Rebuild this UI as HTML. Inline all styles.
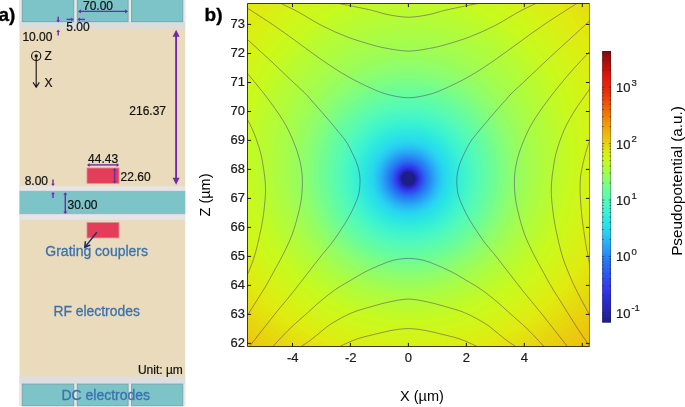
<!DOCTYPE html>
<html><head><meta charset="utf-8"><title>figure</title>
<style>html,body{margin:0;padding:0;background:#fff;}body{width:685px;height:407px;overflow:hidden;font-family:"Liberation Sans", sans-serif;}svg{display:block;will-change:transform;opacity:0.999;}</style></head>
<body>
<svg width="685" height="407" viewBox="0 0 685 407">
<rect width="685" height="407" fill="#fff"/>
<rect x="19.5" y="0" width="165.7" height="405.8" fill="#e9dbbb"/>
<rect x="19.5" y="0.0" width="165.7" height="28.8" fill="#dcdcdc"/>
<rect x="19.5" y="186.1" width="165.7" height="33.7" fill="#e5e5e8"/>
<rect x="19.5" y="376.7" width="165.7" height="29.1" fill="#dedee0"/>
<rect x="19.5" y="0" width="165.7" height="21.8" fill="#ebe8e8"/>
<rect x="19.5" y="384" width="165.7" height="21.8" fill="#ebe8e8"/>
<rect x="19.5" y="191.4" width="165.7" height="22.2" fill="#7dc4c9"/>
<path d="M19.5 191.3H185.2M19.5 213.7H185.2" stroke="#9a9a96" stroke-width="0.8" stroke-opacity="0.7"/>
<rect x="22.2" y="-2" width="51.6" height="23.7" fill="#7dc4c9" stroke="#6fa3a8" stroke-width="0.9"/>
<rect x="22.2" y="384.1" width="51.6" height="21.7" fill="#7dc4c9" stroke="#6fa3a8" stroke-width="0.9"/>
<rect x="77.2" y="-2" width="50.9" height="23.7" fill="#7dc4c9" stroke="#6fa3a8" stroke-width="0.9"/>
<rect x="77.2" y="384.1" width="50.9" height="21.7" fill="#7dc4c9" stroke="#6fa3a8" stroke-width="0.9"/>
<rect x="131.6" y="-2" width="51.2" height="23.7" fill="#7dc4c9" stroke="#6fa3a8" stroke-width="0.9"/>
<rect x="131.6" y="384.1" width="51.2" height="21.7" fill="#7dc4c9" stroke="#6fa3a8" stroke-width="0.9"/>
<rect x="87" y="168.0" width="32" height="15.3" fill="#e43d5a" stroke="#d98a98" stroke-width="0.8"/>
<rect x="87" y="222.6" width="32" height="15.3" fill="#e43d5a" stroke="#d98a98" stroke-width="0.8"/>
<path d="M176.1 35V180" stroke="#6f2aa8" stroke-width="1.9"/><path d="M176.1 29.8l-3.5 7h7zM176.1 184.8l-3.5 -7h7z" fill="#6f2aa8"/>
<path d="M79.5 11.4H126.5" stroke="#6f2aa8" stroke-width="1.4"/><path d="M128.0 11.4l-2.9 -2.2v4.4z" fill="#6f2aa8"/><path d="M78.0 11.4l2.9 -2.2v4.4z" fill="#6f2aa8"/>
<path d="M66.6 19.4H72.3" stroke="#6f2aa8" stroke-width="1.4"/><path d="M73.8 19.4l-2.5 -1.9v3.8z" fill="#6f2aa8"/>
<path d="M79.5 19.4H85" stroke="#6f2aa8" stroke-width="1.4"/><path d="M77.3 19.4l2.6 -1.9v3.8z" fill="#6f2aa8"/>
<path d="M58.2 16.7V20.9" stroke="#6f2aa8" stroke-width="1.4"/><path d="M58.2 22.4l-1.8 -2.3h3.6z" fill="#6f2aa8"/>
<path d="M58.2 31.1V35.6" stroke="#6f2aa8" stroke-width="1.4"/><path d="M58.2 29.6l-1.8 2.3h3.6z" fill="#6f2aa8"/>
<path d="M53.0 179.5V184.5" stroke="#6f2aa8" stroke-width="1.4"/><path d="M53.0 186.0l-1.8 -2.3h3.6z" fill="#6f2aa8"/>
<path d="M53.0 193.5V198.0" stroke="#6f2aa8" stroke-width="1.4"/><path d="M53.0 192.0l-1.8 2.3h3.6z" fill="#6f2aa8"/>
<path d="M65.3 193.7V212.5" stroke="#6f2aa8" stroke-width="1.4"/><path d="M65.3 192.2l-2.0 2.6h4.0z" fill="#6f2aa8"/><path d="M65.3 214.0l-2.0 -2.6h4.0z" fill="#6f2aa8"/>
<path d="M88.5 164.9H117.7" stroke="#6f2aa8" stroke-width="1.4"/><path d="M119.2 164.9l-2.6 -2.0v4.0z" fill="#6f2aa8"/><path d="M87.0 164.9l2.6 -2.0v4.0z" fill="#6f2aa8"/>
<path d="M114.6 169.5V182.1" stroke="#6f2aa8" stroke-width="1.4"/><path d="M114.6 168.0l-2.0 2.6h4.0z" fill="#6f2aa8"/><path d="M114.6 183.6l-2.0 -2.6h4.0z" fill="#6f2aa8"/>
<circle cx="36.2" cy="55.9" r="4.6" fill="none" stroke="#111" stroke-width="1.1"/><circle cx="36.2" cy="55.9" r="1.6" fill="#111"/>
<path d="M36.2 56V87M33.1 82.4L36.2 87.3L39.3 82.4" fill="none" stroke="#111" stroke-width="1.1"/>
<path d="M96.8 232.4L84.9 247.1M85.4 241.2L84.8 247.3L90.3 245" fill="none" stroke="#1f2a63" stroke-width="1.5"/>
<g font-family='"Liberation Sans", sans-serif' font-size="12" fill="#111" stroke="#111" stroke-width="0.2">
<text x="83.0" y="9.6">70.00</text>
<text x="66.3" y="31.2">5.00</text>
<text x="22.4" y="40.5">10.00</text>
<text x="129.3" y="115.1">216.37</text>
<text x="88.1" y="163.0">44.43</text>
<text x="120.6" y="181.1">22.60</text>
<text x="24.7" y="184.5">8.00</text>
<text x="67.5" y="209.1">30.00</text>
<text x="44.6" y="59.8">Z</text>
<text x="44.6" y="86.6">X</text>
<text x="137.9" y="374.3">Unit: µm</text>
</g>
<g font-family='"Liberation Sans", sans-serif' font-size="14" fill="#3a72ae" stroke="#3a72ae" stroke-width="0.3">
<text x="45.3" y="256.4">Grating couplers</text>
<text x="53.4" y="316.2" font-size="13.9">RF electrodes</text>
<text x="61.4" y="399.7">DC electrodes</text>
</g>
<text x="-1.6" y="20.7" font-family='"Liberation Sans", sans-serif' font-size="19" font-weight="bold" fill="#000" stroke="#000" stroke-width="0.35">a)</text>
<clipPath id="pc"><rect x="247.5" y="3.5" width="342.0" height="343.0"/></clipPath>
<g clip-path="url(#pc)">
<rect x="246.5" y="2.5" width="344.0" height="345.0" fill="#f08005"/>
<polygon points="851.2,178.8 861.5,139.2 869.1,97.6 873.8,54.1 875.2,8.9 873.1,-37.9 867.1,-86.0 857.0,-135.3 842.3,-185.3 822.8,-235.6 798.0,-285.6 767.8,-334.4 731.7,-381.3 689.9,-424.8 642.3,-463.8 589.3,-496.5 531.9,-521.4 471.0,-537.0 408.4,-542.3 345.8,-537.0 284.9,-521.4 227.5,-496.5 174.5,-463.8 126.9,-424.8 85.1,-381.3 49.0,-334.4 18.8,-285.6 -6.0,-235.6 -25.5,-185.3 -40.2,-135.3 -50.3,-86.0 -56.3,-37.9 -58.4,8.9 -57.0,54.1 -52.3,97.6 -44.7,139.2 -34.4,178.8 -21.7,216.4 -6.6,252.0 10.4,285.4 29.4,316.8 50.0,345.9 72.1,373.0 95.6,397.8 120.3,420.5 146.2,441.0 173.0,459.4 200.6,475.6 229.0,489.6 257.9,501.5 287.4,511.2 317.3,518.7 347.5,524.1 377.9,527.3 408.4,528.4 438.9,527.3 469.3,524.1 499.5,518.7 529.4,511.2 558.9,501.5 587.8,489.6 616.2,475.6 643.8,459.4 670.6,441.0 696.5,420.5 721.2,397.8 744.7,373.0 766.8,345.9 787.4,316.8 806.4,285.4 823.4,252.0 838.5,216.4" fill="#f08005"/>
<polygon points="839.7,178.8 849.4,140.2 856.4,99.8 860.6,57.6 861.5,13.9 859.0,-31.3 852.7,-77.7 842.3,-125.0 827.5,-172.9 808.0,-220.8 783.5,-268.2 753.7,-314.3 718.5,-358.3 677.8,-398.9 631.8,-435.0 580.9,-465.1 526.0,-487.9 468.0,-502.1 408.4,-506.9 348.8,-502.1 290.8,-487.9 235.9,-465.1 185.0,-435.0 139.0,-398.9 98.3,-358.3 63.1,-314.3 33.3,-268.2 8.8,-220.8 -10.7,-172.9 -25.5,-125.0 -35.9,-77.7 -42.2,-31.3 -44.7,13.9 -43.8,57.6 -39.6,99.8 -32.6,140.2 -22.9,178.8 -10.7,215.5 3.7,250.2 20.1,282.8 38.4,313.5 58.4,342.0 79.9,368.5 102.7,392.8 126.8,415.1 152.0,435.2 178.1,453.2 205.1,469.1 232.8,482.9 261.2,494.5 290.0,504.1 319.3,511.5 348.8,516.8 378.6,519.9 408.4,521.0 438.2,519.9 468.0,516.8 497.5,511.5 526.8,504.1 555.6,494.5 584.0,482.9 611.7,469.1 638.7,453.2 664.8,435.2 690.0,415.1 714.1,392.8 736.9,368.5 758.4,342.0 778.4,313.5 796.7,282.8 813.1,250.2 827.5,215.5" fill="#f08405"/>
<polygon points="828.5,178.8 837.6,141.2 844.1,102.0 847.8,61.1 848.3,18.7 845.4,-25.0 838.7,-69.7 828.2,-115.1 813.3,-161.0 793.9,-206.7 769.7,-251.7 740.4,-295.4 706.0,-336.7 666.5,-374.8 622.1,-408.3 573.2,-436.2 520.5,-457.2 465.2,-470.2 408.4,-474.7 351.6,-470.2 296.3,-457.2 243.6,-436.2 194.7,-408.3 150.3,-374.8 110.8,-336.7 76.4,-295.4 47.1,-251.7 22.9,-206.7 3.5,-161.0 -11.4,-115.1 -21.9,-69.7 -28.6,-25.0 -31.5,18.7 -31.0,61.1 -27.3,102.0 -20.8,141.2 -11.7,178.8 -0.1,214.5 13.7,248.4 29.6,280.3 47.2,310.3 66.6,338.2 87.5,364.1 109.7,388.0 133.1,409.8 157.7,429.5 183.2,447.2 209.6,462.8 236.6,476.3 264.3,487.7 292.5,497.1 321.2,504.4 350.1,509.6 379.2,512.7 408.4,513.7 437.6,512.7 466.7,509.6 495.6,504.4 524.3,497.1 552.5,487.7 580.2,476.3 607.2,462.8 633.6,447.2 659.1,429.5 683.7,409.8 707.1,388.0 729.3,364.1 750.2,338.2 769.6,310.3 787.2,280.3 803.1,248.4 816.9,214.5" fill="#f08805"/>
<polygon points="817.5,178.8 826.2,142.2 832.2,104.1 835.4,64.4 835.5,23.4 832.2,-18.8 825.4,-61.9 814.6,-105.6 799.7,-149.6 780.5,-193.3 756.6,-236.1 727.9,-277.5 694.3,-316.5 656.0,-352.2 613.1,-383.5 566.0,-409.5 515.6,-428.9 462.6,-441.0 408.4,-445.0 354.2,-441.0 301.2,-428.9 250.8,-409.5 203.7,-383.5 160.8,-352.2 122.5,-316.5 88.9,-277.5 60.2,-236.1 36.3,-193.3 17.1,-149.6 2.2,-105.6 -8.6,-61.9 -15.4,-18.8 -18.7,23.4 -18.6,64.4 -15.4,104.1 -9.4,142.2 -0.7,178.8 10.3,213.6 23.5,246.7 38.8,277.8 55.9,307.1 74.6,334.4 94.9,359.8 116.5,383.2 139.4,404.6 163.3,423.9 188.2,441.3 213.9,456.6 240.4,469.8 267.5,481.1 295.0,490.3 323.0,497.4 351.3,502.5 379.8,505.6 408.4,506.6 437.0,505.6 465.5,502.5 493.8,497.4 521.8,490.3 549.3,481.1 576.4,469.8 602.9,456.6 628.6,441.3 653.5,423.9 677.4,404.6 700.3,383.2 721.9,359.8 742.2,334.4 760.9,307.1 778.0,277.8 793.3,246.7 806.5,213.6" fill="#f08d05"/>
<polygon points="806.9,178.8 815.0,143.2 820.6,106.1 823.4,67.6 823.1,27.9 819.5,-12.9 812.5,-54.5 801.6,-96.5 786.8,-138.7 767.7,-180.5 744.1,-221.3 716.0,-260.5 683.3,-297.4 646.1,-331.0 604.7,-360.4 559.4,-384.6 510.9,-402.7 460.3,-413.9 408.4,-417.7 356.5,-413.9 305.9,-402.7 257.4,-384.6 212.1,-360.4 170.7,-331.0 133.5,-297.4 100.8,-260.5 72.7,-221.3 49.1,-180.5 30.0,-138.7 15.2,-96.5 4.3,-54.5 -2.7,-12.9 -6.3,27.9 -6.6,67.6 -3.8,106.1 1.8,143.2 9.9,178.8 20.4,212.7 33.1,245.0 47.8,275.4 64.3,304.0 82.5,330.8 102.2,355.6 123.2,378.5 145.4,399.4 168.8,418.4 193.1,435.4 218.2,450.4 244.0,463.5 270.5,474.5 297.5,483.5 324.9,490.6 352.5,495.6 380.4,498.6 408.4,499.6 436.4,498.6 464.3,495.6 491.9,490.6 519.3,483.5 546.3,474.5 572.8,463.5 598.6,450.4 623.7,435.4 648.0,418.4 671.4,399.4 693.6,378.5 714.6,355.6 734.3,330.8 752.5,304.0 769.0,275.4 783.7,245.0 796.4,212.7" fill="#f09105"/>
<polygon points="796.5,178.8 804.2,144.2 809.3,108.1 811.7,70.7 811.1,32.2 807.3,-7.2 800.1,-47.3 789.1,-87.8 774.3,-128.2 755.4,-168.2 732.3,-207.2 704.8,-244.5 672.9,-279.4 636.8,-311.1 596.8,-338.7 553.1,-361.4 506.6,-378.3 458.1,-388.7 408.4,-392.2 358.7,-388.7 310.2,-378.3 263.7,-361.4 220.0,-338.7 180.0,-311.1 143.9,-279.4 112.0,-244.5 84.5,-207.2 61.4,-168.2 42.5,-128.2 27.7,-87.8 16.7,-47.3 9.5,-7.2 5.7,32.2 5.1,70.7 7.5,108.1 12.6,144.2 20.3,178.8 30.3,211.9 42.5,243.3 56.7,273.1 72.6,301.0 90.2,327.2 109.3,351.5 129.8,373.9 151.4,394.4 174.2,413.0 197.9,429.7 222.4,444.5 247.6,457.2 273.5,468.1 299.9,476.9 326.7,483.8 353.7,488.8 381.0,491.7 408.4,492.7 435.8,491.7 463.1,488.8 490.1,483.8 516.9,476.9 543.3,468.1 569.2,457.2 594.4,444.5 618.9,429.7 642.6,413.0 665.4,394.4 687.0,373.9 707.5,351.5 726.6,327.2 744.2,301.0 760.1,273.1 774.3,243.3 786.5,211.9" fill="#f09506"/>
<polygon points="786.4,178.8 793.7,145.1 798.4,110.0 800.4,73.8 799.5,36.4 795.5,-1.7 788.1,-40.4 777.1,-79.4 762.4,-118.2 743.7,-156.5 721.0,-193.7 694.1,-229.2 663.1,-262.4 628.1,-292.3 589.4,-318.4 547.3,-339.7 502.6,-355.5 456.0,-365.2 408.4,-368.5 360.8,-365.2 314.2,-355.5 269.5,-339.7 227.4,-318.4 188.7,-292.3 153.7,-262.4 122.7,-229.2 95.8,-193.7 73.1,-156.5 54.4,-118.2 39.7,-79.4 28.7,-40.4 21.3,-1.7 17.3,36.4 16.4,73.8 18.4,110.0 23.1,145.1 30.4,178.8 39.9,211.0 51.6,241.7 65.3,270.7 80.7,298.1 97.8,323.7 116.3,347.4 136.2,369.4 157.3,389.5 179.4,407.8 202.6,424.1 226.5,438.6 251.2,451.1 276.5,461.7 302.3,470.4 328.4,477.2 354.9,482.1 381.6,485.0 408.4,485.9 435.2,485.0 461.9,482.1 488.4,477.2 514.5,470.4 540.3,461.7 565.6,451.1 590.3,438.6 614.2,424.1 637.4,407.8 659.5,389.5 680.6,369.4 700.5,347.4 719.0,323.7 736.1,298.1 751.5,270.7 765.2,241.7 776.9,211.0" fill="#f09806"/>
<polygon points="776.6,178.8 783.4,146.0 787.8,111.9 789.5,76.7 788.3,40.5 784.0,3.6 776.5,-33.7 765.6,-71.3 751.0,-108.6 732.5,-145.3 710.2,-180.9 684.0,-214.7 653.8,-246.2 619.8,-274.6 582.4,-299.2 541.8,-319.2 498.8,-334.1 454.1,-343.3 408.4,-346.3 362.7,-343.3 318.0,-334.1 275.0,-319.2 234.4,-299.2 197.0,-274.6 163.0,-246.2 132.8,-214.7 106.6,-180.9 84.3,-145.3 65.8,-108.6 51.2,-71.3 40.3,-33.7 32.8,3.6 28.5,40.5 27.3,76.7 29.0,111.9 33.4,146.0 40.2,178.8 49.3,210.2 60.5,240.1 73.7,268.5 88.6,295.2 105.1,320.2 123.1,343.5 142.5,365.0 163.0,384.7 184.6,402.6 207.2,418.6 230.5,432.8 254.6,445.1 279.4,455.5 304.6,464.1 330.2,470.7 356.1,475.5 382.2,478.3 408.4,479.3 434.6,478.3 460.7,475.5 486.6,470.7 512.2,464.1 537.4,455.5 562.2,445.1 586.3,432.8 609.6,418.6 632.2,402.6 653.8,384.7 674.3,365.0 693.7,343.5 711.7,320.2 728.2,295.2 743.1,268.5 756.3,240.1 767.5,210.2" fill="#ef9c07"/>
<polygon points="767.0,178.8 773.4,146.9 777.4,113.7 778.8,79.5 777.4,44.5 773.0,8.8 765.4,-27.3 754.4,-63.5 740.0,-99.4 721.8,-134.6 700.0,-168.7 674.3,-200.9 644.9,-230.9 612.0,-257.8 575.8,-281.1 536.7,-300.0 495.3,-314.0 452.3,-322.6 408.4,-325.5 364.5,-322.6 321.5,-314.0 280.1,-300.0 241.0,-281.1 204.8,-257.8 171.9,-230.9 142.5,-200.9 116.8,-168.7 95.0,-134.6 76.8,-99.4 62.4,-63.5 51.4,-27.3 43.8,8.8 39.4,44.5 38.0,79.5 39.4,113.7 43.4,146.9 49.8,178.8 58.5,209.4 69.2,238.6 81.9,266.3 96.3,292.4 112.4,316.8 129.8,339.6 148.6,360.7 168.6,380.0 189.7,397.5 211.7,413.2 234.5,427.1 258.1,439.2 282.2,449.4 306.8,457.8 331.9,464.4 357.2,469.0 382.8,471.8 408.4,472.8 434.0,471.8 459.6,469.0 484.9,464.4 510.0,457.8 534.6,449.4 558.7,439.2 582.3,427.1 605.1,413.2 627.1,397.5 648.2,380.0 668.2,360.7 687.0,339.6 704.4,316.8 720.5,292.4 734.9,266.3 747.6,238.6 758.3,209.4" fill="#efa007"/>
<polygon points="757.7,178.8 763.7,147.7 767.4,115.5 768.5,82.3 766.9,48.3 762.3,13.8 754.7,-21.1 743.7,-56.0 729.4,-90.6 711.6,-124.4 690.1,-156.9 665.1,-187.8 636.5,-216.3 604.6,-241.9 569.6,-264.0 531.8,-281.9 492.0,-295.1 450.6,-303.2 408.4,-305.9 366.2,-303.2 324.8,-295.1 285.0,-281.9 247.2,-264.0 212.2,-241.9 180.3,-216.3 151.7,-187.8 126.7,-156.9 105.2,-124.4 87.4,-90.6 73.1,-56.0 62.1,-21.1 54.5,13.8 49.9,48.3 48.3,82.3 49.4,115.5 53.1,147.7 59.1,178.8 67.4,208.6 77.7,237.1 90.0,264.1 103.9,289.6 119.4,313.6 136.4,335.8 154.7,356.5 174.1,375.4 194.7,392.5 216.1,407.9 238.4,421.6 261.4,433.4 285.0,443.5 309.1,451.7 333.6,458.1 358.3,462.7 383.3,465.4 408.4,466.3 433.5,465.4 458.5,462.7 483.2,458.1 507.7,451.7 531.8,443.5 555.4,433.4 578.4,421.6 600.7,407.9 622.1,392.5 642.7,375.4 662.1,356.5 680.4,335.8 697.4,313.6 712.9,289.6 726.8,264.1 739.1,237.1 749.4,208.6" fill="#efa408"/>
<polygon points="748.6,178.8 754.3,148.5 757.7,117.2 758.5,85.0 756.7,52.0 752.0,18.6 744.3,-15.1 733.4,-48.8 719.3,-82.0 701.7,-114.5 680.7,-145.7 656.3,-175.2 628.5,-202.4 597.5,-226.8 563.6,-247.7 527.2,-264.7 488.8,-277.2 449.0,-284.9 408.4,-287.5 367.8,-284.9 328.0,-277.2 289.6,-264.7 253.2,-247.7 219.3,-226.8 188.3,-202.4 160.5,-175.2 136.1,-145.7 115.1,-114.5 97.5,-82.0 83.4,-48.8 72.5,-15.1 64.8,18.6 60.1,52.0 58.3,85.0 59.1,117.2 62.5,148.5 68.2,178.8 76.1,207.9 86.0,235.6 97.8,262.0 111.3,286.9 126.3,310.3 142.8,332.1 160.6,352.3 179.5,370.8 199.5,387.7 220.5,402.8 242.2,416.1 264.7,427.8 287.7,437.6 311.3,445.7 335.2,452.0 359.4,456.5 383.9,459.2 408.4,460.1 432.9,459.2 457.4,456.5 481.6,452.0 505.5,445.7 529.1,437.6 552.1,427.8 574.6,416.1 596.3,402.8 617.3,387.7 637.3,370.8 656.2,352.3 674.0,332.1 690.5,310.3 705.5,286.9 719.0,262.0 730.8,235.6 740.7,207.9" fill="#efa709"/>
<polygon points="739.7,178.8 745.1,149.3 748.2,118.9 748.8,87.6 746.8,55.6 742.0,23.2 734.3,-9.3 723.5,-41.8 709.5,-73.8 692.3,-105.1 671.7,-135.0 647.9,-163.2 620.9,-189.2 590.8,-212.4 558.0,-232.3 522.9,-248.4 485.8,-260.3 447.5,-267.6 408.4,-270.0 369.3,-267.6 331.0,-260.3 293.9,-248.4 258.8,-232.3 226.0,-212.4 195.9,-189.2 168.9,-163.2 145.1,-135.0 124.5,-105.1 107.3,-73.8 93.3,-41.8 82.5,-9.3 74.8,23.2 70.0,55.6 68.0,87.6 68.6,118.9 71.7,149.3 77.1,178.8 84.6,207.1 94.1,234.2 105.5,260.0 118.5,284.3 133.1,307.2 149.1,328.5 166.4,348.3 184.8,366.4 204.3,382.9 224.7,397.7 246.0,410.8 267.9,422.2 290.4,431.9 313.4,439.8 336.8,445.9 360.5,450.4 384.4,453.0 408.4,453.9 432.4,453.0 456.3,450.4 480.0,445.9 503.4,439.8 526.4,431.9 548.9,422.2 570.8,410.8 592.1,397.7 612.5,382.9 632.0,366.4 650.4,348.3 667.7,328.5 683.7,307.2 698.3,284.3 711.3,260.0 722.7,234.2 732.2,207.1" fill="#eeab09"/>
<polygon points="731.1,178.8 736.2,150.1 739.0,120.5 739.4,90.1 737.2,59.1 732.3,27.8 724.6,-3.7 713.9,-35.1 700.1,-66.0 683.2,-96.0 663.1,-124.7 639.9,-151.7 613.6,-176.6 584.4,-198.7 552.7,-217.7 518.7,-233.0 483.0,-244.2 446.0,-251.1 408.4,-253.5 370.8,-251.1 333.8,-244.2 298.1,-233.0 264.1,-217.7 232.4,-198.7 203.2,-176.6 176.9,-151.7 153.7,-124.7 133.6,-96.0 116.7,-66.0 102.9,-35.1 92.2,-3.7 84.5,27.8 79.6,59.1 77.4,90.1 77.8,120.5 80.6,150.1 85.7,178.8 92.9,206.4 102.0,232.8 112.9,258.0 125.6,281.7 139.7,304.1 155.2,325.0 172.0,344.3 190.0,362.1 209.0,378.2 228.9,392.7 249.6,405.6 271.0,416.7 293.0,426.2 315.5,434.0 338.4,440.0 361.6,444.4 384.9,447.0 408.4,447.8 431.9,447.0 455.2,444.4 478.4,440.0 501.3,434.0 523.8,426.2 545.8,416.7 567.2,405.6 587.9,392.7 607.8,378.2 626.8,362.1 644.8,344.3 661.6,325.0 677.1,304.1 691.2,281.7 703.9,258.0 714.8,232.8 723.9,206.4" fill="#eeaf0a"/>
<polygon points="722.7,178.8 727.5,150.9 730.0,122.1 730.2,92.6 727.9,62.5 723.0,32.1 715.2,1.7 704.6,-28.6 691.1,-58.4 674.4,-87.2 654.8,-114.9 632.2,-140.8 606.6,-164.5 578.4,-185.7 547.6,-203.7 514.8,-218.3 480.3,-229.0 444.7,-235.6 408.4,-237.8 372.1,-235.6 336.5,-229.0 302.0,-218.3 269.2,-203.7 238.4,-185.7 210.2,-164.5 184.6,-140.8 162.0,-114.9 142.4,-87.2 125.7,-58.4 112.2,-28.6 101.6,1.7 93.8,32.1 88.9,62.5 86.6,92.6 86.8,122.1 89.3,150.9 94.1,178.8 100.9,205.7 109.7,231.5 120.3,256.0 132.4,279.2 146.2,301.1 161.2,321.5 177.6,340.4 195.1,357.8 213.6,373.6 233.0,387.8 253.2,400.4 274.1,411.4 295.6,420.7 317.6,428.3 340.0,434.2 362.6,438.5 385.5,441.0 408.4,441.9 431.3,441.0 454.2,438.5 476.8,434.2 499.2,428.3 521.2,420.7 542.7,411.4 563.6,400.4 583.8,387.8 603.2,373.6 621.7,357.8 639.2,340.4 655.6,321.5 670.6,301.1 684.4,279.2 696.5,256.0 707.1,231.5 715.9,205.7" fill="#eeb20b"/>
<polygon points="714.5,178.8 719.0,151.6 721.3,123.6 721.3,94.9 718.9,65.8 713.9,36.3 706.2,6.9 695.7,-22.4 682.3,-51.1 666.1,-78.9 646.9,-105.4 624.8,-130.2 600.0,-153.0 572.5,-173.2 542.8,-190.4 511.1,-204.3 477.8,-214.5 443.4,-220.8 408.4,-222.8 373.4,-220.8 339.0,-214.5 305.7,-204.3 274.0,-190.4 244.3,-173.2 216.8,-153.0 192.0,-130.2 169.9,-105.4 150.7,-78.9 134.5,-51.1 121.1,-22.4 110.6,6.9 102.9,36.3 97.9,65.8 95.5,94.9 95.5,123.6 97.8,151.6 102.3,178.8 108.8,205.0 117.2,230.1 127.4,254.1 139.2,276.8 152.5,298.1 167.1,318.1 183.0,336.6 200.0,353.6 218.1,369.1 237.0,383.1 256.7,395.4 277.1,406.1 298.1,415.2 319.6,422.7 341.5,428.5 363.6,432.7 386.0,435.2 408.4,436.0 430.8,435.2 453.2,432.7 475.3,428.5 497.2,422.7 518.7,415.2 539.7,406.1 560.1,395.4 579.8,383.1 598.7,369.1 616.8,353.6 633.8,336.6 649.7,318.1 664.3,298.1 677.6,276.8 689.4,254.1 699.6,230.1 708.0,205.0" fill="#edb50b"/>
<polygon points="706.6,178.8 710.8,152.3 712.9,125.1 712.7,97.3 710.2,69.0 705.1,40.4 697.5,11.9 687.1,-16.3 673.9,-44.0 658.0,-70.8 639.2,-96.3 617.7,-120.2 593.6,-142.0 567.0,-161.3 538.2,-177.8 507.5,-191.0 475.3,-200.7 442.1,-206.7 408.4,-208.7 374.7,-206.7 341.5,-200.7 309.3,-191.0 278.6,-177.8 249.8,-161.3 223.2,-142.0 199.1,-120.2 177.6,-96.3 158.8,-70.8 142.9,-44.0 129.7,-16.3 119.3,11.9 111.7,40.4 106.6,69.0 104.1,97.3 103.9,125.1 106.0,152.3 110.2,178.8 116.5,204.3 124.5,228.9 134.4,252.2 145.8,274.4 158.6,295.3 172.9,314.8 188.3,332.9 204.9,349.6 222.5,364.7 240.9,378.4 260.2,390.5 280.1,401.0 300.6,409.9 321.6,417.3 343.0,423.0 364.6,427.0 386.5,429.5 408.4,430.3 430.3,429.5 452.2,427.0 473.8,423.0 495.2,417.3 516.2,409.9 536.7,401.0 556.6,390.5 575.9,378.4 594.3,364.7 611.9,349.6 628.5,332.9 643.9,314.8 658.2,295.3 671.0,274.4 682.4,252.2 692.3,228.9 700.3,204.3" fill="#edb80c"/>
<polygon points="698.8,178.8 702.8,153.0 704.7,126.6 704.4,99.5 701.7,72.0 696.6,44.4 689.0,16.8 678.8,-10.5 665.8,-37.2 650.2,-63.0 631.9,-87.6 610.9,-110.5 587.5,-131.4 561.7,-149.9 533.8,-165.7 504.1,-178.3 473.0,-187.6 440.9,-193.2 408.4,-195.1 375.9,-193.2 343.8,-187.6 312.7,-178.3 283.0,-165.7 255.1,-149.9 229.3,-131.4 205.9,-110.5 184.9,-87.6 166.6,-63.0 151.0,-37.2 138.0,-10.5 127.8,16.8 120.2,44.4 115.1,72.0 112.4,99.5 112.1,126.6 114.0,153.0 118.0,178.8 123.9,203.7 131.7,227.6 141.2,250.4 152.2,272.1 164.7,292.4 178.5,311.5 193.5,329.3 209.7,345.6 226.8,360.4 244.8,373.8 263.6,385.6 283.0,395.9 303.1,404.7 323.6,411.9 344.4,417.5 365.6,421.5 387.0,423.9 408.4,424.7 429.8,423.9 451.2,421.5 472.4,417.5 493.2,411.9 513.7,404.7 533.8,395.9 553.2,385.6 572.0,373.8 590.0,360.4 607.1,345.6 623.3,329.3 638.3,311.5 652.1,292.4 664.6,272.1 675.6,250.4 685.1,227.6 692.9,203.7" fill="#edbb0c"/>
<polygon points="691.2,178.8 695.0,153.7 696.7,128.0 696.2,101.7 693.5,75.0 688.4,48.2 680.8,21.5 670.7,-4.9 658.0,-30.7 642.7,-55.5 624.9,-79.2 604.4,-101.2 581.6,-121.2 556.6,-139.0 529.6,-154.1 500.8,-166.2 470.8,-175.0 439.8,-180.4 408.4,-182.2 377.0,-180.4 346.0,-175.0 316.0,-166.2 287.2,-154.1 260.2,-139.0 235.2,-121.2 212.4,-101.2 191.9,-79.2 174.1,-55.5 158.8,-30.7 146.1,-4.9 136.0,21.5 128.4,48.2 123.3,75.0 120.6,101.7 120.1,128.0 121.8,153.7 125.6,178.8 131.2,203.0 138.7,226.4 147.8,248.6 158.5,269.8 170.6,289.7 184.0,308.4 198.6,325.7 214.3,341.6 231.0,356.2 248.6,369.3 266.9,380.9 285.9,391.0 305.4,399.6 325.5,406.6 345.9,412.1 366.6,416.1 387.4,418.4 408.4,419.2 429.4,418.4 450.2,416.1 470.9,412.1 491.3,406.6 511.4,399.6 530.9,391.0 549.9,380.9 568.2,369.3 585.8,356.2 602.5,341.6 618.2,325.7 632.8,308.4 646.2,289.7 658.3,269.8 669.0,248.6 678.1,226.4 685.6,203.0" fill="#ecbe0d"/>
<polygon points="683.9,178.8 687.4,154.4 688.9,129.3 688.3,103.8 685.5,77.9 680.4,52.0 672.9,26.1 663.0,0.6 650.5,-24.3 635.5,-48.3 618.1,-71.1 598.2,-92.2 576.0,-111.5 551.7,-128.5 525.5,-143.0 497.7,-154.6 468.7,-163.0 438.8,-168.2 408.4,-169.9 378.0,-168.2 348.1,-163.0 319.1,-154.6 291.3,-143.0 265.1,-128.5 240.8,-111.5 218.6,-92.2 198.7,-71.1 181.3,-48.3 166.3,-24.3 153.8,0.6 143.9,26.1 136.4,52.0 131.3,77.9 128.5,103.8 127.9,129.3 129.4,154.4 132.9,178.8 138.3,202.4 145.5,225.2 154.3,246.9 164.6,267.5 176.3,287.0 189.4,305.3 203.6,322.2 218.9,337.8 235.1,352.1 252.3,364.9 270.1,376.3 288.7,386.2 307.8,394.6 327.4,401.5 347.3,406.9 367.5,410.7 387.9,413.0 408.4,413.8 428.9,413.0 449.3,410.7 469.5,406.9 489.4,401.5 509.0,394.6 528.1,386.2 546.7,376.3 564.5,364.9 581.7,352.1 597.9,337.8 613.2,322.2 627.4,305.3 640.5,287.0 652.2,267.5 662.5,246.9 671.3,225.2 678.5,202.4" fill="#ecc10e"/>
<polygon points="676.7,178.8 680.0,155.0 681.4,130.7 680.7,105.8 677.8,80.7 672.7,55.6 665.3,30.5 655.5,5.8 643.2,-18.2 628.6,-41.4 611.5,-63.3 592.2,-83.7 570.6,-102.2 547.0,-118.5 521.7,-132.4 494.8,-143.5 466.7,-151.6 437.7,-156.5 408.4,-158.2 379.1,-156.5 350.1,-151.6 322.0,-143.5 295.1,-132.4 269.8,-118.5 246.2,-102.2 224.6,-83.7 205.3,-63.3 188.2,-41.4 173.6,-18.2 161.3,5.8 151.5,30.5 144.1,55.6 139.0,80.7 136.1,105.8 135.4,130.7 136.8,155.0 140.1,178.8 145.2,201.8 152.1,224.0 160.6,245.2 170.6,265.3 182.0,284.4 194.6,302.2 208.5,318.8 223.4,334.1 239.2,348.0 255.9,360.6 273.3,371.7 291.4,381.4 310.1,389.7 329.2,396.4 348.7,401.7 368.4,405.5 388.4,407.7 408.4,408.5 428.4,407.7 448.4,405.5 468.1,401.7 487.6,396.4 506.7,389.7 525.4,381.4 543.5,371.7 560.9,360.6 577.6,348.0 593.4,334.1 608.3,318.8 622.2,302.2 634.8,284.4 646.2,265.3 656.2,245.2 664.7,224.0 671.6,201.8" fill="#ebc40e"/>
<polygon points="669.7,178.8 672.8,155.7 674.0,132.0 673.2,107.8 670.3,83.5 665.2,59.0 657.9,34.8 648.2,10.9 636.2,-12.4 621.9,-34.7 605.3,-55.8 586.4,-75.4 565.4,-93.2 542.6,-108.9 518.0,-122.2 491.9,-132.8 464.7,-140.6 436.8,-145.3 408.4,-146.9 380.0,-145.3 352.1,-140.6 324.9,-132.8 298.8,-122.2 274.2,-108.9 251.4,-93.2 230.4,-75.4 211.5,-55.8 194.9,-34.7 180.6,-12.4 168.6,10.9 158.9,34.8 151.6,59.0 146.5,83.5 143.6,107.8 142.8,132.0 144.0,155.7 147.1,178.8 152.0,201.2 158.6,222.8 166.8,243.5 176.5,263.2 187.5,281.8 199.8,299.2 213.2,315.5 227.7,330.4 243.2,344.0 259.4,356.3 276.4,367.2 294.1,376.8 312.3,384.8 331.0,391.5 350.0,396.6 369.3,400.3 388.8,402.6 408.4,403.3 428.0,402.6 447.5,400.3 466.8,396.6 485.8,391.5 504.5,384.8 522.7,376.8 540.4,367.2 557.4,356.3 573.6,344.0 589.1,330.4 603.6,315.5 617.0,299.2 629.3,281.8 640.3,263.2 650.0,243.5 658.2,222.8 664.8,201.2" fill="#ebc70f"/>
<polygon points="662.9,178.8 665.8,156.3 666.9,133.2 666.0,109.8 663.0,86.1 658.0,62.4 650.7,38.9 641.2,15.8 629.4,-6.7 615.4,-28.2 599.2,-48.6 580.8,-67.5 560.5,-84.6 538.3,-99.7 514.4,-112.4 489.2,-122.6 462.9,-130.1 435.8,-134.6 408.4,-136.1 381.0,-134.6 353.9,-130.1 327.6,-122.6 302.4,-112.4 278.5,-99.7 256.3,-84.6 236.0,-67.5 217.6,-48.6 201.4,-28.2 187.4,-6.7 175.6,15.8 166.1,38.9 158.8,62.4 153.8,86.1 150.8,109.8 149.9,133.2 151.0,156.3 153.9,178.8 158.6,200.7 164.9,221.7 172.8,241.9 182.2,261.1 192.9,279.3 204.8,296.3 217.9,312.2 232.0,326.8 247.0,340.2 262.9,352.2 279.5,362.9 296.7,372.2 314.5,380.1 332.8,386.6 351.4,391.7 370.2,395.3 389.3,397.5 408.4,398.2 427.5,397.5 446.6,395.3 465.4,391.7 484.0,386.6 502.3,380.1 520.1,372.2 537.3,362.9 553.9,352.2 569.8,340.2 584.8,326.8 598.9,312.2 612.0,296.3 623.9,279.3 634.6,261.1 644.0,241.9 651.9,221.7 658.2,200.7" fill="#eacb0f"/>
<polygon points="656.3,178.8 659.0,156.9 660.0,134.4 659.0,111.7 656.0,88.7 650.9,65.7 643.7,42.9 634.4,20.6 622.9,-1.2 609.2,-22.0 593.4,-41.6 575.5,-59.8 555.7,-76.3 534.1,-90.8 511.0,-103.1 486.5,-112.9 461.1,-120.0 434.9,-124.3 408.4,-125.8 381.9,-124.3 355.7,-120.0 330.3,-112.9 305.8,-103.1 282.7,-90.8 261.1,-76.3 241.3,-59.8 223.4,-41.6 207.6,-22.0 193.9,-1.2 182.4,20.6 173.1,42.9 165.9,65.7 160.8,88.7 157.8,111.7 156.8,134.4 157.8,156.9 160.5,178.8 165.0,200.1 171.1,220.6 178.7,240.3 187.8,259.1 198.1,276.8 209.7,293.5 222.5,309.0 236.2,323.3 250.8,336.4 266.3,348.1 282.5,358.6 299.3,367.7 316.7,375.5 334.5,381.8 352.7,386.8 371.1,390.4 389.7,392.5 408.4,393.2 427.1,392.5 445.7,390.4 464.1,386.8 482.3,381.8 500.1,375.5 517.5,367.7 534.3,358.6 550.5,348.1 566.0,336.4 580.6,323.3 594.3,309.0 607.1,293.5 618.7,276.8 629.0,259.1 638.1,240.3 645.7,220.6 651.8,200.1" fill="#e9cf0f"/>
<polygon points="649.8,178.8 652.4,157.5 653.2,135.6 652.2,113.5 649.1,91.2 644.1,68.9 637.0,46.8 627.8,25.1 616.5,4.1 603.2,-16.0 587.7,-34.9 570.3,-52.5 551.1,-68.3 530.1,-82.3 507.7,-94.1 484.0,-103.5 459.4,-110.3 434.1,-114.5 408.4,-115.9 382.7,-114.5 357.4,-110.3 332.8,-103.5 309.1,-94.1 286.7,-82.3 265.7,-68.3 246.5,-52.5 229.1,-34.9 213.6,-16.0 200.3,4.1 189.0,25.1 179.8,46.8 172.7,68.9 167.7,91.2 164.6,113.5 163.6,135.6 164.4,157.5 167.0,178.8 171.2,199.6 177.1,219.6 184.5,238.8 193.2,257.1 203.3,274.4 214.5,290.7 226.9,305.9 240.3,319.9 254.6,332.6 269.6,344.2 285.4,354.4 301.9,363.3 318.8,370.9 336.2,377.2 353.9,382.0 371.9,385.5 390.1,387.6 408.4,388.3 426.7,387.6 444.9,385.5 462.9,382.0 480.6,377.2 498.0,370.9 514.9,363.3 531.4,354.4 547.2,344.2 562.2,332.6 576.5,319.9 589.9,305.9 602.3,290.7 613.5,274.4 623.6,257.1 632.3,238.8 639.7,219.6 645.6,199.6" fill="#e8d30f"/>
<polygon points="643.6,178.8 646.0,158.0 646.7,136.8 645.5,115.3 642.5,93.6 637.5,72.0 630.5,50.6 621.5,29.6 610.4,9.3 597.3,-10.1 582.3,-28.4 565.4,-45.4 546.6,-60.7 526.3,-74.1 504.6,-85.4 481.6,-94.5 457.7,-101.0 433.2,-105.0 408.4,-106.4 383.6,-105.0 359.1,-101.0 335.2,-94.5 312.2,-85.4 290.5,-74.1 270.2,-60.7 251.4,-45.4 234.5,-28.4 219.5,-10.1 206.4,9.3 195.3,29.6 186.3,50.6 179.3,72.0 174.3,93.6 171.3,115.3 170.1,136.8 170.8,158.0 173.2,178.8 177.3,199.0 183.0,218.6 190.1,237.3 198.5,255.2 208.3,272.1 219.3,288.0 231.3,302.8 244.3,316.5 258.2,329.0 272.9,340.3 288.3,350.3 304.3,359.0 320.9,366.5 337.9,372.6 355.2,377.3 372.8,380.8 390.6,382.8 408.4,383.5 426.2,382.8 444.0,380.8 461.6,377.3 478.9,372.6 495.9,366.5 512.5,359.0 528.5,350.3 543.9,340.3 558.6,329.0 572.5,316.5 585.5,302.8 597.5,288.0 608.5,272.1 618.3,255.2 626.7,237.3 633.8,218.6 639.5,199.0" fill="#e7d70f"/>
<polygon points="637.4,178.8 639.7,158.6 640.3,137.9 639.1,117.0 636.0,95.9 631.1,75.0 624.2,54.2 615.3,33.9 604.5,14.2 591.7,-4.5 577.1,-22.2 560.6,-38.5 542.4,-53.3 522.6,-66.2 501.5,-77.1 479.3,-85.8 456.2,-92.1 432.4,-96.0 408.4,-97.2 384.4,-96.0 360.6,-92.1 337.5,-85.8 315.3,-77.1 294.2,-66.2 274.4,-53.3 256.2,-38.5 239.7,-22.2 225.1,-4.5 212.3,14.2 201.5,33.9 192.6,54.2 185.7,75.0 180.8,95.9 177.7,117.0 176.5,137.9 177.1,158.6 179.4,178.8 183.3,198.5 188.7,217.5 195.5,235.8 203.8,253.3 213.2,269.8 223.9,285.3 235.6,299.8 248.2,313.2 261.8,325.4 276.1,336.5 291.1,346.3 306.8,354.8 322.9,362.1 339.5,368.1 356.4,372.7 373.6,376.1 391.0,378.1 408.4,378.8 425.8,378.1 443.2,376.1 460.4,372.7 477.3,368.1 493.9,362.1 510.0,354.8 525.7,346.3 540.7,336.5 555.0,325.4 568.6,313.2 581.2,299.8 592.9,285.3 603.6,269.8 613.0,253.3 621.3,235.8 628.1,217.5 633.5,198.5" fill="#e5dc0f"/>
<polygon points="631.5,178.8 633.6,159.1 634.1,139.0 632.8,118.7 629.8,98.2 624.9,77.9 618.1,57.7 609.4,38.1 598.8,19.0 586.3,0.9 572.0,-16.2 556.0,-31.9 538.3,-46.1 519.1,-58.6 498.6,-69.1 477.1,-77.4 454.7,-83.5 431.7,-87.2 408.4,-88.5 385.1,-87.2 362.1,-83.5 339.7,-77.4 318.2,-69.1 297.7,-58.6 278.5,-46.1 260.8,-31.9 244.8,-16.2 230.5,0.9 218.0,19.0 207.4,38.1 198.7,57.7 191.9,77.9 187.0,98.2 184.0,118.7 182.7,139.0 183.2,159.1 185.3,178.8 189.0,198.0 194.3,216.6 200.9,234.4 208.8,251.4 218.0,267.6 228.4,282.7 239.7,296.9 252.1,310.0 265.3,321.9 279.2,332.7 293.9,342.3 309.2,350.7 324.9,357.8 341.1,363.6 357.6,368.2 374.4,371.5 391.4,373.4 408.4,374.1 425.4,373.4 442.4,371.5 459.2,368.2 475.7,363.6 491.9,357.8 507.6,350.7 522.9,342.3 537.6,332.7 551.5,321.9 564.7,310.0 577.1,296.9 588.4,282.7 598.8,267.6 608.0,251.4 615.9,234.4 622.5,216.6 627.8,198.0" fill="#e4e00f"/>
<polygon points="625.7,178.8 627.7,159.6 628.0,140.1 626.7,120.3 623.7,100.4 618.8,80.7 612.1,61.2 603.6,42.1 593.2,23.7 581.1,6.1 567.1,-10.4 551.5,-25.6 534.3,-39.3 515.7,-51.3 495.8,-61.4 474.9,-69.4 453.2,-75.3 430.9,-78.8 408.4,-80.0 385.9,-78.8 363.6,-75.3 341.9,-69.4 321.0,-61.4 301.1,-51.3 282.5,-39.3 265.3,-25.6 249.7,-10.4 235.7,6.1 223.6,23.7 213.2,42.1 204.7,61.2 198.0,80.7 193.1,100.4 190.1,120.3 188.8,140.1 189.1,159.6 191.1,178.8 194.7,197.5 199.7,215.6 206.1,233.0 213.8,249.6 222.7,265.4 232.8,280.2 243.8,294.0 255.9,306.8 268.7,318.5 282.3,329.0 296.6,338.4 311.5,346.6 326.9,353.6 342.7,359.3 358.8,363.7 375.2,366.9 391.8,368.9 408.4,369.5 425.0,368.9 441.6,366.9 458.0,363.7 474.1,359.3 489.9,353.6 505.3,346.6 520.2,338.4 534.5,329.0 548.1,318.5 560.9,306.8 573.0,294.0 584.0,280.2 594.1,265.4 603.0,249.6 610.7,233.0 617.1,215.6 622.1,197.5" fill="#e3e40f"/>
<polygon points="620.0,178.8 621.9,160.1 622.2,141.1 620.8,121.9 617.8,102.6 613.0,83.4 606.4,64.5 598.0,46.0 587.9,28.2 576.0,11.2 562.4,-4.7 547.2,-19.4 530.5,-32.6 512.4,-44.2 493.1,-54.0 472.8,-61.7 451.8,-67.4 430.2,-70.8 408.4,-71.9 386.6,-70.8 365.0,-67.4 344.0,-61.7 323.7,-54.0 304.4,-44.2 286.3,-32.6 269.6,-19.4 254.4,-4.7 240.8,11.2 228.9,28.2 218.8,46.0 210.4,64.5 203.8,83.4 199.0,102.6 196.0,121.9 194.6,141.1 194.9,160.1 196.8,178.8 200.2,197.0 205.0,214.7 211.2,231.6 218.7,247.8 227.4,263.2 237.1,277.7 247.9,291.2 259.6,303.7 272.1,315.1 285.4,325.4 299.3,334.6 313.9,342.6 328.9,349.4 344.3,355.0 360.0,359.3 376.0,362.4 392.2,364.3 408.4,364.9 424.6,364.3 440.8,362.4 456.8,359.3 472.5,355.0 487.9,349.4 502.9,342.6 517.5,334.6 531.4,325.4 544.7,315.1 557.2,303.7 568.9,291.2 579.7,277.7 589.4,263.2 598.1,247.8 605.6,231.6 611.8,214.7 616.6,197.0" fill="#e2e80f"/>
<polygon points="614.5,178.8 616.2,160.6 616.4,142.1 615.1,123.4 612.0,104.7 607.3,86.1 600.8,67.7 592.6,49.8 582.7,32.5 571.1,16.1 557.8,0.7 543.0,-13.5 526.8,-26.2 509.2,-37.4 490.5,-46.8 470.9,-54.3 450.5,-59.7 429.6,-63.0 408.4,-64.1 387.2,-63.0 366.3,-59.7 345.9,-54.3 326.3,-46.8 307.6,-37.4 290.0,-26.2 273.8,-13.5 259.0,0.7 245.7,16.1 234.1,32.5 224.2,49.8 216.0,67.7 209.5,86.1 204.8,104.7 201.7,123.4 200.4,142.1 200.6,160.6 202.3,178.8 205.6,196.5 210.3,213.7 216.2,230.3 223.5,246.1 231.9,261.1 241.4,275.2 251.9,288.4 263.2,300.6 275.5,311.7 288.4,321.8 302.0,330.8 316.2,338.6 330.8,345.2 345.8,350.7 361.2,354.9 376.8,358.0 392.6,359.8 408.4,360.4 424.2,359.8 440.0,358.0 455.6,354.9 471.0,350.7 486.0,345.2 500.6,338.6 514.8,330.8 528.4,321.8 541.3,311.7 553.6,300.6 564.9,288.4 575.4,275.2 584.9,261.1 593.3,246.1 600.6,230.3 606.5,213.7 611.2,196.5" fill="#e0ec10"/>
<polygon points="609.0,178.8 610.7,161.1 610.9,143.1 609.5,124.9 606.4,106.7 601.8,88.6 595.4,70.8 587.4,53.5 577.7,36.8 566.3,20.9 553.4,6.0 539.0,-7.8 523.2,-20.1 506.2,-30.9 488.0,-39.9 468.9,-47.1 449.2,-52.3 428.9,-55.5 408.4,-56.6 387.9,-55.5 367.6,-52.3 347.9,-47.1 328.8,-39.9 310.6,-30.9 293.6,-20.1 277.8,-7.8 263.4,6.0 250.5,20.9 239.1,36.8 229.4,53.5 221.4,70.8 215.0,88.6 210.4,106.7 207.3,124.9 205.9,143.1 206.1,161.1 207.8,178.8 210.9,196.1 215.4,212.8 221.2,229.0 228.2,244.4 236.4,259.0 245.6,272.8 255.8,285.7 266.9,297.6 278.8,308.4 291.4,318.3 304.6,327.0 318.4,334.6 332.7,341.1 347.4,346.4 362.4,350.6 377.6,353.6 393.0,355.4 408.4,356.0 423.8,355.4 439.2,353.6 454.4,350.6 469.4,346.4 484.1,341.1 498.4,334.6 512.2,327.0 525.4,318.3 538.0,308.4 549.9,297.6 561.0,285.7 571.2,272.8 580.4,259.0 588.6,244.4 595.6,229.0 601.4,212.8 605.9,196.1" fill="#dded11"/>
<polygon points="603.7,178.8 605.3,161.6 605.4,144.1 604.0,126.4 601.0,108.7 596.4,91.1 590.1,73.9 582.3,57.0 572.8,40.8 561.8,25.4 549.2,11.0 535.1,-2.2 519.8,-14.1 503.2,-24.5 485.6,-33.3 467.1,-40.2 447.9,-45.3 428.3,-48.3 408.4,-49.3 388.5,-48.3 368.9,-45.3 349.7,-40.2 331.2,-33.3 313.6,-24.5 297.0,-14.1 281.7,-2.2 267.6,11.0 255.0,25.4 244.0,40.8 234.5,57.0 226.7,73.9 220.4,91.1 215.8,108.7 212.8,126.4 211.4,144.1 211.5,161.6 213.1,178.8 216.1,195.6 220.4,211.9 226.0,227.7 232.8,242.7 240.8,257.0 249.7,270.4 259.7,282.9 270.5,294.5 282.0,305.2 294.3,314.7 307.3,323.3 320.7,330.7 334.6,337.0 348.9,342.2 363.5,346.3 378.4,349.2 393.3,350.9 408.4,351.5 423.5,350.9 438.4,349.2 453.3,346.3 467.9,342.2 482.2,337.0 496.1,330.7 509.5,323.3 522.5,314.7 534.8,305.2 546.3,294.5 557.1,282.9 567.1,270.4 576.0,257.0 584.0,242.7 590.8,227.7 596.4,211.9 600.7,195.6" fill="#daef13"/>
<polygon points="598.5,178.8 600.0,162.0 600.1,145.0 598.6,127.8 595.7,110.6 591.1,93.6 585.0,76.8 577.3,60.5 568.1,44.8 557.3,29.9 545.0,16.0 531.4,3.1 516.5,-8.4 500.4,-18.4 483.2,-26.8 465.3,-33.5 446.7,-38.4 427.7,-41.4 408.4,-42.3 389.1,-41.4 370.1,-38.4 351.5,-33.5 333.6,-26.8 316.4,-18.4 300.3,-8.4 285.4,3.1 271.8,16.0 259.5,29.9 248.7,44.8 239.5,60.5 231.8,76.8 225.7,93.6 221.1,110.6 218.2,127.8 216.7,145.0 216.8,162.0 218.3,178.8 221.2,195.2 225.4,211.1 230.8,226.4 237.4,241.0 245.1,254.9 253.9,268.0 263.5,280.2 274.0,291.5 285.3,301.9 297.3,311.2 309.9,319.5 323.0,326.8 336.5,332.9 350.5,338.0 364.7,341.9 379.1,344.8 393.7,346.5 408.4,347.0 423.1,346.5 437.7,344.8 452.1,341.9 466.3,338.0 480.3,332.9 493.8,326.8 506.9,319.5 519.5,311.2 531.5,301.9 542.8,291.5 553.3,280.2 562.9,268.0 571.7,254.9 579.4,241.0 586.0,226.4 591.4,211.1 595.6,195.2" fill="#d7f115"/>
<polygon points="593.4,178.8 594.8,162.5 594.8,145.9 593.4,129.2 590.5,112.5 586.0,96.0 580.0,79.7 572.5,63.9 563.5,48.7 553.0,34.2 541.0,20.7 527.8,8.3 513.2,-2.8 497.6,-12.5 481.0,-20.6 463.6,-27.1 445.5,-31.8 427.1,-34.6 408.4,-35.6 389.7,-34.6 371.3,-31.8 353.2,-27.1 335.8,-20.6 319.2,-12.5 303.6,-2.8 289.0,8.3 275.8,20.7 263.8,34.2 253.3,48.7 244.3,63.9 236.8,79.7 230.8,96.0 226.3,112.5 223.4,129.2 222.0,145.9 222.0,162.5 223.4,178.8 226.2,194.7 230.3,210.2 235.5,225.1 242.0,239.4 249.5,252.9 258.0,265.7 267.4,277.6 277.6,288.6 288.6,298.6 300.2,307.7 312.5,315.8 325.2,322.8 338.4,328.8 352.0,333.8 365.9,337.6 379.9,340.3 394.1,342.0 408.4,342.6 422.7,342.0 436.9,340.3 450.9,337.6 464.8,333.8 478.4,328.8 491.6,322.8 504.3,315.8 516.6,307.7 528.2,298.6 539.2,288.6 549.4,277.6 558.8,265.7 567.3,252.9 574.8,239.4 581.3,225.1 586.5,210.2 590.6,194.7" fill="#d4f317"/>
<polygon points="588.3,178.8 589.7,162.9 589.7,146.8 588.3,130.6 585.4,114.4 581.0,98.3 575.2,82.5 567.8,67.2 559.0,52.4 548.8,38.4 537.1,25.4 524.2,13.4 510.1,2.6 494.9,-6.8 478.8,-14.6 461.9,-20.9 444.4,-25.4 426.5,-28.1 408.4,-29.1 390.3,-28.1 372.4,-25.4 354.9,-20.9 338.0,-14.6 321.9,-6.8 306.7,2.6 292.6,13.4 279.7,25.4 268.0,38.4 257.8,52.4 249.0,67.2 241.6,82.5 235.8,98.3 231.4,114.4 228.5,130.6 227.1,146.8 227.1,162.9 228.5,178.8 231.2,194.3 235.1,209.4 240.3,223.9 246.5,237.7 253.8,250.9 262.1,263.3 271.2,274.9 281.2,285.6 291.9,295.3 303.2,304.2 315.1,312.0 327.5,318.9 340.4,324.7 353.5,329.5 367.0,333.2 380.7,335.9 394.5,337.5 408.4,338.1 422.3,337.5 436.1,335.9 449.8,333.2 463.3,329.5 476.4,324.7 489.3,318.9 501.7,312.0 513.6,304.2 524.9,295.3 535.6,285.6 545.6,274.9 554.7,263.3 563.0,250.9 570.3,237.7 576.5,223.9 581.7,209.4 585.6,194.3" fill="#d1f519"/>
<polygon points="583.3,178.8 584.6,163.4 584.6,147.7 583.2,132.0 580.3,116.2 576.1,100.6 570.4,85.3 563.2,70.4 554.6,56.1 544.7,42.5 533.3,29.9 520.8,18.3 507.1,7.9 492.3,-1.2 476.7,-8.8 460.3,-14.8 443.3,-19.2 426.0,-21.9 408.4,-22.7 390.8,-21.9 373.5,-19.2 356.5,-14.8 340.1,-8.8 324.5,-1.2 309.7,7.9 296.0,18.3 283.5,29.9 272.1,42.5 262.2,56.1 253.6,70.4 246.4,85.3 240.7,100.6 236.5,116.2 233.6,132.0 232.2,147.7 232.2,163.4 233.5,178.8 236.1,193.9 240.0,208.5 245.0,222.6 251.1,236.1 258.1,248.9 266.2,260.9 275.1,272.2 284.8,282.6 295.1,292.1 306.2,300.6 317.7,308.3 329.8,314.9 342.3,320.6 355.1,325.2 368.2,328.9 381.5,331.5 394.9,333.0 408.4,333.6 421.9,333.0 435.3,331.5 448.6,328.9 461.7,325.2 474.5,320.6 487.0,314.9 499.1,308.3 510.6,300.6 521.7,292.1 532.0,282.6 541.7,272.2 550.6,260.9 558.7,248.9 565.7,236.1 571.8,222.6 576.8,208.5 580.7,193.9" fill="#cef71b"/>
<polygon points="578.2,178.8 579.5,163.8 579.5,148.6 578.1,133.3 575.4,118.0 571.2,102.9 565.6,88.0 558.7,73.6 550.3,59.7 540.6,46.6 529.6,34.3 517.4,23.1 504.1,13.0 489.8,4.2 474.6,-3.1 458.7,-8.9 442.2,-13.2 425.4,-15.7 408.4,-16.6 391.4,-15.7 374.6,-13.2 358.1,-8.9 342.2,-3.1 327.0,4.2 312.7,13.0 299.4,23.1 287.2,34.3 276.2,46.6 266.5,59.7 258.1,73.6 251.2,88.0 245.6,102.9 241.4,118.0 238.7,133.3 237.3,148.6 237.3,163.8 238.6,178.8 241.1,193.4 244.8,207.6 249.7,221.3 255.6,234.4 262.5,246.8 270.3,258.5 278.9,269.4 288.3,279.5 298.4,288.8 309.1,297.1 320.4,304.5 332.1,311.0 344.2,316.5 356.7,321.0 369.4,324.5 382.3,327.0 395.3,328.5 408.4,329.1 421.5,328.5 434.5,327.0 447.4,324.5 460.1,321.0 472.6,316.5 484.7,311.0 496.4,304.5 507.7,297.1 518.4,288.8 528.5,279.5 537.9,269.4 546.5,258.5 554.3,246.8 561.2,234.4 567.1,221.3 572.0,207.6 575.7,193.4" fill="#cbf81c"/>
<polygon points="573.2,178.8 574.4,164.3 574.4,149.5 573.1,134.7 570.4,119.8 566.4,105.1 561.0,90.7 554.2,76.7 546.1,63.3 536.6,50.6 526.0,38.7 514.1,27.8 501.2,18.1 487.3,9.6 472.6,2.5 457.2,-3.2 441.2,-7.3 424.9,-9.8 408.4,-10.6 391.9,-9.8 375.6,-7.3 359.6,-3.2 344.2,2.5 329.5,9.6 315.6,18.1 302.7,27.8 290.8,38.7 280.2,50.6 270.7,63.3 262.6,76.7 255.8,90.7 250.4,105.1 246.4,119.8 243.7,134.7 242.4,149.5 242.4,164.3 243.6,178.8 246.1,193.0 249.7,206.8 254.4,220.1 260.2,232.7 266.9,244.8 274.4,256.1 282.8,266.7 291.9,276.5 301.7,285.5 312.1,293.6 323.0,300.7 334.4,307.0 346.1,312.4 358.2,316.7 370.5,320.2 383.0,322.6 395.7,324.1 408.4,324.6 421.1,324.1 433.8,322.6 446.3,320.2 458.6,316.7 470.7,312.4 482.4,307.0 493.8,300.7 504.7,293.6 515.1,285.5 524.9,276.5 534.0,266.7 542.4,256.1 549.9,244.8 556.6,232.7 562.4,220.1 567.1,206.8 570.7,193.0" fill="#c8fa1e"/>
<polygon points="568.1,178.8 569.3,164.7 569.3,150.4 568.0,136.0 565.4,121.6 561.5,107.4 556.3,93.4 549.7,79.8 541.9,66.8 532.7,54.5 522.4,43.0 510.9,32.5 498.3,23.0 484.9,14.8 470.6,7.9 455.6,2.5 440.2,-1.5 424.4,-3.9 408.4,-4.7 392.4,-3.9 376.6,-1.5 361.2,2.5 346.2,7.9 331.9,14.8 318.5,23.0 305.9,32.5 294.4,43.0 284.1,54.5 274.9,66.8 267.1,79.8 260.5,93.4 255.3,107.4 251.4,121.6 248.8,136.0 247.5,150.4 247.5,164.7 248.7,178.8 251.1,192.6 254.6,205.9 259.2,218.8 264.8,231.1 271.2,242.8 278.6,253.8 286.7,264.0 295.5,273.5 305.0,282.2 315.1,290.0 325.6,297.0 336.6,303.1 348.0,308.3 359.7,312.6 371.7,315.9 383.8,318.3 396.1,319.7 408.4,320.2 420.7,319.7 433.0,318.3 445.1,315.9 457.1,312.6 468.8,308.3 480.2,303.1 491.2,297.0 501.7,290.0 511.8,282.2 521.3,273.5 530.1,264.0 538.2,253.8 545.6,242.8 552.0,231.1 557.6,218.8 562.2,205.9 565.7,192.6" fill="#c4fa24"/>
<polygon points="563.0,178.8 564.2,165.2 564.2,151.3 562.9,137.4 560.5,123.5 556.7,109.7 551.6,96.1 545.3,83.0 537.6,70.4 528.8,58.4 518.8,47.3 507.6,37.1 495.5,27.9 482.5,20.0 468.6,13.3 454.2,8.1 439.2,4.2 423.9,1.9 408.4,1.1 392.9,1.9 377.6,4.2 362.6,8.1 348.2,13.3 334.3,20.0 321.3,27.9 309.2,37.1 298.0,47.3 288.0,58.4 279.2,70.4 271.5,83.0 265.2,96.1 260.1,109.7 256.3,123.5 253.9,137.4 252.6,151.3 252.6,165.2 253.8,178.8 256.1,192.1 259.5,205.0 264.0,217.5 269.3,229.4 275.6,240.7 282.7,251.4 290.5,261.3 299.1,270.5 308.2,279.0 317.9,286.6 328.2,293.4 338.8,299.3 349.9,304.3 361.2,308.5 372.8,311.7 384.5,314.1 396.4,315.5 408.4,315.9 420.4,315.5 432.3,314.1 444.0,311.7 455.6,308.5 466.9,304.3 478.0,299.3 488.6,293.4 498.9,286.6 508.6,279.0 517.7,270.5 526.3,261.3 534.1,251.4 541.2,240.7 547.5,229.4 552.8,217.5 557.3,205.0 560.7,192.1" fill="#bffb29"/>
<polygon points="557.9,178.8 559.0,165.6 559.0,152.2 557.9,138.8 555.5,125.3 551.8,111.9 546.9,98.8 540.8,86.1 533.4,73.9 524.9,62.3 515.2,51.6 504.4,41.7 492.7,32.9 480.0,25.2 466.7,18.7 452.7,13.6 438.2,9.9 423.4,7.7 408.4,6.9 393.4,7.7 378.6,9.9 364.1,13.6 350.1,18.7 336.8,25.2 324.1,32.9 312.4,41.7 301.6,51.6 291.9,62.3 283.4,73.9 276.0,86.1 269.9,98.8 265.0,111.9 261.3,125.3 258.9,138.8 257.8,152.2 257.8,165.6 258.9,178.8 261.1,191.7 264.4,204.2 268.7,216.2 273.8,227.8 279.9,238.7 286.7,249.1 294.3,258.7 302.5,267.7 311.3,275.9 320.7,283.3 330.6,289.9 340.9,295.6 351.6,300.5 362.6,304.6 373.8,307.7 385.3,310.0 396.8,311.4 408.4,311.8 420.0,311.4 431.5,310.0 443.0,307.7 454.2,304.6 465.2,300.5 475.9,295.6 486.2,289.9 496.1,283.3 505.5,275.9 514.3,267.7 522.5,258.7 530.1,249.1 536.9,238.7 543.0,227.8 548.1,216.2 552.4,204.2 555.7,191.7" fill="#bbfb2e"/>
<polygon points="552.9,178.8 554.0,166.1 553.9,153.1 552.8,140.1 550.4,127.1 546.9,114.2 542.2,101.6 536.3,89.3 529.2,77.5 520.9,66.3 511.5,55.9 501.1,46.3 489.8,37.8 477.6,30.4 464.7,24.1 451.2,19.2 437.2,15.6 422.9,13.5 408.4,12.7 393.9,13.5 379.6,15.6 365.6,19.2 352.1,24.1 339.2,30.4 327.0,37.8 315.7,46.3 305.3,55.9 295.9,66.3 287.6,77.5 280.5,89.3 274.6,101.6 269.9,114.2 266.4,127.1 264.0,140.1 262.9,153.1 262.8,166.1 263.9,178.8 266.0,191.3 269.2,203.3 273.2,215.0 278.2,226.2 284.0,236.8 290.6,246.8 297.9,256.2 305.8,264.9 314.3,272.9 323.4,280.1 333.0,286.5 343.0,292.1 353.3,296.9 364.0,300.9 374.9,303.9 385.9,306.1 397.1,307.5 408.4,307.9 419.7,307.5 430.9,306.1 441.9,303.9 452.8,300.9 463.5,296.9 473.8,292.1 483.8,286.5 493.4,280.1 502.5,272.9 511.0,264.9 518.9,256.2 526.2,246.8 532.8,236.8 538.6,226.2 543.6,215.0 547.6,203.3 550.8,191.3" fill="#b7fb34"/>
<polygon points="548.0,178.8 549.0,166.5 548.9,154.0 547.8,141.5 545.5,128.9 542.1,116.5 537.5,104.3 531.8,92.4 524.9,81.0 516.9,70.3 507.9,60.2 497.9,51.0 486.9,42.8 475.2,35.6 462.7,29.6 449.7,24.8 436.2,21.4 422.4,19.3 408.4,18.6 394.4,19.3 380.6,21.4 367.1,24.8 354.1,29.6 341.6,35.6 329.9,42.8 318.9,51.0 308.9,60.2 299.9,70.3 291.9,81.0 285.0,92.4 279.3,104.3 274.7,116.5 271.3,128.9 269.0,141.5 267.9,154.0 267.8,166.5 268.8,178.8 270.8,190.8 273.8,202.5 277.7,213.8 282.4,224.7 288.0,235.0 294.3,244.7 301.3,253.8 308.9,262.3 317.2,270.0 326.0,277.0 335.2,283.3 344.9,288.8 354.9,293.5 365.3,297.3 375.8,300.3 386.6,302.5 397.5,303.8 408.4,304.2 419.3,303.8 430.2,302.5 441.0,300.3 451.5,297.3 461.9,293.5 471.9,288.8 481.6,283.3 490.8,277.0 499.6,270.0 507.9,262.3 515.5,253.8 522.5,244.7 528.8,235.0 534.4,224.7 539.1,213.8 543.0,202.5 546.0,190.8" fill="#b3fc39"/>
<polygon points="543.3,178.8 544.2,166.9 544.0,154.9 542.9,142.8 540.6,130.7 537.3,118.7 532.8,107.0 527.3,95.5 520.7,84.6 513.0,74.2 504.3,64.5 494.6,55.7 484.1,47.7 472.7,40.8 460.7,35.0 448.2,30.4 435.1,27.1 421.8,25.1 408.4,24.4 395.0,25.1 381.7,27.1 368.6,30.4 356.1,35.0 344.1,40.8 332.7,47.7 322.2,55.7 312.5,64.5 303.8,74.2 296.1,84.6 289.5,95.5 284.0,107.0 279.5,118.7 276.2,130.7 273.9,142.8 272.8,154.9 272.6,166.9 273.5,178.8 275.4,190.4 278.2,201.8 281.9,212.7 286.4,223.2 291.7,233.2 297.8,242.7 304.5,251.5 311.9,259.8 319.9,267.3 328.4,274.2 337.3,280.3 346.7,285.7 356.4,290.2 366.5,294.0 376.7,297.0 387.2,299.1 397.8,300.3 408.4,300.8 419.0,300.3 429.6,299.1 440.1,297.0 450.3,294.0 460.4,290.2 470.1,285.7 479.5,280.3 488.4,274.2 496.9,267.3 504.9,259.8 512.3,251.5 519.0,242.7 525.1,233.2 530.4,223.2 534.9,212.7 538.6,201.8 541.4,190.4" fill="#affc3e"/>
<polygon points="538.8,178.8 539.6,167.3 539.4,155.7 538.2,144.0 536.0,132.4 532.7,120.8 528.3,109.5 523.0,98.6 516.5,88.1 509.1,78.1 500.7,68.8 491.4,60.3 481.2,52.7 470.3,46.0 458.8,40.5 446.7,36.0 434.1,32.8 421.3,30.9 408.4,30.3 395.5,30.9 382.7,32.8 370.1,36.0 358.0,40.5 346.5,46.0 335.6,52.7 325.4,60.3 316.1,68.8 307.7,78.1 300.3,88.1 293.8,98.6 288.5,109.5 284.1,120.8 280.8,132.4 278.6,144.0 277.4,155.7 277.2,167.3 278.0,178.8 279.7,190.1 282.3,201.0 285.8,211.7 290.1,221.9 295.2,231.6 301.0,240.8 307.5,249.4 314.7,257.5 322.4,264.8 330.6,271.5 339.3,277.5 348.4,282.7 357.9,287.2 367.6,290.9 377.6,293.8 387.8,295.8 398.1,297.1 408.4,297.5 418.7,297.1 429.0,295.8 439.2,293.8 449.2,290.9 458.9,287.2 468.4,282.7 477.5,277.5 486.2,271.5 494.4,264.8 502.1,257.5 509.3,249.4 515.8,240.8 521.6,231.6 526.7,221.9 531.0,211.7 534.5,201.0 537.1,190.1" fill="#abfd44"/>
<polygon points="534.7,178.8 535.4,167.7 535.1,156.5 533.8,145.2 531.6,134.0 528.3,122.9 524.1,112.0 518.8,101.5 512.6,91.4 505.4,81.8 497.2,72.9 488.3,64.8 478.5,57.5 467.9,51.1 456.8,45.8 445.2,41.5 433.1,38.5 420.8,36.6 408.4,36.0 396.0,36.6 383.7,38.5 371.6,41.5 360.0,45.8 348.9,51.1 338.3,57.5 328.5,64.8 319.6,72.9 311.4,81.8 304.2,91.4 298.0,101.5 292.7,112.0 288.5,122.9 285.2,134.0 283.0,145.2 281.7,156.5 281.4,167.7 282.1,178.8 283.7,189.7 286.2,200.4 289.5,210.7 293.6,220.6 298.5,230.1 304.1,239.0 310.4,247.4 317.3,255.3 324.7,262.5 332.7,269.0 341.1,274.9 350.0,280.0 359.2,284.3 368.7,287.9 378.4,290.8 388.3,292.8 398.3,294.0 408.4,294.4 418.5,294.0 428.5,292.8 438.4,290.8 448.1,287.9 457.6,284.3 466.8,280.0 475.7,274.9 484.1,269.0 492.1,262.5 499.5,255.3 506.4,247.4 512.7,239.0 518.3,230.1 523.2,220.6 527.3,210.7 530.6,200.4 533.1,189.7" fill="#a7fd49"/>
<polygon points="530.8,178.8 531.4,168.0 531.0,157.2 529.7,146.3 527.5,135.5 524.3,124.8 520.1,114.3 514.9,104.2 508.9,94.5 501.9,85.3 494.0,76.8 485.3,69.0 475.8,62.0 465.7,55.9 455.0,50.8 443.8,46.8 432.2,43.9 420.4,42.1 408.4,41.5 396.4,42.1 384.6,43.9 373.0,46.8 361.8,50.8 351.1,55.9 341.0,62.0 331.5,69.0 322.8,76.8 314.9,85.3 307.9,94.5 301.9,104.2 296.7,114.3 292.5,124.8 289.3,135.5 287.1,146.3 285.8,157.2 285.4,168.0 286.0,178.8 287.4,189.4 289.8,199.7 292.9,209.7 296.9,219.4 301.6,228.6 307.0,237.4 313.0,245.6 319.7,253.2 326.9,260.3 334.7,266.6 342.9,272.4 351.5,277.4 360.4,281.6 369.7,285.2 379.2,287.9 388.8,289.9 398.6,291.1 408.4,291.5 418.2,291.1 428.0,289.9 437.6,287.9 447.1,285.2 456.4,281.6 465.3,277.4 473.9,272.4 482.1,266.6 489.9,260.3 497.1,253.2 503.8,245.6 509.8,237.4 515.2,228.6 519.9,219.4 523.9,209.7 527.0,199.7 529.4,189.4" fill="#a3fd4f"/>
<polygon points="527.2,178.8 527.7,168.4 527.3,157.8 526.0,147.3 523.7,136.8 520.5,126.5 516.4,116.4 511.4,106.7 505.4,97.4 498.6,88.6 490.9,80.4 482.5,72.9 473.4,66.3 463.6,60.4 453.3,55.6 442.5,51.7 431.3,48.9 419.9,47.2 408.4,46.7 396.9,47.2 385.5,48.9 374.3,51.7 363.5,55.6 353.2,60.4 343.4,66.3 334.3,72.9 325.9,80.4 318.2,88.6 311.4,97.4 305.4,106.7 300.4,116.4 296.3,126.5 293.1,136.8 290.8,147.3 289.5,157.8 289.1,168.4 289.6,178.8 290.9,189.1 293.1,199.1 296.1,208.9 299.9,218.3 304.4,227.3 309.7,235.8 315.5,243.8 322.0,251.3 329.0,258.2 336.6,264.4 344.5,270.0 352.9,274.9 361.6,279.1 370.6,282.5 379.9,285.2 389.3,287.2 398.8,288.3 408.4,288.7 418.0,288.3 427.5,287.2 436.9,285.2 446.2,282.5 455.2,279.1 463.9,274.9 472.3,270.0 480.2,264.4 487.8,258.2 494.8,251.3 501.3,243.8 507.1,235.8 512.4,227.3 516.9,218.3 520.7,208.9 523.7,199.1 525.9,189.1" fill="#9ffd54"/>
<polygon points="523.9,178.8 524.3,168.7 523.8,158.4 522.5,148.2 520.2,138.1 517.1,128.1 513.0,118.4 508.0,109.0 502.2,100.1 495.6,91.6 488.2,83.7 480.0,76.6 471.1,70.2 461.7,64.6 451.7,59.9 441.2,56.3 430.5,53.6 419.5,52.0 408.4,51.4 397.3,52.0 386.3,53.6 375.6,56.3 365.1,59.9 355.1,64.6 345.7,70.2 336.8,76.6 328.6,83.7 321.2,91.6 314.6,100.1 308.8,109.0 303.8,118.4 299.7,128.1 296.6,138.1 294.3,148.2 293.0,158.4 292.5,168.7 292.9,178.8 294.2,188.8 296.3,198.6 299.1,208.1 302.8,217.2 307.1,226.0 312.2,234.3 317.9,242.2 324.2,249.5 331.0,256.2 338.3,262.3 346.1,267.8 354.3,272.6 362.8,276.7 371.6,280.0 380.6,282.7 389.7,284.6 399.0,285.7 408.4,286.1 417.8,285.7 427.1,284.6 436.2,282.7 445.2,280.0 454.0,276.7 462.5,272.6 470.7,267.8 478.5,262.3 485.8,256.2 492.6,249.5 498.9,242.2 504.6,234.3 509.7,226.0 514.0,217.2 517.7,208.1 520.5,198.6 522.6,188.8" fill="#9bfd5a"/>
<polygon points="520.8,178.8 521.1,168.9 520.6,159.0 519.2,149.1 517.0,139.3 513.8,129.6 509.8,120.2 505.0,111.2 499.3,102.5 492.8,94.4 485.6,86.8 477.6,79.9 469.1,73.8 459.9,68.4 450.2,63.9 440.1,60.4 429.7,57.9 419.1,56.3 408.4,55.8 397.7,56.3 387.1,57.9 376.7,60.4 366.6,63.9 356.9,68.4 347.7,73.8 339.2,79.9 331.2,86.8 324.0,94.4 317.5,102.5 311.8,111.2 307.0,120.2 303.0,129.6 299.8,139.3 297.6,149.1 296.2,159.0 295.7,168.9 296.0,178.8 297.2,188.5 299.2,198.1 302.0,207.3 305.5,216.3 309.7,224.8 314.6,233.0 320.1,240.6 326.2,247.7 332.9,254.3 340.0,260.3 347.6,265.6 355.6,270.3 363.9,274.3 372.4,277.6 381.2,280.2 390.2,282.1 399.3,283.2 408.4,283.6 417.5,283.2 426.6,282.1 435.6,280.2 444.4,277.6 452.9,274.3 461.2,270.3 469.2,265.6 476.8,260.3 483.9,254.3 490.6,247.7 496.7,240.6 502.2,233.0 507.1,224.8 511.3,216.3 514.8,207.3 517.6,198.1 519.6,188.5" fill="#97fd5f"/>
<polygon points="517.8,178.8 518.1,169.2 517.6,159.6 516.2,149.9 513.9,140.4 510.9,131.0 506.9,121.9 502.2,113.1 496.6,104.8 490.3,96.9 483.2,89.6 475.5,83.0 467.2,77.0 458.2,71.9 448.9,67.6 439.1,64.2 429.0,61.8 418.8,60.3 408.4,59.8 398.0,60.3 387.8,61.8 377.7,64.2 367.9,67.6 358.6,71.9 349.6,77.0 341.3,83.0 333.6,89.6 326.5,96.9 320.2,104.8 314.6,113.1 309.9,121.9 305.9,131.0 302.9,140.4 300.6,149.9 299.2,159.6 298.7,169.2 299.0,178.8 300.1,188.3 302.0,197.6 304.7,206.6 308.0,215.3 312.1,223.7 316.9,231.6 322.3,239.1 328.2,246.1 334.7,252.5 341.6,258.4 349.0,263.6 356.8,268.2 364.9,272.1 373.3,275.4 381.8,277.9 390.6,279.7 399.5,280.8 408.4,281.2 417.3,280.8 426.2,279.7 435.0,277.9 443.5,275.4 451.9,272.1 460.0,268.2 467.8,263.6 475.2,258.4 482.1,252.5 488.6,246.1 494.5,239.1 499.9,231.6 504.7,223.7 508.8,215.3 512.1,206.6 514.8,197.6 516.7,188.3" fill="#93fe65"/>
<polygon points="515.0,178.8 515.3,169.5 514.7,160.1 513.3,150.7 511.1,141.4 508.1,132.3 504.2,123.5 499.5,115.0 494.1,106.9 487.9,99.3 481.1,92.2 473.5,85.8 465.4,80.1 456.7,75.1 447.6,71.0 438.2,67.7 428.4,65.4 418.5,63.9 408.4,63.4 398.3,63.9 388.4,65.4 378.6,67.7 369.2,71.0 360.1,75.1 351.4,80.1 343.3,85.8 335.7,92.2 328.9,99.3 322.7,106.9 317.3,115.0 312.6,123.5 308.7,132.3 305.7,141.4 303.5,150.7 302.1,160.1 301.5,169.5 301.8,178.8 302.8,188.0 304.6,197.1 307.2,205.9 310.5,214.4 314.5,222.6 319.1,230.4 324.3,237.7 330.1,244.5 336.4,250.8 343.2,256.5 350.4,261.6 358.0,266.1 365.9,270.0 374.1,273.2 382.5,275.6 391.0,277.4 399.7,278.5 408.4,278.9 417.1,278.5 425.8,277.4 434.3,275.6 442.7,273.2 450.9,270.0 458.8,266.1 466.4,261.6 473.6,256.5 480.4,250.8 486.7,244.5 492.5,237.7 497.7,230.4 502.3,222.6 506.3,214.4 509.6,205.9 512.2,197.1 514.0,188.0" fill="#90fe6a"/>
<polygon points="512.4,178.8 512.6,169.7 512.0,160.5 510.6,151.4 508.4,142.4 505.4,133.6 501.6,125.0 497.1,116.7 491.8,108.9 485.7,101.5 479.0,94.6 471.7,88.4 463.8,82.9 455.4,78.1 446.5,74.1 437.3,71.0 427.8,68.7 418.2,67.3 408.4,66.8 398.6,67.3 389.0,68.7 379.5,71.0 370.3,74.1 361.4,78.1 353.0,82.9 345.1,88.4 337.8,94.6 331.1,101.5 325.0,108.9 319.7,116.7 315.2,125.0 311.4,133.6 308.4,142.4 306.2,151.4 304.8,160.5 304.2,169.7 304.4,178.8 305.4,187.8 307.2,196.7 309.6,205.3 312.8,213.6 316.7,221.6 321.2,229.2 326.3,236.3 331.9,243.0 338.1,249.1 344.7,254.7 351.7,259.8 359.1,264.2 366.8,267.9 374.8,271.0 383.0,273.5 391.4,275.2 399.9,276.3 408.4,276.6 416.9,276.3 425.4,275.2 433.8,273.5 442.0,271.0 450.0,267.9 457.7,264.2 465.1,259.8 472.1,254.7 478.7,249.1 484.9,243.0 490.5,236.3 495.6,229.2 500.1,221.6 504.0,213.6 507.2,205.3 509.6,196.7 511.4,187.8" fill="#8cfe70"/>
<polygon points="509.8,178.8 510.0,169.9 509.4,161.0 508.0,152.1 505.9,143.3 502.9,134.7 499.2,126.4 494.8,118.3 489.6,110.7 483.7,103.5 477.1,96.9 470.0,90.9 462.2,85.5 454.1,80.9 445.4,77.0 436.5,74.0 427.3,71.8 417.9,70.4 408.4,70.0 398.9,70.4 389.5,71.8 380.3,74.0 371.4,77.0 362.7,80.9 354.6,85.5 346.8,90.9 339.7,96.9 333.1,103.5 327.2,110.7 322.0,118.3 317.6,126.4 313.9,134.7 310.9,143.3 308.8,152.1 307.4,161.0 306.8,169.9 307.0,178.8 307.9,187.6 309.6,196.2 312.0,204.6 315.1,212.8 318.8,220.6 323.2,228.0 328.1,235.0 333.6,241.5 339.6,247.6 346.1,253.0 353.0,257.9 360.2,262.3 367.8,265.9 375.6,269.0 383.6,271.4 391.8,273.1 400.1,274.1 408.4,274.5 416.7,274.1 425.0,273.1 433.2,271.4 441.2,269.0 449.0,265.9 456.6,262.3 463.8,257.9 470.7,253.0 477.2,247.6 483.2,241.5 488.7,235.0 493.6,228.0 498.0,220.6 501.7,212.8 504.8,204.6 507.2,196.2 508.9,187.6" fill="#88fe75"/>
<polygon points="507.4,178.8 507.6,170.1 507.0,161.4 505.6,152.8 503.5,144.2 500.6,135.8 496.9,127.7 492.5,119.9 487.5,112.5 481.7,105.5 475.3,99.1 468.3,93.2 460.8,88.0 452.8,83.5 444.4,79.8 435.7,76.8 426.8,74.7 417.6,73.4 408.4,72.9 399.2,73.4 390.0,74.7 381.1,76.8 372.4,79.8 364.0,83.5 356.0,88.0 348.5,93.2 341.5,99.1 335.1,105.5 329.3,112.5 324.3,119.9 319.9,127.7 316.2,135.8 313.3,144.2 311.2,152.8 309.8,161.4 309.2,170.1 309.4,178.8 310.3,187.4 311.9,195.8 314.2,204.0 317.2,212.0 320.9,219.6 325.1,226.9 330.0,233.7 335.3,240.1 341.2,246.0 347.5,251.4 354.2,256.2 361.3,260.4 368.7,264.0 376.3,267.0 384.1,269.3 392.1,271.0 400.2,272.0 408.4,272.4 416.6,272.0 424.7,271.0 432.7,269.3 440.5,267.0 448.1,264.0 455.5,260.4 462.6,256.2 469.3,251.4 475.6,246.0 481.5,240.1 486.8,233.7 491.7,226.9 495.9,219.6 499.6,212.0 502.6,204.0 504.9,195.8 506.5,187.4" fill="#84fe7a"/>
<polygon points="505.1,178.8 505.2,170.3 504.6,161.8 503.3,153.4 501.1,145.0 498.3,136.9 494.7,129.0 490.4,121.4 485.5,114.1 479.8,107.4 473.6,101.1 466.8,95.4 459.5,90.4 451.7,86.0 443.5,82.4 435.0,79.5 426.3,77.4 417.4,76.2 408.4,75.7 399.4,76.2 390.5,77.4 381.8,79.5 373.3,82.4 365.1,86.0 357.3,90.4 350.0,95.4 343.2,101.1 337.0,107.4 331.3,114.1 326.4,121.4 322.1,129.0 318.5,136.9 315.7,145.0 313.5,153.4 312.2,161.8 311.6,170.3 311.7,178.8 312.6,187.2 314.1,195.4 316.4,203.5 319.3,211.2 322.9,218.7 327.0,225.8 331.7,232.5 337.0,238.7 342.7,244.5 348.9,249.8 355.4,254.5 362.3,258.6 369.5,262.1 377.0,265.1 384.7,267.3 392.5,269.0 400.4,270.0 408.4,270.3 416.4,270.0 424.3,269.0 432.1,267.3 439.8,265.1 447.3,262.1 454.5,258.6 461.4,254.5 467.9,249.8 474.1,244.5 479.8,238.7 485.1,232.5 489.8,225.8 493.9,218.7 497.5,211.2 500.4,203.5 502.7,195.4 504.2,187.2" fill="#80fe7f"/>
<polygon points="502.8,178.8 502.9,170.5 502.3,162.2 501.0,154.0 498.9,145.9 496.1,137.9 492.6,130.2 488.4,122.8 483.6,115.7 478.1,109.1 472.0,103.1 465.3,97.5 458.2,92.6 450.6,88.4 442.6,84.8 434.3,82.0 425.8,80.0 417.1,78.8 408.4,78.4 399.7,78.8 391.0,80.0 382.5,82.0 374.2,84.8 366.2,88.4 358.6,92.6 351.5,97.5 344.8,103.1 338.7,109.1 333.2,115.7 328.4,122.8 324.2,130.2 320.7,137.9 317.9,145.9 315.8,154.0 314.5,162.2 313.9,170.5 314.0,178.8 314.8,187.0 316.3,195.0 318.5,202.9 321.3,210.5 324.8,217.8 328.8,224.7 333.4,231.3 338.6,237.4 344.1,243.1 350.2,248.2 356.6,252.8 363.3,256.9 370.4,260.3 377.7,263.2 385.2,265.4 392.8,267.0 400.6,268.0 408.4,268.3 416.2,268.0 424.0,267.0 431.6,265.4 439.1,263.2 446.4,260.3 453.5,256.9 460.2,252.8 466.6,248.2 472.7,243.1 478.2,237.4 483.4,231.3 488.0,224.7 492.0,217.8 495.5,210.5 498.3,202.9 500.5,195.0 502.0,187.0" fill="#7dfe83"/>
<polygon points="500.7,178.8 500.7,170.7 500.1,162.6 498.8,154.6 496.8,146.6 494.0,138.9 490.6,131.3 486.5,124.1 481.7,117.3 476.4,110.8 470.4,104.9 463.9,99.5 456.9,94.8 449.5,90.6 441.7,87.2 433.7,84.5 425.4,82.5 416.9,81.3 408.4,80.9 399.9,81.3 391.4,82.5 383.1,84.5 375.1,87.2 367.3,90.6 359.9,94.8 352.9,99.5 346.4,104.9 340.4,110.8 335.1,117.3 330.3,124.1 326.2,131.3 322.8,138.9 320.0,146.6 318.0,154.6 316.7,162.6 316.1,170.7 316.1,178.8 316.9,186.8 318.4,194.7 320.5,202.3 323.3,209.8 326.7,216.9 330.6,223.7 335.1,230.1 340.1,236.1 345.6,241.6 351.5,246.7 357.7,251.2 364.3,255.1 371.2,258.5 378.4,261.3 385.7,263.5 393.2,265.1 400.8,266.1 408.4,266.4 416.0,266.1 423.6,265.1 431.1,263.5 438.4,261.3 445.6,258.5 452.5,255.1 459.1,251.2 465.3,246.7 471.2,241.6 476.7,236.1 481.7,230.1 486.2,223.7 490.1,216.9 493.5,209.8 496.3,202.3 498.4,194.7 499.9,186.8" fill="#79fe88"/>
<polygon points="498.5,178.8 498.6,170.9 498.0,163.0 496.7,155.1 494.7,147.4 492.0,139.8 488.6,132.5 484.6,125.4 480.0,118.8 474.7,112.5 468.9,106.7 462.5,101.5 455.7,96.8 448.5,92.8 440.9,89.5 433.0,86.8 425.0,84.9 416.7,83.8 408.4,83.4 400.1,83.8 391.8,84.9 383.8,86.8 375.9,89.5 368.3,92.8 361.1,96.8 354.3,101.5 347.9,106.7 342.1,112.5 336.8,118.8 332.2,125.4 328.2,132.5 324.8,139.8 322.1,147.4 320.1,155.1 318.8,163.0 318.2,170.9 318.3,178.8 319.0,186.6 320.5,194.3 322.5,201.8 325.2,209.1 328.5,216.1 332.4,222.7 336.7,229.0 341.6,234.8 347.0,240.2 352.7,245.2 358.8,249.6 365.3,253.5 372.0,256.8 379.0,259.5 386.2,261.7 393.5,263.2 400.9,264.2 408.4,264.5 415.9,264.2 423.3,263.2 430.6,261.7 437.8,259.5 444.8,256.8 451.5,253.5 458.0,249.6 464.1,245.2 469.8,240.2 475.2,234.8 480.1,229.0 484.4,222.7 488.3,216.1 491.6,209.1 494.3,201.8 496.3,194.3 497.8,186.6" fill="#75fd8c"/>
<polygon points="496.5,178.8 496.5,171.1 495.9,163.4 494.6,155.7 492.7,148.1 490.0,140.7 486.7,133.6 482.8,126.7 478.3,120.2 473.1,114.1 467.4,108.5 461.2,103.3 454.6,98.8 447.5,94.9 440.1,91.6 432.4,89.1 424.5,87.2 416.5,86.1 408.4,85.7 400.3,86.1 392.3,87.2 384.4,89.1 376.7,91.6 369.3,94.9 362.2,98.8 355.6,103.3 349.4,108.5 343.7,114.1 338.5,120.2 334.0,126.7 330.1,133.6 326.8,140.7 324.1,148.1 322.2,155.7 320.9,163.4 320.3,171.1 320.3,178.8 321.1,186.4 322.4,194.0 324.5,201.3 327.1,208.4 330.3,215.2 334.0,221.7 338.3,227.9 343.1,233.6 348.3,238.9 353.9,243.7 359.9,248.0 366.2,251.8 372.8,255.1 379.7,257.8 386.7,259.9 393.8,261.4 401.1,262.3 408.4,262.6 415.7,262.3 423.0,261.4 430.1,259.9 437.1,257.8 444.0,255.1 450.6,251.8 456.9,248.0 462.9,243.7 468.5,238.9 473.7,233.6 478.5,227.9 482.8,221.7 486.5,215.2 489.7,208.4 492.3,201.3 494.4,194.0 495.7,186.4" fill="#71fd91"/>
<polygon points="494.5,178.8 494.5,171.3 493.9,163.7 492.6,156.2 490.7,148.8 488.1,141.6 484.9,134.6 481.1,127.9 476.6,121.6 471.6,115.6 466.0,110.1 460.0,105.2 453.5,100.7 446.6,96.9 439.4,93.7 431.9,91.2 424.2,89.4 416.3,88.3 408.4,88.0 400.5,88.3 392.6,89.4 384.9,91.2 377.4,93.7 370.2,96.9 363.3,100.7 356.8,105.2 350.8,110.1 345.2,115.6 340.2,121.6 335.7,127.9 331.9,134.6 328.7,141.6 326.1,148.8 324.2,156.2 322.9,163.7 322.3,171.3 322.3,178.8 323.1,186.3 324.4,193.6 326.4,200.8 328.9,207.7 332.0,214.4 335.7,220.8 339.9,226.8 344.5,232.4 349.6,237.6 355.1,242.3 361.0,246.5 367.2,250.2 373.6,253.4 380.3,256.0 387.2,258.1 394.2,259.6 401.3,260.5 408.4,260.8 415.5,260.5 422.6,259.6 429.6,258.1 436.5,256.0 443.2,253.4 449.6,250.2 455.8,246.5 461.7,242.3 467.2,237.6 472.3,232.4 476.9,226.8 481.1,220.8 484.8,214.4 487.9,207.7 490.4,200.8 492.4,193.6 493.7,186.3" fill="#6efd95"/>
<polygon points="492.5,178.8 492.5,171.4 491.9,164.1 490.7,156.8 488.8,149.5 486.3,142.5 483.1,135.7 479.3,129.1 475.0,122.9 470.1,117.1 464.6,111.8 458.7,106.9 452.4,102.6 445.7,98.9 438.6,95.8 431.3,93.4 423.8,91.6 416.1,90.5 408.4,90.2 400.7,90.5 393.0,91.6 385.5,93.4 378.2,95.8 371.1,98.9 364.4,102.6 358.1,106.9 352.2,111.8 346.7,117.1 341.8,122.9 337.5,129.1 333.7,135.7 330.5,142.5 328.0,149.5 326.1,156.8 324.9,164.1 324.3,171.4 324.3,178.8 325.0,186.1 326.3,193.3 328.2,200.3 330.7,207.1 333.7,213.6 337.3,219.8 341.4,225.7 346.0,231.2 350.9,236.3 356.3,240.9 362.0,245.0 368.1,248.7 374.4,251.8 380.9,254.3 387.6,256.4 394.5,257.8 401.4,258.7 408.4,259.0 415.4,258.7 422.3,257.8 429.2,256.4 435.9,254.3 442.4,251.8 448.7,248.7 454.8,245.0 460.5,240.9 465.9,236.3 470.8,231.2 475.4,225.7 479.5,219.8 483.1,213.6 486.1,207.1 488.6,200.3 490.5,193.3 491.8,186.1" fill="#6afd9a"/>
<polygon points="490.6,178.8 490.6,171.6 490.0,164.4 488.8,157.3 486.9,150.2 484.4,143.3 481.4,136.7 477.7,130.3 473.4,124.2 468.6,118.6 463.3,113.4 457.5,108.6 451.3,104.4 444.8,100.8 437.9,97.8 430.7,95.4 423.4,93.7 415.9,92.7 408.4,92.3 400.9,92.7 393.4,93.7 386.1,95.4 378.9,97.8 372.0,100.8 365.5,104.4 359.3,108.6 353.5,113.4 348.2,118.6 343.4,124.2 339.1,130.3 335.4,136.7 332.4,143.3 329.9,150.2 328.0,157.3 326.8,164.4 326.2,171.6 326.2,178.8 326.9,185.9 328.2,192.9 330.0,199.8 332.5,206.4 335.4,212.8 338.9,218.9 342.9,224.7 347.3,230.0 352.2,235.0 357.5,239.5 363.1,243.6 369.0,247.1 375.1,250.2 381.5,252.7 388.1,254.7 394.8,256.1 401.6,256.9 408.4,257.2 415.2,256.9 422.0,256.1 428.7,254.7 435.3,252.7 441.7,250.2 447.8,247.1 453.7,243.6 459.3,239.5 464.6,235.0 469.5,230.0 473.9,224.7 477.9,218.9 481.4,212.8 484.3,206.4 486.8,199.8 488.6,192.9 489.9,185.9" fill="#67fd9e"/>
<polygon points="488.7,178.8 488.7,171.8 488.1,164.7 486.9,157.8 485.1,150.9 482.7,144.2 479.6,137.7 476.0,131.4 471.9,125.5 467.2,120.0 462.0,114.9 456.4,110.3 450.3,106.2 443.9,102.7 437.2,99.7 430.2,97.4 423.0,95.7 415.8,94.7 408.4,94.4 401.0,94.7 393.8,95.7 386.6,97.4 379.6,99.7 372.9,102.7 366.5,106.2 360.4,110.3 354.8,114.9 349.6,120.0 344.9,125.5 340.8,131.4 337.2,137.7 334.1,144.2 331.7,150.9 329.9,157.8 328.7,164.7 328.1,171.8 328.1,178.8 328.8,185.8 330.0,192.6 331.8,199.3 334.2,205.8 337.1,212.1 340.5,218.0 344.4,223.6 348.7,228.9 353.5,233.7 358.6,238.2 364.1,242.1 369.8,245.6 375.9,248.6 382.1,251.0 388.5,253.0 395.1,254.4 401.7,255.2 408.4,255.5 415.1,255.2 421.7,254.4 428.3,253.0 434.7,251.0 440.9,248.6 447.0,245.6 452.7,242.1 458.2,238.2 463.3,233.7 468.1,228.9 472.4,223.6 476.3,218.0 479.7,212.1 482.6,205.8 485.0,199.3 486.8,192.6 488.0,185.8" fill="#64fca1"/>
<polygon points="486.8,178.8 486.9,171.9 486.3,165.1 485.1,158.2 483.3,151.5 480.9,145.0 478.0,138.6 474.4,132.6 470.4,126.8 465.8,121.4 460.7,116.4 455.2,111.9 449.3,107.9 443.0,104.5 436.5,101.6 429.7,99.4 422.7,97.7 415.6,96.8 408.4,96.4 401.2,96.8 394.1,97.7 387.1,99.4 380.3,101.6 373.8,104.5 367.5,107.9 361.6,111.9 356.1,116.4 351.0,121.4 346.4,126.8 342.4,132.6 338.8,138.6 335.9,145.0 333.5,151.5 331.7,158.2 330.5,165.1 329.9,171.9 330.0,178.8 330.6,185.6 331.8,192.3 333.5,198.9 335.9,205.2 338.7,211.3 342.0,217.1 345.8,222.6 350.1,227.8 354.7,232.5 359.7,236.8 365.1,240.7 370.7,244.1 376.6,247.0 382.7,249.4 389.0,251.3 395.4,252.7 401.9,253.5 408.4,253.8 414.9,253.5 421.4,252.7 427.8,251.3 434.1,249.4 440.2,247.0 446.1,244.1 451.7,240.7 457.1,236.8 462.1,232.5 466.7,227.8 471.0,222.6 474.8,217.1 478.1,211.3 480.9,205.2 483.3,198.9 485.0,192.3 486.2,185.6" fill="#61fca5"/>
<polygon points="485.0,178.8 485.0,172.1 484.5,165.4 483.3,158.7 481.6,152.2 479.2,145.8 476.3,139.6 472.9,133.6 468.9,128.0 464.4,122.8 459.5,117.9 454.1,113.5 448.3,109.6 442.2,106.3 435.8,103.5 429.2,101.3 422.3,99.7 415.4,98.7 408.4,98.4 401.4,98.7 394.5,99.7 387.6,101.3 381.0,103.5 374.6,106.3 368.5,109.6 362.7,113.5 357.3,117.9 352.4,122.8 347.9,128.0 343.9,133.6 340.5,139.6 337.6,145.8 335.2,152.2 333.5,158.7 332.3,165.4 331.8,172.1 331.8,178.8 332.4,185.5 333.5,192.0 335.3,198.4 337.5,204.6 340.3,210.6 343.5,216.3 347.2,221.6 351.4,226.7 355.9,231.3 360.8,235.5 366.0,239.3 371.5,242.6 377.3,245.5 383.3,247.9 389.4,249.7 395.7,251.0 402.0,251.8 408.4,252.1 414.8,251.8 421.1,251.0 427.4,249.7 433.5,247.9 439.5,245.5 445.3,242.6 450.8,239.3 456.0,235.5 460.9,231.3 465.4,226.7 469.6,221.6 473.3,216.3 476.5,210.6 479.3,204.6 481.5,198.4 483.3,192.0 484.4,185.5" fill="#5ffca9"/>
<polygon points="483.2,178.8 483.3,172.3 482.7,165.7 481.6,159.2 479.8,152.8 477.6,146.5 474.7,140.5 471.4,134.7 467.5,129.2 463.1,124.1 458.3,119.4 453.0,115.1 447.4,111.3 441.4,108.0 435.2,105.3 428.7,103.1 422.0,101.6 415.2,100.7 408.4,100.3 401.6,100.7 394.8,101.6 388.1,103.1 381.6,105.3 375.4,108.0 369.4,111.3 363.8,115.1 358.5,119.4 353.7,124.1 349.3,129.2 345.4,134.7 342.1,140.5 339.2,146.5 337.0,152.8 335.2,159.2 334.1,165.7 333.5,172.3 333.6,178.8 334.1,185.3 335.3,191.7 336.9,197.9 339.1,204.0 341.8,209.8 345.0,215.4 348.6,220.7 352.7,225.6 357.1,230.1 361.9,234.2 367.0,237.9 372.4,241.2 378.0,244.0 383.8,246.3 389.8,248.1 395.9,249.4 402.2,250.2 408.4,250.5 414.6,250.2 420.9,249.4 427.0,248.1 433.0,246.3 438.8,244.0 444.4,241.2 449.8,237.9 454.9,234.2 459.7,230.1 464.1,225.6 468.2,220.7 471.8,215.4 475.0,209.8 477.7,204.0 479.9,197.9 481.5,191.7 482.7,185.3" fill="#5cfbac"/>
<polygon points="481.5,178.8 481.5,172.4 480.9,166.0 479.8,159.7 478.2,153.4 475.9,147.3 473.2,141.4 469.9,135.8 466.1,130.4 461.8,125.4 457.1,120.8 451.9,116.6 446.4,112.9 440.6,109.7 434.5,107.1 428.2,105.0 421.7,103.5 415.1,102.6 408.4,102.2 401.7,102.6 395.1,103.5 388.6,105.0 382.3,107.1 376.2,109.7 370.4,112.9 364.9,116.6 359.7,120.8 355.0,125.4 350.7,130.4 346.9,135.8 343.6,141.4 340.9,147.3 338.6,153.4 337.0,159.7 335.9,166.0 335.3,172.4 335.3,178.8 335.9,185.1 337.0,191.4 338.6,197.5 340.7,203.4 343.4,209.1 346.5,214.6 350.0,219.7 353.9,224.5 358.3,228.9 362.9,233.0 367.9,236.6 373.2,239.8 378.7,242.5 384.4,244.8 390.2,246.5 396.2,247.8 402.3,248.6 408.4,248.8 414.5,248.6 420.6,247.8 426.6,246.5 432.4,244.8 438.1,242.5 443.6,239.8 448.9,236.6 453.9,233.0 458.5,228.9 462.9,224.5 466.8,219.7 470.3,214.6 473.4,209.1 476.1,203.4 478.2,197.5 479.8,191.4 480.9,185.1" fill="#59fbb0"/>
<polygon points="479.8,178.8 479.8,172.6 479.2,166.3 478.1,160.1 476.5,154.0 474.3,148.1 471.6,142.3 468.4,136.8 464.7,131.6 460.5,126.7 455.9,122.2 450.9,118.1 445.5,114.5 439.8,111.4 433.9,108.8 427.7,106.8 421.4,105.3 414.9,104.4 408.4,104.1 401.9,104.4 395.4,105.3 389.1,106.8 382.9,108.8 377.0,111.4 371.3,114.5 365.9,118.1 360.9,122.2 356.3,126.7 352.1,131.6 348.4,136.8 345.2,142.3 342.5,148.1 340.3,154.0 338.7,160.1 337.6,166.3 337.0,172.6 337.0,178.8 337.6,185.0 338.6,191.1 340.2,197.1 342.3,202.9 344.9,208.4 347.9,213.7 351.3,218.8 355.2,223.4 359.4,227.8 364.0,231.7 368.9,235.3 374.0,238.4 379.4,241.1 384.9,243.3 390.7,245.0 396.5,246.2 402.4,247.0 408.4,247.2 414.4,247.0 420.3,246.2 426.1,245.0 431.9,243.3 437.4,241.1 442.8,238.4 447.9,235.3 452.8,231.7 457.4,227.8 461.6,223.4 465.5,218.8 468.9,213.7 471.9,208.4 474.5,202.9 476.6,197.1 478.2,191.1 479.2,185.0" fill="#57fbb4"/>
<polygon points="478.1,178.8 478.1,172.7 477.6,166.6 476.5,160.6 474.9,154.6 472.7,148.8 470.1,143.2 466.9,137.8 463.3,132.7 459.2,128.0 454.7,123.6 449.8,119.6 444.6,116.1 439.1,113.0 433.3,110.5 427.2,108.5 421.0,107.1 414.7,106.2 408.4,105.9 402.1,106.2 395.8,107.1 389.6,108.5 383.5,110.5 377.7,113.0 372.2,116.1 367.0,119.6 362.1,123.6 357.6,128.0 353.5,132.7 349.9,137.8 346.7,143.2 344.1,148.8 341.9,154.6 340.3,160.6 339.2,166.6 338.7,172.7 338.7,178.8 339.2,184.9 340.3,190.8 341.8,196.6 343.8,202.3 346.3,207.7 349.3,212.9 352.7,217.8 356.4,222.4 360.6,226.6 365.0,230.5 369.8,234.0 374.8,237.0 380.0,239.6 385.5,241.8 391.1,243.5 396.8,244.7 402.6,245.4 408.4,245.7 414.2,245.4 420.0,244.7 425.7,243.5 431.3,241.8 436.8,239.6 442.0,237.0 447.0,234.0 451.8,230.5 456.2,226.6 460.4,222.4 464.1,217.8 467.5,212.9 470.5,207.7 473.0,202.3 475.0,196.6 476.5,190.8 477.6,184.9" fill="#54fab7"/>
<polygon points="476.4,178.8 476.4,172.8 475.9,166.9 474.8,161.0 473.3,155.2 471.2,149.5 468.6,144.0 465.5,138.8 462.0,133.8 458.0,129.2 453.6,124.9 448.8,121.0 443.7,117.6 438.3,114.7 432.6,112.2 426.8,110.2 420.7,108.8 414.6,108.0 408.4,107.7 402.2,108.0 396.1,108.8 390.0,110.2 384.2,112.2 378.5,114.7 373.1,117.6 368.0,121.0 363.2,124.9 358.8,129.2 354.8,133.8 351.3,138.8 348.2,144.0 345.6,149.5 343.5,155.2 342.0,161.0 340.9,166.9 340.4,172.8 340.4,178.8 340.9,184.7 341.9,190.5 343.4,196.2 345.4,201.7 347.8,207.1 350.7,212.1 354.0,216.9 357.6,221.4 361.7,225.5 366.0,229.3 370.7,232.7 375.6,235.7 380.7,238.2 386.0,240.3 391.5,242.0 397.0,243.2 402.7,243.9 408.4,244.1 414.1,243.9 419.8,243.2 425.3,242.0 430.8,240.3 436.1,238.2 441.2,235.7 446.1,232.7 450.8,229.3 455.1,225.5 459.2,221.4 462.8,216.9 466.1,212.1 469.0,207.1 471.4,201.7 473.4,196.2 474.9,190.5 475.9,184.7" fill="#51fabb"/>
<polygon points="474.8,178.8 474.8,173.0 474.3,167.2 473.2,161.4 471.7,155.8 469.7,150.2 467.1,144.9 464.1,139.8 460.7,134.9 456.8,130.4 452.5,126.2 447.8,122.5 442.9,119.1 437.6,116.2 432.0,113.8 426.3,111.9 420.4,110.6 414.4,109.8 408.4,109.5 402.4,109.8 396.4,110.6 390.5,111.9 384.8,113.8 379.2,116.2 373.9,119.1 369.0,122.5 364.3,126.2 360.0,130.4 356.1,134.9 352.7,139.8 349.7,144.9 347.1,150.2 345.1,155.8 343.6,161.4 342.5,167.2 342.0,173.0 342.0,178.8 342.5,184.6 343.5,190.3 344.9,195.8 346.9,201.2 349.2,206.4 352.0,211.3 355.2,216.0 358.8,220.4 362.8,224.4 367.0,228.1 371.5,231.4 376.3,234.4 381.3,236.9 386.5,238.9 391.9,240.5 397.3,241.7 402.8,242.4 408.4,242.6 414.0,242.4 419.5,241.7 424.9,240.5 430.3,238.9 435.5,236.9 440.5,234.4 445.3,231.4 449.8,228.1 454.0,224.4 458.0,220.4 461.6,216.0 464.8,211.3 467.6,206.4 469.9,201.2 471.9,195.8 473.3,190.3 474.3,184.6" fill="#4ff9bd"/>
<polygon points="473.2,178.8 473.2,173.1 472.7,167.5 471.7,161.8 470.2,156.3 468.2,150.9 465.7,145.7 462.8,140.7 459.4,136.0 455.6,131.6 451.4,127.5 446.9,123.9 442.0,120.6 436.9,117.8 431.5,115.4 425.9,113.6 420.1,112.3 414.3,111.5 408.4,111.2 402.5,111.5 396.7,112.3 390.9,113.6 385.3,115.4 379.9,117.8 374.8,120.6 369.9,123.9 365.4,127.5 361.2,131.6 357.4,136.0 354.0,140.7 351.1,145.7 348.6,150.9 346.6,156.3 345.1,161.8 344.1,167.5 343.6,173.1 343.6,178.8 344.1,184.4 345.0,190.0 346.4,195.4 348.3,200.7 350.6,205.7 353.4,210.6 356.5,215.1 360.0,219.4 363.8,223.4 368.0,227.0 372.4,230.2 377.1,233.1 382.0,235.5 387.0,237.5 392.2,239.1 397.6,240.2 403.0,240.9 408.4,241.1 413.8,240.9 419.2,240.2 424.6,239.1 429.8,237.5 434.8,235.5 439.7,233.1 444.4,230.2 448.8,227.0 453.0,223.4 456.8,219.4 460.3,215.1 463.4,210.6 466.2,205.7 468.5,200.7 470.4,195.4 471.8,190.0 472.7,184.4" fill="#4cf8c0"/>
<polygon points="471.7,178.8 471.6,173.3 471.1,167.7 470.1,162.3 468.7,156.9 466.7,151.6 464.3,146.5 461.4,141.7 458.1,137.1 454.4,132.8 450.4,128.8 445.9,125.2 441.2,122.0 436.1,119.3 430.9,117.0 425.4,115.2 419.8,113.9 414.1,113.1 408.4,112.9 402.7,113.1 397.0,113.9 391.4,115.2 385.9,117.0 380.7,119.3 375.6,122.0 370.9,125.2 366.4,128.8 362.4,132.8 358.7,137.1 355.4,141.7 352.5,146.5 350.1,151.6 348.1,156.9 346.7,162.3 345.7,167.7 345.2,173.3 345.1,178.8 345.6,184.3 346.5,189.7 347.9,195.0 349.8,200.1 352.0,205.1 354.7,209.8 357.7,214.3 361.1,218.5 364.9,222.3 368.9,225.8 373.2,229.0 377.8,231.8 382.6,234.2 387.5,236.1 392.6,237.7 397.8,238.8 403.1,239.4 408.4,239.7 413.7,239.4 419.0,238.8 424.2,237.7 429.3,236.1 434.2,234.2 439.0,231.8 443.6,229.0 447.9,225.8 451.9,222.3 455.7,218.5 459.1,214.3 462.1,209.8 464.8,205.1 467.0,200.1 468.9,195.0 470.3,189.7 471.2,184.3" fill="#49f7c3"/>
<polygon points="470.1,178.8 470.1,173.4 469.6,168.0 468.6,162.7 467.2,157.4 465.3,152.3 462.9,147.3 460.1,142.6 456.9,138.1 453.3,133.9 449.3,130.0 445.0,126.6 440.4,123.5 435.5,120.8 430.3,118.6 425.0,116.8 419.6,115.5 414.0,114.8 408.4,114.5 402.8,114.8 397.2,115.5 391.8,116.8 386.5,118.6 381.3,120.8 376.4,123.5 371.8,126.6 367.5,130.0 363.5,133.9 359.9,138.1 356.7,142.6 353.9,147.3 351.5,152.3 349.6,157.4 348.2,162.7 347.2,168.0 346.7,173.4 346.7,178.8 347.1,184.2 348.0,189.4 349.4,194.6 351.2,199.6 353.4,204.5 356.0,209.1 358.9,213.4 362.3,217.5 365.9,221.3 369.9,224.7 374.1,227.8 378.5,230.5 383.2,232.9 388.0,234.8 393.0,236.3 398.1,237.4 403.2,238.0 408.4,238.2 413.6,238.0 418.7,237.4 423.8,236.3 428.8,234.8 433.6,232.9 438.3,230.5 442.7,227.8 446.9,224.7 450.9,221.3 454.5,217.5 457.9,213.4 460.8,209.1 463.4,204.5 465.6,199.6 467.4,194.6 468.8,189.4 469.7,184.2" fill="#47f6c5"/>
<polygon points="468.6,178.8 468.6,173.5 468.1,168.3 467.1,163.1 465.7,157.9 463.9,152.9 461.6,148.1 458.8,143.5 455.7,139.1 452.2,135.0 448.3,131.3 444.1,127.9 439.6,124.8 434.8,122.2 429.8,120.1 424.6,118.4 419.3,117.1 413.9,116.4 408.4,116.2 402.9,116.4 397.5,117.1 392.2,118.4 387.0,120.1 382.0,122.2 377.2,124.8 372.7,127.9 368.5,131.3 364.6,135.0 361.1,139.1 358.0,143.5 355.2,148.1 352.9,152.9 351.1,157.9 349.7,163.1 348.7,168.3 348.2,173.5 348.2,178.8 348.6,184.0 349.5,189.2 350.8,194.2 352.5,199.1 354.7,203.8 357.2,208.3 360.1,212.6 363.4,216.6 366.9,220.3 370.8,223.6 374.9,226.6 379.2,229.3 383.8,231.6 388.5,233.4 393.4,234.9 398.3,236.0 403.3,236.6 408.4,236.8 413.5,236.6 418.5,236.0 423.4,234.9 428.3,233.4 433.0,231.6 437.6,229.3 441.9,226.6 446.0,223.6 449.9,220.3 453.4,216.6 456.7,212.6 459.6,208.3 462.1,203.8 464.3,199.1 466.0,194.2 467.3,189.2 468.2,184.0" fill="#44f6c8"/>
<polygon points="467.1,178.8 467.1,173.7 466.6,168.5 465.7,163.4 464.3,158.4 462.5,153.6 460.2,148.9 457.6,144.4 454.5,140.1 451.1,136.1 447.3,132.5 443.2,129.1 438.8,126.2 434.1,123.7 429.2,121.6 424.2,119.9 419.0,118.7 413.7,118.0 408.4,117.7 403.1,118.0 397.8,118.7 392.6,119.9 387.6,121.6 382.7,123.7 378.0,126.2 373.6,129.1 369.5,132.5 365.7,136.1 362.3,140.1 359.2,144.4 356.6,148.9 354.3,153.6 352.5,158.4 351.1,163.4 350.2,168.5 349.7,173.7 349.7,178.8 350.1,183.9 350.9,188.9 352.2,193.9 353.9,198.6 356.0,203.2 358.5,207.6 361.3,211.8 364.5,215.7 367.9,219.3 371.7,222.6 375.7,225.5 379.9,228.1 384.4,230.3 389.0,232.1 393.7,233.6 398.6,234.6 403.5,235.2 408.4,235.4 413.3,235.2 418.2,234.6 423.1,233.6 427.8,232.1 432.4,230.3 436.9,228.1 441.1,225.5 445.1,222.6 448.9,219.3 452.3,215.7 455.5,211.8 458.3,207.6 460.8,203.2 462.9,198.6 464.6,193.9 465.9,188.9 466.7,183.9" fill="#41f5cb"/>
<polygon points="465.7,178.8 465.7,173.8 465.2,168.8 464.3,163.8 462.9,159.0 461.1,154.2 458.9,149.6 456.3,145.2 453.4,141.1 450.0,137.2 446.3,133.6 442.3,130.4 438.0,127.5 433.5,125.1 428.7,123.0 423.8,121.4 418.7,120.2 413.6,119.5 408.4,119.3 403.2,119.5 398.1,120.2 393.0,121.4 388.1,123.0 383.3,125.1 378.8,127.5 374.5,130.4 370.5,133.6 366.8,137.2 363.4,141.1 360.5,145.2 357.9,149.6 355.7,154.2 353.9,159.0 352.5,163.8 351.6,168.8 351.1,173.8 351.1,178.8 351.5,183.8 352.3,188.7 353.6,193.5 355.2,198.2 357.3,202.6 359.7,206.9 362.4,211.0 365.5,214.8 368.9,218.3 372.6,221.5 376.5,224.4 380.6,226.9 385.0,229.1 389.5,230.9 394.1,232.3 398.8,233.3 403.6,233.9 408.4,234.1 413.2,233.9 418.0,233.3 422.7,232.3 427.3,230.9 431.8,229.1 436.2,226.9 440.3,224.4 444.2,221.5 447.9,218.3 451.3,214.8 454.4,211.0 457.1,206.9 459.5,202.6 461.6,198.2 463.2,193.5 464.5,188.7 465.3,183.8" fill="#3ff4cd"/>
<polygon points="464.3,178.8 464.2,173.9 463.8,169.0 462.9,164.2 461.6,159.5 459.8,154.8 457.7,150.3 455.1,146.1 452.2,142.0 448.9,138.3 445.3,134.8 441.4,131.6 437.2,128.8 432.8,126.4 428.2,124.4 423.4,122.9 418.5,121.7 413.5,121.0 408.4,120.8 403.3,121.0 398.3,121.7 393.4,122.9 388.6,124.4 384.0,126.4 379.6,128.8 375.4,131.6 371.5,134.8 367.9,138.3 364.6,142.0 361.7,146.1 359.1,150.3 357.0,154.8 355.2,159.5 353.9,164.2 353.0,169.0 352.6,173.9 352.5,178.8 352.9,183.7 353.7,188.4 354.9,193.1 356.5,197.7 358.5,202.1 360.9,206.2 363.6,210.2 366.6,213.9 369.9,217.3 373.4,220.5 377.3,223.3 381.3,225.7 385.5,227.9 389.9,229.6 394.4,231.0 399.0,232.0 403.7,232.6 408.4,232.8 413.1,232.6 417.8,232.0 422.4,231.0 426.9,229.6 431.3,227.9 435.5,225.7 439.5,223.3 443.4,220.5 446.9,217.3 450.2,213.9 453.2,210.2 455.9,206.2 458.3,202.1 460.3,197.7 461.9,193.1 463.1,188.4 463.9,183.7" fill="#3cf3d0"/>
<polygon points="462.9,178.8 462.8,174.0 462.4,169.3 461.5,164.6 460.2,159.9 458.5,155.4 456.4,151.1 454.0,146.9 451.1,143.0 447.9,139.3 444.4,135.9 440.6,132.8 436.5,130.1 432.2,127.8 427.7,125.8 423.0,124.3 418.2,123.2 413.3,122.5 408.4,122.3 403.5,122.5 398.6,123.2 393.8,124.3 389.1,125.8 384.6,127.8 380.3,130.1 376.2,132.8 372.4,135.9 368.9,139.3 365.7,143.0 362.8,146.9 360.4,151.1 358.3,155.4 356.6,159.9 355.3,164.6 354.4,169.3 354.0,174.0 353.9,178.8 354.3,183.5 355.1,188.2 356.3,192.8 357.8,197.2 359.7,201.5 362.0,205.6 364.7,209.4 367.6,213.0 370.8,216.4 374.3,219.4 378.0,222.2 382.0,224.6 386.1,226.7 390.4,228.4 394.8,229.7 399.3,230.7 403.8,231.3 408.4,231.4 413.0,231.3 417.5,230.7 422.0,229.7 426.4,228.4 430.7,226.7 434.8,224.6 438.8,222.2 442.5,219.4 446.0,216.4 449.2,213.0 452.1,209.4 454.8,205.6 457.1,201.5 459.0,197.2 460.5,192.8 461.7,188.2 462.5,183.5" fill="#3af2d2"/>
<polygon points="461.5,178.8 461.5,174.2 461.0,169.5 460.2,164.9 458.9,160.4 457.3,156.0 455.2,151.8 452.8,147.7 450.0,143.9 446.9,140.3 443.5,137.0 439.8,134.0 435.8,131.4 431.6,129.1 427.2,127.2 422.6,125.7 418.0,124.6 413.2,124.0 408.4,123.8 403.6,124.0 398.8,124.6 394.2,125.7 389.6,127.2 385.2,129.1 381.0,131.4 377.0,134.0 373.3,137.0 369.9,140.3 366.8,143.9 364.0,147.7 361.6,151.8 359.5,156.0 357.9,160.4 356.6,164.9 355.8,169.5 355.3,174.2 355.3,178.8 355.6,183.4 356.4,188.0 357.5,192.4 359.1,196.8 360.9,200.9 363.2,204.9 365.7,208.7 368.6,212.2 371.7,215.5 375.1,218.5 378.8,221.1 382.6,223.5 386.6,225.5 390.8,227.2 395.1,228.5 399.5,229.4 403.9,230.0 408.4,230.2 412.9,230.0 417.3,229.4 421.7,228.5 426.0,227.2 430.2,225.5 434.2,223.5 438.0,221.1 441.7,218.5 445.1,215.5 448.2,212.2 451.1,208.7 453.6,204.9 455.9,200.9 457.7,196.8 459.3,192.4 460.4,188.0 461.2,183.4" fill="#38f0d4"/>
<polygon points="460.2,178.8 460.1,174.3 459.7,169.8 458.9,165.3 457.6,160.9 456.0,156.6 454.0,152.5 451.7,148.5 449.0,144.8 445.9,141.3 442.6,138.1 439.0,135.2 435.1,132.6 431.0,130.4 426.7,128.5 422.3,127.1 417.7,126.0 413.1,125.4 408.4,125.2 403.7,125.4 399.1,126.0 394.5,127.1 390.1,128.5 385.8,130.4 381.7,132.6 377.8,135.2 374.2,138.1 370.9,141.3 367.8,144.8 365.1,148.5 362.8,152.5 360.8,156.6 359.2,160.9 357.9,165.3 357.1,169.8 356.7,174.3 356.6,178.8 357.0,183.3 357.7,187.7 358.8,192.1 360.3,196.3 362.1,200.4 364.3,204.3 366.8,207.9 369.6,211.4 372.6,214.6 375.9,217.5 379.5,220.1 383.2,222.4 387.2,224.4 391.2,226.0 395.4,227.3 399.7,228.2 404.0,228.7 408.4,228.9 412.8,228.7 417.1,228.2 421.4,227.3 425.6,226.0 429.6,224.4 433.6,222.4 437.3,220.1 440.9,217.5 444.2,214.6 447.2,211.4 450.0,207.9 452.5,204.3 454.7,200.4 456.5,196.3 458.0,192.1 459.1,187.7 459.8,183.3" fill="#37eed6"/>
<polygon points="458.9,178.8 458.8,174.4 458.4,170.0 457.6,165.6 456.4,161.3 454.8,157.2 452.9,153.1 450.6,149.3 447.9,145.6 445.0,142.2 441.7,139.1 438.2,136.3 434.4,133.8 430.4,131.6 426.2,129.8 421.9,128.4 417.5,127.4 413.0,126.8 408.4,126.6 403.8,126.8 399.3,127.4 394.9,128.4 390.6,129.8 386.4,131.6 382.4,133.8 378.6,136.3 375.1,139.1 371.8,142.2 368.9,145.6 366.2,149.3 363.9,153.1 362.0,157.2 360.4,161.3 359.2,165.6 358.4,170.0 358.0,174.4 357.9,178.8 358.3,183.2 359.0,187.5 360.0,191.8 361.5,195.9 363.3,199.8 365.4,203.6 367.8,207.2 370.5,210.6 373.5,213.7 376.7,216.5 380.2,219.1 383.9,221.3 387.7,223.2 391.6,224.8 395.7,226.1 399.9,227.0 404.1,227.5 408.4,227.7 412.7,227.5 416.9,227.0 421.1,226.1 425.2,224.8 429.1,223.2 432.9,221.3 436.6,219.1 440.1,216.5 443.3,213.7 446.3,210.6 449.0,207.2 451.4,203.6 453.5,199.8 455.3,195.9 456.8,191.8 457.8,187.5 458.5,183.2" fill="#35edd8"/>
<polygon points="457.6,178.8 457.6,174.5 457.1,170.2 456.3,166.0 455.2,161.8 453.6,157.7 451.7,153.8 449.5,150.0 446.9,146.5 444.0,143.2 440.8,140.1 437.4,137.4 433.7,134.9 429.8,132.8 425.8,131.1 421.6,129.7 417.2,128.7 412.8,128.1 408.4,127.9 404.0,128.1 399.6,128.7 395.2,129.7 391.0,131.1 387.0,132.8 383.1,134.9 379.4,137.4 376.0,140.1 372.8,143.2 369.9,146.5 367.3,150.0 365.1,153.8 363.2,157.7 361.6,161.8 360.5,166.0 359.7,170.2 359.2,174.5 359.2,178.8 359.5,183.1 360.2,187.3 361.3,191.4 362.7,195.4 364.4,199.3 366.5,203.0 368.8,206.5 371.5,209.8 374.4,212.8 377.5,215.6 380.9,218.1 384.5,220.3 388.2,222.1 392.1,223.7 396.0,224.9 400.1,225.8 404.2,226.3 408.4,226.5 412.6,226.3 416.7,225.8 420.8,224.9 424.7,223.7 428.6,222.1 432.3,220.3 435.9,218.1 439.3,215.6 442.4,212.8 445.3,209.8 448.0,206.5 450.3,203.0 452.4,199.3 454.1,195.4 455.5,191.4 456.6,187.3 457.3,183.1" fill="#33ebda"/>
<polygon points="456.4,178.8 456.3,174.6 455.9,170.4 455.1,166.3 454.0,162.2 452.5,158.3 450.6,154.4 448.4,150.8 445.9,147.3 443.1,144.1 440.0,141.1 436.7,138.5 433.1,136.1 429.3,134.0 425.3,132.3 421.2,131.0 417.0,130.0 412.7,129.4 408.4,129.2 404.1,129.4 399.8,130.0 395.6,131.0 391.5,132.3 387.5,134.0 383.7,136.1 380.1,138.5 376.8,141.1 373.7,144.1 370.9,147.3 368.4,150.8 366.2,154.4 364.3,158.3 362.8,162.2 361.7,166.3 360.9,170.4 360.5,174.6 360.4,178.8 360.7,183.0 361.4,187.1 362.4,191.1 363.8,195.0 365.5,198.8 367.5,202.4 369.8,205.8 372.4,209.0 375.2,212.0 378.3,214.7 381.6,217.1 385.0,219.2 388.7,221.1 392.5,222.6 396.3,223.8 400.3,224.6 404.3,225.1 408.4,225.3 412.5,225.1 416.5,224.6 420.5,223.8 424.3,222.6 428.1,221.1 431.8,219.2 435.2,217.1 438.5,214.7 441.6,212.0 444.4,209.0 447.0,205.8 449.3,202.4 451.3,198.8 453.0,195.0 454.4,191.1 455.4,187.1 456.1,183.0" fill="#31eadc"/>
<polygon points="455.1,178.8 455.1,174.7 454.7,170.6 453.9,166.6 452.8,162.6 451.3,158.8 449.5,155.1 447.4,151.5 444.9,148.1 442.2,145.0 439.2,142.1 435.9,139.5 432.4,137.2 428.7,135.2 424.9,133.5 420.9,132.2 416.8,131.3 412.6,130.7 408.4,130.5 404.2,130.7 400.0,131.3 395.9,132.2 391.9,133.5 388.1,135.2 384.4,137.2 380.9,139.5 377.6,142.1 374.6,145.0 371.9,148.1 369.4,151.5 367.3,155.1 365.5,158.8 364.0,162.6 362.9,166.6 362.1,170.6 361.7,174.7 361.7,178.8 362.0,182.9 362.6,186.9 363.6,190.8 364.9,194.6 366.6,198.3 368.5,201.8 370.8,205.2 373.3,208.3 376.0,211.2 379.0,213.8 382.2,216.2 385.6,218.2 389.2,220.0 392.9,221.5 396.6,222.7 400.5,223.5 404.4,224.0 408.4,224.2 412.4,224.0 416.3,223.5 420.2,222.7 423.9,221.5 427.6,220.0 431.2,218.2 434.6,216.2 437.8,213.8 440.8,211.2 443.5,208.3 446.0,205.2 448.3,201.8 450.2,198.3 451.9,194.6 453.2,190.8 454.2,186.9 454.8,182.9" fill="#2fe8de"/>
<polygon points="454.0,178.8 453.9,174.8 453.5,170.8 452.8,166.9 451.7,163.1 450.2,159.3 448.5,155.7 446.4,152.2 444.0,148.9 441.3,145.9 438.4,143.1 435.2,140.5 431.8,138.3 428.2,136.3 424.4,134.7 420.6,133.5 416.6,132.5 412.5,132.0 408.4,131.8 404.3,132.0 400.2,132.5 396.2,133.5 392.4,134.7 388.6,136.3 385.0,138.3 381.6,140.5 378.4,143.1 375.5,145.9 372.8,148.9 370.4,152.2 368.3,155.7 366.6,159.3 365.1,163.1 364.0,166.9 363.3,170.8 362.9,174.8 362.8,178.8 363.1,182.8 363.8,186.7 364.7,190.5 366.0,194.2 367.6,197.8 369.5,201.2 371.7,204.5 374.2,207.5 376.9,210.3 379.8,212.9 382.9,215.2 386.2,217.3 389.7,219.0 393.2,220.4 396.9,221.6 400.7,222.4 404.5,222.9 408.4,223.0 412.3,222.9 416.1,222.4 419.9,221.6 423.6,220.4 427.1,219.0 430.6,217.3 433.9,215.2 437.0,212.9 439.9,210.3 442.6,207.5 445.1,204.5 447.3,201.2 449.2,197.8 450.8,194.2 452.1,190.5 453.0,186.7 453.7,182.8" fill="#2ee7e0"/>
<polygon points="452.8,178.8 452.7,174.9 452.3,171.1 451.6,167.2 450.5,163.5 449.1,159.8 447.4,156.3 445.4,152.9 443.1,149.7 440.5,146.7 437.6,144.0 434.5,141.5 431.2,139.3 427.7,137.4 424.0,135.9 420.2,134.6 416.3,133.8 412.4,133.2 408.4,133.0 404.4,133.2 400.5,133.8 396.6,134.6 392.8,135.9 389.1,137.4 385.6,139.3 382.3,141.5 379.2,144.0 376.3,146.7 373.7,149.7 371.4,152.9 369.4,156.3 367.7,159.8 366.3,163.5 365.2,167.2 364.5,171.1 364.1,174.9 364.0,178.8 364.3,182.7 364.9,186.5 365.8,190.2 367.1,193.8 368.7,197.3 370.5,200.7 372.6,203.8 375.0,206.8 377.6,209.6 380.5,212.1 383.5,214.3 386.7,216.3 390.1,218.0 393.6,219.4 397.2,220.5 400.9,221.3 404.6,221.8 408.4,221.9 412.2,221.8 415.9,221.3 419.6,220.5 423.2,219.4 426.7,218.0 430.1,216.3 433.3,214.3 436.3,212.1 439.2,209.6 441.8,206.8 444.2,203.8 446.3,200.7 448.1,197.3 449.7,193.8 451.0,190.2 451.9,186.5 452.5,182.7" fill="#2de5e2"/>
<polygon points="451.7,178.8 451.6,175.0 451.2,171.2 450.5,167.5 449.5,163.9 448.1,160.3 446.4,156.9 444.4,153.6 442.2,150.5 439.6,147.6 436.8,144.9 433.8,142.5 430.6,140.4 427.2,138.5 423.6,137.0 419.9,135.8 416.1,134.9 412.3,134.4 408.4,134.2 404.5,134.4 400.7,134.9 396.9,135.8 393.2,137.0 389.6,138.5 386.2,140.4 383.0,142.5 380.0,144.9 377.2,147.6 374.6,150.5 372.4,153.6 370.4,156.9 368.7,160.3 367.3,163.9 366.3,167.5 365.6,171.2 365.2,175.0 365.1,178.8 365.4,182.6 366.0,186.3 366.9,189.9 368.1,193.5 369.7,196.9 371.5,200.1 373.5,203.2 375.9,206.1 378.4,208.8 381.2,211.2 384.1,213.4 387.3,215.4 390.6,217.0 394.0,218.4 397.5,219.5 401.1,220.2 404.7,220.7 408.4,220.9 412.1,220.7 415.7,220.2 419.3,219.5 422.8,218.4 426.2,217.0 429.5,215.4 432.7,213.4 435.6,211.2 438.4,208.8 440.9,206.1 443.3,203.2 445.3,200.1 447.1,196.9 448.7,193.5 449.9,189.9 450.8,186.3 451.4,182.6" fill="#2ce3e4"/>
<polygon points="450.6,178.8 450.5,175.1 450.1,171.4 449.4,167.8 448.4,164.2 447.1,160.8 445.4,157.4 443.5,154.2 441.3,151.2 438.8,148.4 436.1,145.8 433.2,143.4 430.0,141.4 426.7,139.6 423.2,138.1 419.6,136.9 415.9,136.1 412.2,135.6 408.4,135.4 404.6,135.6 400.9,136.1 397.2,136.9 393.6,138.1 390.1,139.6 386.8,141.4 383.6,143.4 380.7,145.8 378.0,148.4 375.5,151.2 373.3,154.2 371.4,157.4 369.7,160.8 368.4,164.2 367.4,167.8 366.7,171.4 366.3,175.1 366.2,178.8 366.5,182.5 367.1,186.1 368.0,189.6 369.2,193.1 370.6,196.4 372.4,199.6 374.4,202.6 376.7,205.4 379.2,208.0 381.9,210.4 384.8,212.6 387.8,214.5 391.0,216.1 394.3,217.4 397.8,218.5 401.3,219.2 404.8,219.7 408.4,219.8 412.0,219.7 415.5,219.2 419.0,218.5 422.5,217.4 425.8,216.1 429.0,214.5 432.0,212.6 434.9,210.4 437.6,208.0 440.1,205.4 442.4,202.6 444.4,199.6 446.2,196.4 447.6,193.1 448.8,189.6 449.7,186.1 450.3,182.5" fill="#2be1e6"/>
<polygon points="449.5,178.8 449.4,175.2 449.0,171.6 448.4,168.1 447.4,164.6 446.1,161.2 444.5,158.0 442.6,154.9 440.4,151.9 438.0,149.2 435.4,146.7 432.5,144.4 429.4,142.4 426.2,140.6 422.8,139.2 419.3,138.0 415.7,137.2 412.1,136.7 408.4,136.6 404.7,136.7 401.1,137.2 397.5,138.0 394.0,139.2 390.6,140.6 387.4,142.4 384.3,144.4 381.4,146.7 378.8,149.2 376.4,151.9 374.2,154.9 372.3,158.0 370.7,161.2 369.4,164.6 368.4,168.1 367.8,171.6 367.4,175.2 367.3,178.8 367.6,182.4 368.1,185.9 369.0,189.4 370.2,192.7 371.6,196.0 373.3,199.1 375.3,202.0 377.5,204.8 379.9,207.3 382.5,209.6 385.4,211.7 388.3,213.6 391.5,215.1 394.7,216.4 398.0,217.5 401.5,218.2 404.9,218.6 408.4,218.8 411.9,218.6 415.3,218.2 418.8,217.5 422.1,216.4 425.3,215.1 428.5,213.6 431.4,211.7 434.3,209.6 436.9,207.3 439.3,204.8 441.5,202.0 443.5,199.1 445.2,196.0 446.6,192.7 447.8,189.4 448.7,185.9 449.2,182.4" fill="#2bdfe8"/>
<polygon points="448.4,178.8 448.4,175.3 448.0,171.8 447.3,168.4 446.4,165.0 445.1,161.7 443.5,158.5 441.7,155.5 439.6,152.6 437.3,149.9 434.7,147.5 431.9,145.3 428.9,143.3 425.7,141.6 422.4,140.2 419.0,139.1 415.5,138.3 412.0,137.8 408.4,137.7 404.8,137.8 401.3,138.3 397.8,139.1 394.4,140.2 391.1,141.6 387.9,143.3 384.9,145.3 382.1,147.5 379.5,149.9 377.2,152.6 375.1,155.5 373.3,158.5 371.7,161.7 370.4,165.0 369.5,168.4 368.8,171.8 368.4,175.3 368.4,178.8 368.6,182.3 369.2,185.7 370.0,189.1 371.1,192.4 372.5,195.5 374.2,198.5 376.1,201.4 378.3,204.1 380.6,206.6 383.2,208.9 385.9,210.9 388.8,212.7 391.9,214.2 395.0,215.5 398.3,216.5 401.6,217.2 405.0,217.7 408.4,217.8 411.8,217.7 415.2,217.2 418.5,216.5 421.8,215.5 424.9,214.2 428.0,212.7 430.9,210.9 433.6,208.9 436.2,206.6 438.5,204.1 440.7,201.4 442.6,198.5 444.3,195.5 445.7,192.4 446.8,189.1 447.6,185.7 448.2,182.3" fill="#2adee9"/>
<polygon points="447.4,178.8 447.3,175.4 447.0,172.0 446.3,168.6 445.4,165.3 444.1,162.1 442.6,159.0 440.8,156.1 438.8,153.3 436.5,150.7 434.0,148.3 431.3,146.2 428.4,144.2 425.3,142.6 422.1,141.2 418.8,140.1 415.4,139.4 411.9,138.9 408.4,138.7 404.9,138.9 401.4,139.4 398.0,140.1 394.7,141.2 391.5,142.6 388.4,144.2 385.5,146.2 382.8,148.3 380.3,150.7 378.0,153.3 376.0,156.1 374.2,159.0 372.7,162.1 371.4,165.3 370.5,168.6 369.8,172.0 369.5,175.4 369.4,178.8 369.6,182.2 370.2,185.5 371.0,188.8 372.1,192.0 373.4,195.1 375.1,198.0 376.9,200.8 379.0,203.5 381.3,205.9 383.8,208.1 386.5,210.1 389.3,211.8 392.3,213.3 395.4,214.6 398.6,215.6 401.8,216.3 405.1,216.7 408.4,216.8 411.7,216.7 415.0,216.3 418.2,215.6 421.4,214.6 424.5,213.3 427.5,211.8 430.3,210.1 433.0,208.1 435.5,205.9 437.8,203.5 439.9,200.8 441.7,198.0 443.4,195.1 444.7,192.0 445.8,188.8 446.6,185.5 447.2,182.2" fill="#2adceb"/>
<polygon points="446.4,178.8 446.3,175.5 446.0,172.2 445.3,168.9 444.4,165.7 443.2,162.6 441.7,159.6 440.0,156.7 438.0,154.0 435.8,151.4 433.3,149.1 430.7,147.0 427.8,145.1 424.8,143.5 421.7,142.2 418.5,141.2 415.2,140.4 411.8,140.0 408.4,139.8 405.0,140.0 401.6,140.4 398.3,141.2 395.1,142.2 392.0,143.5 389.0,145.1 386.1,147.0 383.5,149.1 381.0,151.4 378.8,154.0 376.8,156.7 375.1,159.6 373.6,162.6 372.4,165.7 371.5,168.9 370.8,172.2 370.5,175.5 370.4,178.8 370.6,182.1 371.1,185.4 371.9,188.6 373.0,191.7 374.3,194.7 375.9,197.6 377.7,200.3 379.8,202.8 382.0,205.2 384.4,207.4 387.0,209.3 389.8,211.0 392.7,212.5 395.7,213.7 398.8,214.6 402.0,215.3 405.2,215.7 408.4,215.9 411.6,215.7 414.8,215.3 418.0,214.6 421.1,213.7 424.1,212.5 427.0,211.0 429.8,209.3 432.4,207.4 434.8,205.2 437.0,202.8 439.1,200.3 440.9,197.6 442.5,194.7 443.8,191.7 444.9,188.6 445.7,185.4 446.2,182.1" fill="#29daed"/>
<polygon points="445.4,178.8 445.4,175.6 445.0,172.3 444.4,169.2 443.5,166.0 442.3,163.0 440.9,160.1 439.2,157.3 437.2,154.6 435.0,152.2 432.7,149.9 430.1,147.8 427.3,146.0 424.4,144.5 421.4,143.2 418.2,142.2 415.0,141.4 411.7,141.0 408.4,140.8 405.1,141.0 401.8,141.4 398.6,142.2 395.4,143.2 392.4,144.5 389.5,146.0 386.7,147.8 384.1,149.9 381.8,152.2 379.6,154.6 377.6,157.3 375.9,160.1 374.5,163.0 373.3,166.0 372.4,169.2 371.8,172.3 371.4,175.6 371.4,178.8 371.6,182.0 372.1,185.2 372.9,188.3 373.9,191.4 375.2,194.3 376.7,197.1 378.5,199.7 380.5,202.2 382.7,204.5 385.0,206.6 387.6,208.5 390.3,210.2 393.1,211.6 396.0,212.8 399.0,213.7 402.1,214.4 405.3,214.8 408.4,214.9 411.5,214.8 414.7,214.4 417.8,213.7 420.8,212.8 423.7,211.6 426.5,210.2 429.2,208.5 431.8,206.6 434.1,204.5 436.3,202.2 438.3,199.7 440.1,197.1 441.6,194.3 442.9,191.4 443.9,188.3 444.7,185.2 445.2,182.0" fill="#28d8ef"/>
<polygon points="444.5,178.8 444.4,175.7 444.1,172.5 443.5,169.4 442.6,166.4 441.4,163.4 440.0,160.5 438.4,157.8 436.5,155.3 434.3,152.9 432.0,150.7 429.5,148.7 426.8,146.9 424.0,145.4 421.0,144.1 418.0,143.1 414.8,142.4 411.6,142.0 408.4,141.8 405.2,142.0 402.0,142.4 398.8,143.1 395.8,144.1 392.8,145.4 390.0,146.9 387.3,148.7 384.8,150.7 382.5,152.9 380.3,155.3 378.4,157.8 376.8,160.5 375.4,163.4 374.2,166.4 373.3,169.4 372.7,172.5 372.4,175.7 372.3,178.8 372.6,181.9 373.0,185.0 373.8,188.1 374.8,191.0 376.0,193.9 377.5,196.6 379.3,199.2 381.2,201.6 383.3,203.9 385.6,205.9 388.1,207.8 390.7,209.4 393.5,210.8 396.3,211.9 399.3,212.8 402.3,213.5 405.3,213.9 408.4,214.0 411.5,213.9 414.5,213.5 417.5,212.8 420.5,211.9 423.3,210.8 426.1,209.4 428.7,207.8 431.2,205.9 433.5,203.9 435.6,201.6 437.5,199.2 439.3,196.6 440.8,193.9 442.0,191.0 443.0,188.1 443.8,185.0 444.2,181.9" fill="#28d5f0"/>
<polygon points="443.5,178.8 443.5,175.7 443.1,172.7 442.5,169.7 441.7,166.7 440.6,163.8 439.2,161.0 437.6,158.4 435.7,155.9 433.7,153.5 431.4,151.4 428.9,149.5 426.3,147.7 423.6,146.3 420.7,145.0 417.7,144.1 414.6,143.4 411.5,143.0 408.4,142.8 405.3,143.0 402.2,143.4 399.1,144.1 396.1,145.0 393.2,146.3 390.5,147.7 387.9,149.5 385.4,151.4 383.1,153.5 381.1,155.9 379.2,158.4 377.6,161.0 376.2,163.8 375.1,166.7 374.3,169.7 373.7,172.7 373.3,175.7 373.3,178.8 373.5,181.9 373.9,184.9 374.7,187.8 375.7,190.7 376.9,193.5 378.3,196.2 380.0,198.7 381.9,201.0 384.0,203.2 386.2,205.2 388.6,207.0 391.2,208.6 393.9,210.0 396.6,211.1 399.5,212.0 402.4,212.6 405.4,213.0 408.4,213.1 411.4,213.0 414.4,212.6 417.3,212.0 420.2,211.1 422.9,210.0 425.6,208.6 428.2,207.0 430.6,205.2 432.8,203.2 434.9,201.0 436.8,198.7 438.5,196.2 439.9,193.5 441.1,190.7 442.1,187.8 442.9,184.9 443.3,181.9" fill="#28d1f1"/>
<polygon points="442.6,178.8 442.6,175.8 442.2,172.8 441.7,169.9 440.8,167.0 439.7,164.2 438.4,161.5 436.8,158.9 435.0,156.5 433.0,154.2 430.8,152.1 428.4,150.2 425.9,148.6 423.2,147.1 420.4,145.9 417.5,145.0 414.5,144.3 411.5,143.9 408.4,143.8 405.3,143.9 402.3,144.3 399.3,145.0 396.4,145.9 393.6,147.1 390.9,148.6 388.4,150.2 386.0,152.1 383.8,154.2 381.8,156.5 380.0,158.9 378.4,161.5 377.1,164.2 376.0,167.0 375.1,169.9 374.6,172.8 374.2,175.8 374.2,178.8 374.4,181.8 374.8,184.7 375.5,187.6 376.5,190.4 377.7,193.1 379.1,195.7 380.7,198.2 382.6,200.5 384.6,202.6 386.8,204.6 389.1,206.3 391.6,207.9 394.2,209.2 396.9,210.3 399.7,211.1 402.6,211.8 405.5,212.1 408.4,212.3 411.3,212.1 414.2,211.8 417.1,211.1 419.9,210.3 422.6,209.2 425.2,207.9 427.7,206.3 430.0,204.6 432.2,202.6 434.2,200.5 436.1,198.2 437.7,195.7 439.1,193.1 440.3,190.4 441.3,187.6 442.0,184.7 442.4,181.8" fill="#29cef1"/>
<polygon points="441.7,178.8 441.7,175.9 441.4,173.0 440.8,170.1 440.0,167.3 438.9,164.6 437.6,161.9 436.1,159.4 434.3,157.1 432.4,154.8 430.2,152.8 427.9,151.0 425.4,149.4 422.8,148.0 420.0,146.8 417.2,145.9 414.3,145.2 411.4,144.8 408.4,144.7 405.4,144.8 402.5,145.2 399.6,145.9 396.8,146.8 394.0,148.0 391.4,149.4 388.9,151.0 386.6,152.8 384.4,154.8 382.5,157.1 380.7,159.4 379.2,161.9 377.9,164.6 376.8,167.3 376.0,170.1 375.4,173.0 375.1,175.9 375.1,178.8 375.3,181.7 375.7,184.6 376.4,187.4 377.3,190.1 378.5,192.8 379.8,195.3 381.4,197.7 383.2,199.9 385.2,202.0 387.3,203.9 389.6,205.6 392.0,207.1 394.6,208.4 397.2,209.5 400.0,210.3 402.7,210.9 405.6,211.3 408.4,211.4 411.2,211.3 414.1,210.9 416.8,210.3 419.6,209.5 422.2,208.4 424.8,207.1 427.2,205.6 429.5,203.9 431.6,202.0 433.6,199.9 435.4,197.7 437.0,195.3 438.3,192.8 439.5,190.1 440.4,187.4 441.1,184.6 441.5,181.7" fill="#29caf2"/>
<polygon points="440.9,178.8 440.8,176.0 440.5,173.1 439.9,170.3 439.1,167.6 438.1,164.9 436.8,162.4 435.3,159.9 433.6,157.6 431.7,155.5 429.6,153.5 427.4,151.7 425.0,150.1 422.4,148.8 419.7,147.6 417.0,146.7 414.2,146.1 411.3,145.7 408.4,145.6 405.5,145.7 402.6,146.1 399.8,146.7 397.1,147.6 394.4,148.8 391.8,150.1 389.4,151.7 387.2,153.5 385.1,155.5 383.2,157.6 381.5,159.9 380.0,162.4 378.7,164.9 377.7,167.6 376.9,170.3 376.3,173.1 376.0,176.0 375.9,178.8 376.1,181.6 376.5,184.4 377.2,187.2 378.1,189.8 379.2,192.4 380.6,194.9 382.1,197.2 383.9,199.4 385.8,201.4 387.9,203.3 390.1,204.9 392.5,206.4 394.9,207.7 397.5,208.7 400.2,209.5 402.9,210.1 405.6,210.5 408.4,210.6 411.2,210.5 413.9,210.1 416.6,209.5 419.3,208.7 421.9,207.7 424.3,206.4 426.7,204.9 428.9,203.3 431.0,201.4 432.9,199.4 434.7,197.2 436.2,194.9 437.6,192.4 438.7,189.8 439.6,187.2 440.3,184.4 440.7,181.6" fill="#29c6f3"/>
<polygon points="440.0,178.8 440.0,176.0 439.7,173.3 439.1,170.6 438.3,167.9 437.3,165.3 436.1,162.8 434.6,160.4 433.0,158.2 431.1,156.1 429.1,154.2 426.9,152.4 424.5,150.9 422.0,149.6 419.4,148.5 416.8,147.6 414.0,147.0 411.2,146.6 408.4,146.5 405.6,146.6 402.8,147.0 400.0,147.6 397.4,148.5 394.8,149.6 392.3,150.9 389.9,152.4 387.7,154.2 385.7,156.1 383.8,158.2 382.2,160.4 380.7,162.8 379.5,165.3 378.5,167.9 377.7,170.6 377.1,173.3 376.8,176.0 376.8,178.8 376.9,181.6 377.4,184.3 378.0,186.9 378.9,189.5 380.0,192.1 381.3,194.5 382.8,196.7 384.5,198.9 386.4,200.8 388.4,202.6 390.6,204.3 392.9,205.7 395.3,206.9 397.8,208.0 400.4,208.7 403.0,209.3 405.7,209.7 408.4,209.8 411.1,209.7 413.8,209.3 416.4,208.7 419.0,208.0 421.5,206.9 423.9,205.7 426.2,204.3 428.4,202.6 430.4,200.8 432.3,198.9 434.0,196.7 435.5,194.5 436.8,192.1 437.9,189.5 438.8,186.9 439.4,184.3 439.9,181.6" fill="#29c2f3"/>
<polygon points="439.2,178.8 439.2,176.1 438.9,173.4 438.3,170.8 437.6,168.2 436.6,165.7 435.4,163.2 433.9,160.9 432.3,158.7 430.5,156.7 428.5,154.8 426.4,153.1 424.1,151.6 421.7,150.3 419.2,149.3 416.5,148.4 413.9,147.8 411.1,147.4 408.4,147.3 405.7,147.4 402.9,147.8 400.3,148.4 397.6,149.3 395.1,150.3 392.7,151.6 390.4,153.1 388.3,154.8 386.3,156.7 384.5,158.7 382.9,160.9 381.4,163.2 380.2,165.7 379.2,168.2 378.5,170.8 377.9,173.4 377.6,176.1 377.6,178.8 377.8,181.5 378.2,184.1 378.8,186.7 379.6,189.3 380.7,191.7 382.0,194.1 383.5,196.3 385.1,198.3 386.9,200.3 388.9,202.0 391.0,203.6 393.3,205.0 395.6,206.2 398.1,207.2 400.6,208.0 403.2,208.5 405.8,208.9 408.4,209.0 411.0,208.9 413.6,208.5 416.2,208.0 418.7,207.2 421.2,206.2 423.5,205.0 425.8,203.6 427.9,202.0 429.9,200.3 431.7,198.3 433.3,196.3 434.8,194.1 436.1,191.7 437.2,189.3 438.0,186.7 438.6,184.1 439.0,181.5" fill="#2abef4"/>
<polygon points="438.4,178.8 438.4,176.2 438.1,173.6 437.5,171.0 436.8,168.5 435.8,166.0 434.7,163.6 433.3,161.4 431.7,159.2 429.9,157.3 428.0,155.4 425.9,153.8 423.7,152.3 421.3,151.1 418.9,150.0 416.3,149.2 413.7,148.6 411.1,148.3 408.4,148.2 405.7,148.3 403.1,148.6 400.5,149.2 397.9,150.0 395.5,151.1 393.1,152.3 390.9,153.8 388.8,155.4 386.9,157.3 385.1,159.2 383.5,161.4 382.1,163.6 381.0,166.0 380.0,168.5 379.3,171.0 378.7,173.6 378.4,176.2 378.4,178.8 378.5,181.4 378.9,184.0 379.6,186.5 380.4,189.0 381.4,191.4 382.7,193.7 384.1,195.8 385.7,197.8 387.5,199.7 389.4,201.4 391.5,203.0 393.6,204.4 395.9,205.5 398.3,206.5 400.8,207.2 403.3,207.8 405.8,208.1 408.4,208.2 411.0,208.1 413.5,207.8 416.0,207.2 418.5,206.5 420.9,205.5 423.2,204.4 425.3,203.0 427.4,201.4 429.3,199.7 431.1,197.8 432.7,195.8 434.1,193.7 435.4,191.4 436.4,189.0 437.2,186.5 437.9,184.0 438.3,181.4" fill="#2abaf4"/>
<polygon points="437.6,178.8 437.6,176.2 437.3,173.7 436.8,171.2 436.1,168.7 435.1,166.3 434.0,164.0 432.6,161.8 431.1,159.8 429.4,157.8 427.5,156.1 425.4,154.5 423.3,153.0 421.0,151.8 418.6,150.8 416.1,150.0 413.6,149.4 411.0,149.1 408.4,149.0 405.8,149.1 403.2,149.4 400.7,150.0 398.2,150.8 395.8,151.8 393.5,153.0 391.4,154.5 389.3,156.1 387.4,157.8 385.7,159.8 384.2,161.8 382.8,164.0 381.7,166.3 380.7,168.7 380.0,171.2 379.5,173.7 379.2,176.2 379.2,178.8 379.3,181.3 379.7,183.9 380.3,186.3 381.1,188.7 382.1,191.1 383.3,193.3 384.7,195.4 386.3,197.4 388.0,199.2 389.9,200.9 391.9,202.4 394.0,203.7 396.3,204.8 398.6,205.8 401.0,206.5 403.4,207.1 405.9,207.4 408.4,207.5 410.9,207.4 413.4,207.1 415.8,206.5 418.2,205.8 420.5,204.8 422.8,203.7 424.9,202.4 426.9,200.9 428.8,199.2 430.5,197.4 432.1,195.4 433.5,193.3 434.7,191.1 435.7,188.7 436.5,186.3 437.1,183.9 437.5,181.3" fill="#2ab6f5"/>
<polygon points="436.9,178.8 436.8,176.3 436.5,173.8 436.0,171.4 435.3,169.0 434.4,166.7 433.3,164.4 432.0,162.3 430.5,160.3 428.8,158.4 427.0,156.7 425.0,155.1 422.9,153.7 420.7,152.5 418.3,151.5 415.9,150.8 413.4,150.2 410.9,149.9 408.4,149.8 405.9,149.9 403.4,150.2 400.9,150.8 398.5,151.5 396.1,152.5 393.9,153.7 391.8,155.1 389.8,156.7 388.0,158.4 386.3,160.3 384.8,162.3 383.5,164.4 382.4,166.7 381.5,169.0 380.8,171.4 380.3,173.8 380.0,176.3 379.9,178.8 380.1,181.3 380.4,183.7 381.0,186.1 381.8,188.5 382.8,190.7 384.0,192.9 385.3,195.0 386.8,196.9 388.5,198.7 390.4,200.3 392.3,201.8 394.4,203.1 396.6,204.2 398.8,205.1 401.2,205.8 403.5,206.3 406.0,206.6 408.4,206.8 410.8,206.6 413.3,206.3 415.6,205.8 418.0,205.1 420.2,204.2 422.4,203.1 424.5,201.8 426.4,200.3 428.3,198.7 430.0,196.9 431.5,195.0 432.8,192.9 434.0,190.7 435.0,188.5 435.8,186.1 436.4,183.7 436.7,181.3" fill="#2ab2f5"/>
<polygon points="436.1,178.8 436.1,176.4 435.8,174.0 435.3,171.6 434.6,169.2 433.7,167.0 432.7,164.8 431.4,162.7 429.9,160.7 428.3,158.9 426.5,157.2 424.6,155.7 422.5,154.4 420.3,153.2 418.1,152.3 415.7,151.5 413.3,151.0 410.9,150.6 408.4,150.5 405.9,150.6 403.5,151.0 401.1,151.5 398.7,152.3 396.5,153.2 394.3,154.4 392.2,155.7 390.3,157.2 388.5,158.9 386.9,160.7 385.4,162.7 384.1,164.8 383.1,167.0 382.2,169.2 381.5,171.6 381.0,174.0 380.7,176.4 380.7,178.8 380.8,181.2 381.2,183.6 381.7,185.9 382.5,188.2 383.5,190.4 384.6,192.5 385.9,194.5 387.4,196.4 389.0,198.2 390.8,199.8 392.7,201.2 394.7,202.4 396.9,203.5 399.1,204.4 401.3,205.1 403.7,205.6 406.0,205.9 408.4,206.0 410.8,205.9 413.1,205.6 415.5,205.1 417.7,204.4 419.9,203.5 422.1,202.4 424.1,201.2 426.0,199.8 427.8,198.2 429.4,196.4 430.9,194.5 432.2,192.5 433.3,190.4 434.3,188.2 435.1,185.9 435.6,183.6 436.0,181.2" fill="#29aef5"/>
<polygon points="435.4,178.8 435.4,176.4 435.1,174.1 434.6,171.8 434.0,169.5 433.1,167.3 432.0,165.2 430.8,163.1 429.3,161.2 427.8,159.4 426.0,157.8 424.1,156.3 422.1,155.0 420.0,153.9 417.8,153.0 415.5,152.2 413.2,151.7 410.8,151.4 408.4,151.3 406.0,151.4 403.6,151.7 401.3,152.2 399.0,153.0 396.8,153.9 394.7,155.0 392.7,156.3 390.8,157.8 389.0,159.4 387.5,161.2 386.0,163.1 384.8,165.2 383.7,167.3 382.8,169.5 382.2,171.8 381.7,174.1 381.4,176.4 381.4,178.8 381.5,181.2 381.9,183.5 382.4,185.8 383.2,188.0 384.1,190.1 385.2,192.2 386.5,194.1 387.9,196.0 389.5,197.7 391.3,199.2 393.1,200.6 395.1,201.8 397.2,202.9 399.3,203.8 401.5,204.5 403.8,204.9 406.1,205.2 408.4,205.3 410.7,205.2 413.0,204.9 415.3,204.5 417.5,203.8 419.6,202.9 421.7,201.8 423.7,200.6 425.5,199.2 427.3,197.7 428.9,196.0 430.3,194.1 431.6,192.2 432.7,190.1 433.6,188.0 434.4,185.8 434.9,183.5 435.3,181.2" fill="#29aaf5"/>
<polygon points="434.7,178.8 434.7,176.5 434.4,174.2 433.9,172.0 433.3,169.7 432.4,167.6 431.4,165.5 430.2,163.5 428.8,161.7 427.3,159.9 425.6,158.4 423.7,156.9 421.8,155.6 419.7,154.5 417.6,153.6 415.3,152.9 413.1,152.4 410.7,152.1 408.4,152.0 406.1,152.1 403.7,152.4 401.5,152.9 399.2,153.6 397.1,154.5 395.0,155.6 393.1,156.9 391.2,158.4 389.5,159.9 388.0,161.7 386.6,163.5 385.4,165.5 384.4,167.6 383.5,169.7 382.9,172.0 382.4,174.2 382.1,176.5 382.1,178.8 382.2,181.1 382.6,183.4 383.1,185.6 383.8,187.7 384.7,189.8 385.8,191.8 387.1,193.7 388.5,195.5 390.0,197.2 391.7,198.7 393.5,200.1 395.4,201.3 397.4,202.3 399.5,203.1 401.7,203.8 403.9,204.3 406.1,204.6 408.4,204.7 410.7,204.6 412.9,204.3 415.1,203.8 417.3,203.1 419.4,202.3 421.4,201.3 423.3,200.1 425.1,198.7 426.8,197.2 428.3,195.5 429.7,193.7 431.0,191.8 432.1,189.8 433.0,187.7 433.7,185.6 434.2,183.4 434.6,181.1" fill="#29a6f5"/>
<polygon points="434.0,178.8 434.0,176.6 433.7,174.3 433.3,172.1 432.6,170.0 431.8,167.9 430.8,165.9 429.6,163.9 428.3,162.1 426.8,160.4 425.1,158.9 423.3,157.5 421.4,156.3 419.4,155.2 417.3,154.3 415.1,153.6 412.9,153.1 410.7,152.8 408.4,152.7 406.1,152.8 403.9,153.1 401.7,153.6 399.5,154.3 397.4,155.2 395.4,156.3 393.5,157.5 391.7,158.9 390.0,160.4 388.5,162.1 387.2,163.9 386.0,165.9 385.0,167.9 384.2,170.0 383.5,172.1 383.1,174.3 382.8,176.6 382.8,178.8 382.9,181.0 383.2,183.2 383.7,185.4 384.4,187.5 385.3,189.6 386.4,191.5 387.6,193.4 389.0,195.1 390.5,196.7 392.1,198.2 393.9,199.5 395.8,200.7 397.7,201.7 399.8,202.5 401.9,203.2 404.0,203.6 406.2,203.9 408.4,204.0 410.6,203.9 412.8,203.6 414.9,203.2 417.0,202.5 419.1,201.7 421.0,200.7 422.9,199.5 424.7,198.2 426.3,196.7 427.8,195.1 429.2,193.4 430.4,191.5 431.5,189.6 432.4,187.5 433.1,185.4 433.6,183.2 433.9,181.0" fill="#29a2f5"/>
<polygon points="433.4,178.8 433.3,176.6 433.1,174.5 432.6,172.3 432.0,170.2 431.2,168.2 430.2,166.2 429.1,164.3 427.7,162.6 426.3,160.9 424.7,159.4 422.9,158.1 421.1,156.8 419.1,155.8 417.1,155.0 415.0,154.3 412.8,153.8 410.6,153.5 408.4,153.4 406.2,153.5 404.0,153.8 401.8,154.3 399.7,155.0 397.7,155.8 395.7,156.8 393.9,158.1 392.1,159.4 390.5,160.9 389.1,162.6 387.7,164.3 386.6,166.2 385.6,168.2 384.8,170.2 384.2,172.3 383.7,174.5 383.5,176.6 383.4,178.8 383.6,181.0 383.9,183.1 384.4,185.2 385.1,187.3 385.9,189.3 387.0,191.2 388.1,193.0 389.5,194.7 390.9,196.3 392.5,197.7 394.3,199.0 396.1,200.1 398.0,201.1 400.0,201.9 402.0,202.5 404.1,203.0 406.3,203.3 408.4,203.4 410.5,203.3 412.7,203.0 414.8,202.5 416.8,201.9 418.8,201.1 420.7,200.1 422.5,199.0 424.3,197.7 425.9,196.3 427.3,194.7 428.7,193.0 429.8,191.2 430.9,189.3 431.7,187.3 432.4,185.2 432.9,183.1 433.2,181.0" fill="#289ef5"/>
<polygon points="432.7,178.8 432.7,176.7 432.4,174.6 432.0,172.5 431.4,170.4 430.6,168.4 429.6,166.5 428.5,164.7 427.2,163.0 425.8,161.4 424.2,159.9 422.5,158.6 420.7,157.4 418.8,156.4 416.9,155.6 414.8,154.9 412.7,154.4 410.6,154.2 408.4,154.1 406.2,154.2 404.1,154.4 402.0,154.9 399.9,155.6 398.0,156.4 396.1,157.4 394.3,158.6 392.6,159.9 391.0,161.4 389.6,163.0 388.3,164.7 387.2,166.5 386.2,168.4 385.4,170.4 384.8,172.5 384.4,174.6 384.1,176.7 384.1,178.8 384.2,180.9 384.5,183.0 385.0,185.1 385.7,187.1 386.5,189.0 387.5,190.9 388.7,192.6 390.0,194.3 391.4,195.8 393.0,197.2 394.6,198.5 396.4,199.6 398.3,200.5 400.2,201.3 402.2,201.9 404.2,202.4 406.3,202.6 408.4,202.7 410.5,202.6 412.6,202.4 414.6,201.9 416.6,201.3 418.5,200.5 420.4,199.6 422.2,198.5 423.8,197.2 425.4,195.8 426.8,194.3 428.1,192.6 429.3,190.9 430.3,189.0 431.1,187.1 431.8,185.1 432.3,183.0 432.6,180.9" fill="#289af5"/>
<polygon points="432.1,178.8 432.0,176.7 431.8,174.7 431.4,172.6 430.8,170.7 430.0,168.7 429.1,166.9 428.0,165.1 426.7,163.4 425.3,161.9 423.8,160.4 422.2,159.1 420.4,158.0 418.6,157.0 416.6,156.2 414.6,155.6 412.6,155.1 410.5,154.8 408.4,154.7 406.3,154.8 404.2,155.1 402.2,155.6 400.2,156.2 398.2,157.0 396.4,158.0 394.6,159.1 393.0,160.4 391.5,161.9 390.1,163.4 388.8,165.1 387.7,166.9 386.8,168.7 386.0,170.7 385.4,172.6 385.0,174.7 384.8,176.7 384.7,178.8 384.8,180.9 385.1,182.9 385.6,184.9 386.3,186.9 387.1,188.7 388.0,190.6 389.2,192.3 390.4,193.9 391.8,195.4 393.4,196.7 395.0,198.0 396.7,199.0 398.5,200.0 400.4,200.7 402.4,201.3 404.3,201.8 406.4,202.0 408.4,202.1 410.4,202.0 412.5,201.8 414.4,201.3 416.4,200.7 418.3,200.0 420.1,199.0 421.8,198.0 423.4,196.7 425.0,195.4 426.4,193.9 427.6,192.3 428.8,190.6 429.7,188.7 430.5,186.9 431.2,184.9 431.7,182.9 432.0,180.9" fill="#2896f5"/>
<polygon points="431.5,178.8 431.4,176.8 431.2,174.8 430.8,172.8 430.2,170.9 429.5,169.0 428.5,167.2 427.5,165.4 426.3,163.8 424.9,162.3 423.4,160.9 421.8,159.6 420.1,158.5 418.3,157.6 416.4,156.8 414.5,156.2 412.5,155.7 410.4,155.4 408.4,155.4 406.4,155.4 404.3,155.7 402.3,156.2 400.4,156.8 398.5,157.6 396.7,158.5 395.0,159.6 393.4,160.9 391.9,162.3 390.5,163.8 389.3,165.4 388.3,167.2 387.3,169.0 386.6,170.9 386.0,172.8 385.6,174.8 385.4,176.8 385.3,178.8 385.4,180.8 385.7,182.8 386.2,184.7 386.8,186.7 387.6,188.5 388.6,190.3 389.7,191.9 390.9,193.5 392.3,194.9 393.7,196.3 395.3,197.5 397.0,198.5 398.8,199.4 400.6,200.2 402.5,200.8 404.5,201.2 406.4,201.4 408.4,201.5 410.4,201.4 412.3,201.2 414.3,200.8 416.2,200.2 418.0,199.4 419.8,198.5 421.5,197.5 423.1,196.3 424.5,194.9 425.9,193.5 427.1,191.9 428.2,190.3 429.2,188.5 430.0,186.7 430.6,184.7 431.1,182.8 431.4,180.8" fill="#2892f5"/>
<polygon points="430.9,178.8 430.8,176.8 430.6,174.9 430.2,173.0 429.6,171.1 428.9,169.2 428.0,167.5 427.0,165.8 425.8,164.2 424.5,162.7 423.0,161.4 421.5,160.2 419.8,159.1 418.0,158.1 416.2,157.4 414.3,156.8 412.4,156.3 410.4,156.1 408.4,156.0 406.4,156.1 404.4,156.3 402.5,156.8 400.6,157.4 398.8,158.1 397.0,159.1 395.3,160.2 393.8,161.4 392.3,162.7 391.0,164.2 389.8,165.8 388.8,167.5 387.9,169.2 387.2,171.1 386.6,173.0 386.2,174.9 386.0,176.8 385.9,178.8 386.0,180.8 386.3,182.7 386.8,184.6 387.4,186.4 388.2,188.2 389.1,190.0 390.1,191.6 391.3,193.1 392.7,194.5 394.1,195.8 395.7,197.0 397.3,198.0 399.0,198.9 400.8,199.6 402.7,200.2 404.6,200.6 406.5,200.9 408.4,200.9 410.3,200.9 412.2,200.6 414.1,200.2 416.0,199.6 417.8,198.9 419.5,198.0 421.1,197.0 422.7,195.8 424.1,194.5 425.5,193.1 426.7,191.6 427.7,190.0 428.6,188.2 429.4,186.4 430.0,184.6 430.5,182.7 430.8,180.8" fill="#288ff4"/>
<polygon points="430.3,178.8 430.2,176.9 430.0,175.0 429.6,173.1 429.1,171.3 428.4,169.5 427.5,167.8 426.5,166.1 425.3,164.6 424.0,163.2 422.6,161.8 421.1,160.6 419.5,159.6 417.8,158.7 416.0,157.9 414.1,157.3 412.3,156.9 410.3,156.7 408.4,156.6 406.5,156.7 404.5,156.9 402.7,157.3 400.8,157.9 399.0,158.7 397.3,159.6 395.7,160.6 394.2,161.8 392.8,163.2 391.5,164.6 390.3,166.1 389.3,167.8 388.4,169.5 387.7,171.3 387.2,173.1 386.8,175.0 386.6,176.9 386.5,178.8 386.6,180.7 386.9,182.6 387.3,184.4 387.9,186.3 388.7,188.0 389.6,189.7 390.6,191.3 391.8,192.7 393.1,194.1 394.5,195.4 396.0,196.5 397.6,197.5 399.3,198.4 401.0,199.1 402.8,199.7 404.7,200.1 406.5,200.3 408.4,200.4 410.3,200.3 412.1,200.1 414.0,199.7 415.8,199.1 417.5,198.4 419.2,197.5 420.8,196.5 422.3,195.4 423.7,194.1 425.0,192.7 426.2,191.3 427.2,189.7 428.1,188.0 428.9,186.3 429.5,184.4 429.9,182.6 430.2,180.7" fill="#288bf4"/>
<polygon points="429.7,178.8 429.7,176.9 429.5,175.1 429.1,173.3 428.5,171.5 427.8,169.7 427.0,168.1 426.0,166.5 424.9,165.0 423.6,163.6 422.3,162.3 420.8,161.1 419.2,160.1 417.5,159.2 415.8,158.5 414.0,157.9 412.2,157.5 410.3,157.2 408.4,157.2 406.5,157.2 404.6,157.5 402.8,157.9 401.0,158.5 399.3,159.2 397.6,160.1 396.0,161.1 394.5,162.3 393.2,163.6 391.9,165.0 390.8,166.5 389.8,168.1 389.0,169.7 388.3,171.5 387.7,173.3 387.3,175.1 387.1,176.9 387.1,178.8 387.2,180.7 387.4,182.5 387.9,184.3 388.5,186.1 389.2,187.8 390.1,189.4 391.1,190.9 392.2,192.4 393.5,193.7 394.8,195.0 396.3,196.1 397.9,197.0 399.5,197.9 401.2,198.6 403.0,199.1 404.7,199.5 406.6,199.7 408.4,199.8 410.2,199.7 412.1,199.5 413.8,199.1 415.6,198.6 417.3,197.9 418.9,197.0 420.5,196.1 422.0,195.0 423.3,193.7 424.6,192.4 425.7,190.9 426.7,189.4 427.6,187.8 428.3,186.1 428.9,184.3 429.4,182.5 429.6,180.7" fill="#2887f4"/>
<polygon points="429.2,178.8 429.1,177.0 428.9,175.2 428.5,173.4 428.0,171.7 427.3,170.0 426.5,168.3 425.6,166.8 424.5,165.3 423.2,164.0 421.9,162.7 420.5,161.6 418.9,160.6 417.3,159.7 415.6,159.0 413.9,158.5 412.1,158.1 410.2,157.8 408.4,157.7 406.6,157.8 404.7,158.1 402.9,158.5 401.2,159.0 399.5,159.7 397.9,160.6 396.3,161.6 394.9,162.7 393.6,164.0 392.3,165.3 391.2,166.8 390.3,168.3 389.5,170.0 388.8,171.7 388.3,173.4 387.9,175.2 387.7,177.0 387.6,178.8 387.7,180.6 388.0,182.4 388.4,184.2 389.0,185.9 389.7,187.5 390.5,189.1 391.5,190.6 392.6,192.0 393.9,193.3 395.2,194.5 396.6,195.6 398.1,196.6 399.7,197.4 401.4,198.1 403.1,198.6 404.8,199.0 406.6,199.2 408.4,199.3 410.2,199.2 412.0,199.0 413.7,198.6 415.4,198.1 417.1,197.4 418.7,196.6 420.2,195.6 421.6,194.5 422.9,193.3 424.2,192.0 425.3,190.6 426.3,189.1 427.1,187.5 427.8,185.9 428.4,184.2 428.8,182.4 429.1,180.6" fill="#2884f3"/>
<polygon points="428.6,178.8 428.6,177.0 428.4,175.3 428.0,173.5 427.5,171.8 426.8,170.2 426.0,168.6 425.1,167.1 424.0,165.7 422.8,164.4 421.5,163.1 420.1,162.0 418.6,161.1 417.1,160.2 415.4,159.5 413.7,159.0 412.0,158.6 410.2,158.4 408.4,158.3 406.6,158.4 404.8,158.6 403.1,159.0 401.4,159.5 399.7,160.2 398.2,161.1 396.7,162.0 395.3,163.1 394.0,164.4 392.8,165.7 391.7,167.1 390.8,168.6 390.0,170.2 389.3,171.8 388.8,173.5 388.4,175.3 388.2,177.0 388.2,178.8 388.3,180.6 388.5,182.3 388.9,184.0 389.5,185.7 390.2,187.3 391.0,188.8 392.0,190.3 393.0,191.7 394.2,193.0 395.5,194.1 396.9,195.2 398.4,196.1 400.0,196.9 401.6,197.6 403.2,198.1 404.9,198.5 406.7,198.7 408.4,198.8 410.1,198.7 411.9,198.5 413.6,198.1 415.2,197.6 416.8,196.9 418.4,196.1 419.9,195.2 421.3,194.1 422.6,193.0 423.8,191.7 424.8,190.3 425.8,188.8 426.6,187.3 427.3,185.7 427.9,184.0 428.3,182.3 428.5,180.6" fill="#2880f3"/>
<polygon points="428.1,178.8 428.1,177.1 427.9,175.4 427.5,173.7 427.0,172.0 426.4,170.4 425.6,168.9 424.7,167.4 423.6,166.0 422.5,164.7 421.2,163.5 419.8,162.5 418.4,161.5 416.8,160.7 415.2,160.0 413.6,159.5 411.9,159.1 410.1,158.9 408.4,158.8 406.7,158.9 404.9,159.1 403.2,159.5 401.6,160.0 400.0,160.7 398.4,161.5 397.0,162.5 395.6,163.5 394.3,164.7 393.2,166.0 392.1,167.4 391.2,168.9 390.4,170.4 389.8,172.0 389.3,173.7 388.9,175.4 388.7,177.1 388.7,178.8 388.8,180.5 389.0,182.2 389.4,183.9 390.0,185.5 390.6,187.1 391.4,188.6 392.4,190.0 393.4,191.4 394.6,192.6 395.9,193.7 397.2,194.8 398.7,195.7 400.2,196.4 401.7,197.1 403.4,197.6 405.0,198.0 406.7,198.2 408.4,198.2 410.1,198.2 411.8,198.0 413.4,197.6 415.1,197.1 416.6,196.4 418.1,195.7 419.6,194.8 420.9,193.7 422.2,192.6 423.4,191.4 424.4,190.0 425.4,188.6 426.2,187.1 426.8,185.5 427.4,183.9 427.8,182.2 428.0,180.5" fill="#287cf2"/>
<polygon points="427.6,178.8 427.5,177.1 427.3,175.5 427.0,173.8 426.5,172.2 425.9,170.6 425.1,169.1 424.2,167.7 423.2,166.4 422.1,165.1 420.9,163.9 419.5,162.9 418.1,162.0 416.6,161.2 415.0,160.5 413.4,160.0 411.8,159.7 410.1,159.4 408.4,159.4 406.7,159.4 405.0,159.7 403.4,160.0 401.8,160.5 400.2,161.2 398.7,162.0 397.3,162.9 395.9,163.9 394.7,165.1 393.6,166.4 392.6,167.7 391.7,169.1 390.9,170.6 390.3,172.2 389.8,173.8 389.5,175.5 389.3,177.1 389.2,178.8 389.3,180.5 389.5,182.1 389.9,183.8 390.4,185.3 391.1,186.9 391.9,188.3 392.8,189.7 393.8,191.0 395.0,192.2 396.2,193.4 397.5,194.4 398.9,195.2 400.4,196.0 401.9,196.6 403.5,197.1 405.1,197.5 406.7,197.7 408.4,197.8 410.1,197.7 411.7,197.5 413.3,197.1 414.9,196.6 416.4,196.0 417.9,195.2 419.3,194.4 420.6,193.4 421.8,192.2 423.0,191.0 424.0,189.7 424.9,188.3 425.7,186.9 426.4,185.3 426.9,183.8 427.3,182.1 427.5,180.5" fill="#2879f2"/>
<polygon points="427.1,178.8 427.0,177.2 426.9,175.5 426.5,173.9 426.0,172.4 425.4,170.9 424.7,169.4 423.8,168.0 422.8,166.7 421.7,165.5 420.5,164.3 419.2,163.3 417.9,162.4 416.4,161.7 414.9,161.0 413.3,160.5 411.7,160.2 410.1,159.9 408.4,159.9 406.7,159.9 405.1,160.2 403.5,160.5 401.9,161.0 400.4,161.7 398.9,162.4 397.6,163.3 396.3,164.3 395.1,165.5 394.0,166.7 393.0,168.0 392.1,169.4 391.4,170.9 390.8,172.4 390.3,173.9 389.9,175.5 389.8,177.2 389.7,178.8 389.8,180.4 390.0,182.0 390.4,183.6 390.9,185.2 391.5,186.7 392.3,188.1 393.2,189.4 394.2,190.7 395.3,191.9 396.5,193.0 397.8,194.0 399.2,194.8 400.6,195.6 402.1,196.2 403.6,196.6 405.2,197.0 406.8,197.2 408.4,197.3 410.0,197.2 411.6,197.0 413.2,196.6 414.7,196.2 416.2,195.6 417.6,194.8 419.0,194.0 420.3,193.0 421.5,191.9 422.6,190.7 423.6,189.4 424.5,188.1 425.3,186.7 425.9,185.2 426.4,183.6 426.8,182.0 427.0,180.4" fill="#2876f2"/>
<polygon points="426.6,178.8 426.6,177.2 426.4,175.6 426.0,174.1 425.6,172.5 425.0,171.1 424.3,169.6 423.4,168.3 422.5,167.0 421.4,165.8 420.2,164.7 419.0,163.7 417.6,162.9 416.2,162.1 414.7,161.5 413.2,161.0 411.6,160.6 410.0,160.4 408.4,160.4 406.8,160.4 405.2,160.6 403.6,161.0 402.1,161.5 400.6,162.1 399.2,162.9 397.8,163.7 396.6,164.7 395.4,165.8 394.3,167.0 393.4,168.3 392.5,169.6 391.8,171.1 391.2,172.5 390.8,174.1 390.4,175.6 390.2,177.2 390.2,178.8 390.3,180.4 390.5,182.0 390.9,183.5 391.4,185.0 392.0,186.5 392.7,187.8 393.6,189.2 394.6,190.4 395.6,191.6 396.8,192.6 398.1,193.6 399.4,194.4 400.8,195.1 402.2,195.7 403.7,196.2 405.3,196.5 406.8,196.7 408.4,196.8 410.0,196.7 411.5,196.5 413.1,196.2 414.6,195.7 416.0,195.1 417.4,194.4 418.7,193.6 420.0,192.6 421.2,191.6 422.2,190.4 423.2,189.2 424.1,187.8 424.8,186.5 425.4,185.0 425.9,183.5 426.3,182.0 426.5,180.4" fill="#2973f2"/>
<polygon points="426.1,178.8 426.1,177.3 425.9,175.7 425.6,174.2 425.1,172.7 424.6,171.3 423.9,169.9 423.0,168.6 422.1,167.3 421.0,166.2 419.9,165.1 418.7,164.1 417.4,163.3 416.0,162.5 414.5,161.9 413.0,161.5 411.5,161.1 410.0,160.9 408.4,160.8 406.8,160.9 405.3,161.1 403.8,161.5 402.3,161.9 400.8,162.5 399.4,163.3 398.1,164.1 396.9,165.1 395.8,166.2 394.7,167.3 393.8,168.6 392.9,169.9 392.2,171.3 391.7,172.7 391.2,174.2 390.9,175.7 390.7,177.3 390.7,178.8 390.8,180.3 391.0,181.9 391.3,183.4 391.8,184.8 392.4,186.3 393.1,187.6 394.0,188.9 394.9,190.1 396.0,191.2 397.1,192.3 398.3,193.2 399.6,194.0 401.0,194.7 402.4,195.3 403.9,195.7 405.4,196.1 406.9,196.3 408.4,196.3 409.9,196.3 411.4,196.1 412.9,195.7 414.4,195.3 415.8,194.7 417.2,194.0 418.5,193.2 419.7,192.3 420.8,191.2 421.9,190.1 422.8,188.9 423.7,187.6 424.4,186.3 425.0,184.8 425.5,183.4 425.8,181.9 426.0,180.3" fill="#2a70f1"/>
<polygon points="425.7,178.8 425.6,177.3 425.5,175.8 425.1,174.3 424.7,172.9 424.1,171.5 423.5,170.1 422.6,168.8 421.7,167.6 420.7,166.5 419.6,165.4 418.4,164.5 417.1,163.7 415.8,163.0 414.4,162.4 412.9,161.9 411.4,161.6 409.9,161.4 408.4,161.3 406.9,161.4 405.4,161.6 403.9,161.9 402.4,162.4 401.0,163.0 399.7,163.7 398.4,164.5 397.2,165.4 396.1,166.5 395.1,167.6 394.2,168.8 393.3,170.1 392.7,171.5 392.1,172.9 391.7,174.3 391.3,175.8 391.2,177.3 391.1,178.8 391.2,180.3 391.4,181.8 391.7,183.3 392.2,184.7 392.8,186.1 393.5,187.4 394.3,188.7 395.2,189.9 396.3,190.9 397.4,192.0 398.6,192.9 399.8,193.7 401.2,194.3 402.5,194.9 404.0,195.4 405.4,195.7 406.9,195.9 408.4,195.9 409.9,195.9 411.4,195.7 412.8,195.4 414.3,194.9 415.6,194.3 417.0,193.7 418.2,192.9 419.4,192.0 420.5,190.9 421.6,189.9 422.5,188.7 423.3,187.4 424.0,186.1 424.6,184.7 425.1,183.3 425.4,181.8 425.6,180.3" fill="#2a6df1"/>
<polygon points="425.3,178.8 425.3,177.3 425.1,175.9 424.8,174.4 424.4,173.0 423.8,171.6 423.1,170.3 422.3,169.0 421.4,167.9 420.5,166.7 419.4,165.7 418.2,164.8 416.9,164.0 415.6,163.3 414.2,162.7 412.8,162.3 411.4,162.0 409.9,161.8 408.4,161.7 406.9,161.8 405.4,162.0 404.0,162.3 402.6,162.7 401.2,163.3 399.9,164.0 398.6,164.8 397.4,165.7 396.3,166.7 395.4,167.9 394.5,169.0 393.7,170.3 393.0,171.6 392.4,173.0 392.0,174.4 391.7,175.9 391.5,177.3 391.5,178.8 391.5,180.3 391.8,181.7 392.1,183.2 392.5,184.6 393.1,185.9 393.8,187.2 394.6,188.5 395.5,189.6 396.5,190.7 397.6,191.7 398.8,192.6 400.0,193.3 401.3,194.0 402.7,194.6 404.1,195.0 405.5,195.3 406.9,195.5 408.4,195.6 409.9,195.5 411.3,195.3 412.7,195.0 414.1,194.6 415.5,194.0 416.8,193.3 418.0,192.6 419.2,191.7 420.3,190.7 421.3,189.6 422.2,188.5 423.0,187.2 423.7,185.9 424.3,184.6 424.7,183.2 425.0,181.7 425.3,180.3" fill="#2b6af1"/>
<polygon points="425.0,178.8 424.9,177.4 424.8,175.9 424.4,174.5 424.0,173.1 423.5,171.8 422.8,170.5 422.0,169.2 421.2,168.1 420.2,167.0 419.1,166.0 418.0,165.1 416.8,164.3 415.5,163.7 414.1,163.1 412.7,162.6 411.3,162.3 409.9,162.1 408.4,162.1 406.9,162.1 405.5,162.3 404.1,162.6 402.7,163.1 401.3,163.7 400.0,164.3 398.8,165.1 397.7,166.0 396.6,167.0 395.6,168.1 394.8,169.2 394.0,170.5 393.3,171.8 392.8,173.1 392.4,174.5 392.0,175.9 391.9,177.4 391.8,178.8 391.9,180.2 392.1,181.7 392.4,183.1 392.9,184.5 393.4,185.8 394.1,187.1 394.9,188.3 395.8,189.4 396.8,190.4 397.8,191.4 399.0,192.3 400.2,193.0 401.5,193.7 402.8,194.2 404.1,194.7 405.5,195.0 407.0,195.2 408.4,195.2 409.8,195.2 411.3,195.0 412.7,194.7 414.0,194.2 415.3,193.7 416.6,193.0 417.8,192.3 419.0,191.4 420.0,190.4 421.0,189.4 421.9,188.3 422.7,187.1 423.4,185.8 423.9,184.5 424.4,183.1 424.7,181.7 424.9,180.2" fill="#2b67f1"/>
<polygon points="424.6,178.8 424.6,177.4 424.4,176.0 424.1,174.6 423.7,173.2 423.2,171.9 422.5,170.7 421.8,169.4 420.9,168.3 419.9,167.3 418.9,166.3 417.8,165.4 416.6,164.6 415.3,164.0 414.0,163.4 412.6,163.0 411.2,162.7 409.8,162.5 408.4,162.4 407.0,162.5 405.6,162.7 404.2,163.0 402.8,163.4 401.5,164.0 400.2,164.6 399.0,165.4 397.9,166.3 396.9,167.3 395.9,168.3 395.0,169.4 394.3,170.7 393.6,171.9 393.1,173.2 392.7,174.6 392.4,176.0 392.2,177.4 392.2,178.8 392.2,180.2 392.4,181.6 392.8,183.0 393.2,184.3 393.7,185.6 394.4,186.9 395.2,188.1 396.0,189.2 397.0,190.2 398.0,191.1 399.2,192.0 400.3,192.7 401.6,193.4 402.9,193.9 404.2,194.3 405.6,194.6 407.0,194.8 408.4,194.9 409.8,194.8 411.2,194.6 412.6,194.3 413.9,193.9 415.2,193.4 416.5,192.7 417.6,192.0 418.8,191.1 419.8,190.2 420.8,189.2 421.6,188.1 422.4,186.9 423.1,185.6 423.6,184.3 424.0,183.0 424.4,181.6 424.6,180.2" fill="#2c64f0"/>
<polygon points="424.3,178.8 424.2,177.4 424.1,176.0 423.8,174.7 423.4,173.4 422.9,172.1 422.2,170.8 421.5,169.6 420.6,168.5 419.7,167.5 418.7,166.5 417.6,165.7 416.4,164.9 415.2,164.3 413.9,163.7 412.5,163.3 411.2,163.0 409.8,162.8 408.4,162.8 407.0,162.8 405.6,163.0 404.3,163.3 402.9,163.7 401.6,164.3 400.4,164.9 399.2,165.7 398.1,166.5 397.1,167.5 396.2,168.5 395.3,169.6 394.6,170.8 393.9,172.1 393.4,173.4 393.0,174.7 392.7,176.0 392.6,177.4 392.5,178.8 392.6,180.2 392.8,181.6 393.1,182.9 393.5,184.2 394.1,185.5 394.7,186.7 395.5,187.9 396.3,189.0 397.2,190.0 398.3,190.9 399.4,191.7 400.5,192.5 401.7,193.1 403.0,193.6 404.3,194.0 405.7,194.3 407.0,194.5 408.4,194.6 409.8,194.5 411.1,194.3 412.5,194.0 413.8,193.6 415.1,193.1 416.3,192.5 417.4,191.7 418.5,190.9 419.6,190.0 420.5,189.0 421.3,187.9 422.1,186.7 422.7,185.5 423.3,184.2 423.7,182.9 424.0,181.6 424.2,180.2" fill="#2d61f0"/>
<polygon points="424.0,178.8 423.9,177.4 423.7,176.1 423.5,174.8 423.1,173.5 422.5,172.2 421.9,171.0 421.2,169.8 420.4,168.7 419.5,167.7 418.5,166.8 417.4,166.0 416.2,165.2 415.0,164.6 413.8,164.1 412.5,163.7 411.1,163.4 409.8,163.2 408.4,163.1 407.0,163.2 405.7,163.4 404.3,163.7 403.0,164.1 401.8,164.6 400.6,165.2 399.4,166.0 398.3,166.8 397.3,167.7 396.4,168.7 395.6,169.8 394.9,171.0 394.3,172.2 393.7,173.5 393.3,174.8 393.1,176.1 392.9,177.4 392.8,178.8 392.9,180.2 393.1,181.5 393.4,182.8 393.8,184.1 394.4,185.3 395.0,186.5 395.7,187.7 396.6,188.7 397.5,189.7 398.5,190.6 399.5,191.5 400.7,192.2 401.9,192.8 403.1,193.3 404.4,193.7 405.7,194.0 407.1,194.2 408.4,194.2 409.7,194.2 411.1,194.0 412.4,193.7 413.7,193.3 414.9,192.8 416.1,192.2 417.3,191.5 418.3,190.6 419.3,189.7 420.2,188.7 421.1,187.7 421.8,186.5 422.4,185.3 423.0,184.1 423.4,182.8 423.7,181.5 423.9,180.2" fill="#2d5df0"/>
<polygon points="423.6,178.8 423.6,177.5 423.4,176.2 423.1,174.9 422.7,173.6 422.2,172.3 421.6,171.2 420.9,170.0 420.1,169.0 419.2,168.0 418.2,167.1 417.2,166.2 416.1,165.5 414.9,164.9 413.6,164.4 412.4,164.0 411.1,163.7 409.7,163.5 408.4,163.4 407.1,163.5 405.7,163.7 404.4,164.0 403.2,164.4 401.9,164.9 400.7,165.5 399.6,166.2 398.6,167.1 397.6,168.0 396.7,169.0 395.9,170.0 395.2,171.2 394.6,172.3 394.1,173.6 393.7,174.9 393.4,176.2 393.2,177.5 393.2,178.8 393.2,180.1 393.4,181.4 393.7,182.7 394.1,184.0 394.7,185.2 395.3,186.4 396.0,187.5 396.8,188.5 397.7,189.5 398.7,190.4 399.7,191.2 400.8,191.9 402.0,192.5 403.2,193.0 404.5,193.4 405.8,193.7 407.1,193.8 408.4,193.9 409.7,193.8 411.0,193.7 412.3,193.4 413.6,193.0 414.8,192.5 416.0,191.9 417.1,191.2 418.1,190.4 419.1,189.5 420.0,188.5 420.8,187.5 421.5,186.4 422.1,185.2 422.7,184.0 423.1,182.7 423.4,181.4 423.6,180.1" fill="#2e5aef"/>
<polygon points="423.3,178.8 423.3,177.5 423.1,176.2 422.8,174.9 422.4,173.7 422.0,172.5 421.4,171.3 420.7,170.2 419.9,169.2 419.0,168.2 418.0,167.3 417.0,166.5 415.9,165.8 414.7,165.2 413.5,164.7 412.3,164.3 411.0,164.0 409.7,163.8 408.4,163.8 407.1,163.8 405.8,164.0 404.5,164.3 403.3,164.7 402.1,165.2 400.9,165.8 399.8,166.5 398.8,167.3 397.8,168.2 396.9,169.2 396.1,170.2 395.4,171.3 394.8,172.5 394.4,173.7 394.0,174.9 393.7,176.2 393.5,177.5 393.5,178.8 393.6,180.1 393.7,181.4 394.0,182.6 394.4,183.9 394.9,185.1 395.5,186.2 396.2,187.3 397.0,188.3 397.9,189.3 398.9,190.1 399.9,190.9 401.0,191.6 402.1,192.2 403.3,192.7 404.6,193.1 405.8,193.4 407.1,193.5 408.4,193.6 409.7,193.5 411.0,193.4 412.2,193.1 413.5,192.7 414.7,192.2 415.8,191.6 416.9,190.9 417.9,190.1 418.9,189.3 419.8,188.3 420.6,187.3 421.3,186.2 421.9,185.1 422.4,183.9 422.8,182.6 423.1,181.4 423.2,180.1" fill="#2f57ef"/>
<polygon points="423.0,178.8 422.9,177.5 422.8,176.3 422.5,175.0 422.1,173.8 421.7,172.6 421.1,171.5 420.4,170.4 419.6,169.4 418.8,168.4 417.8,167.6 416.8,166.8 415.7,166.1 414.6,165.5 413.4,165.0 412.2,164.6 411.0,164.3 409.7,164.1 408.4,164.1 407.1,164.1 405.8,164.3 404.6,164.6 403.4,165.0 402.2,165.5 401.1,166.1 400.0,166.8 399.0,167.6 398.0,168.4 397.2,169.4 396.4,170.4 395.7,171.5 395.1,172.6 394.7,173.8 394.3,175.0 394.0,176.3 393.9,177.5 393.8,178.8 393.9,180.1 394.1,181.3 394.3,182.6 394.7,183.8 395.2,184.9 395.8,186.1 396.5,187.1 397.3,188.1 398.1,189.1 399.1,189.9 400.1,190.7 401.2,191.3 402.3,191.9 403.4,192.4 404.7,192.8 405.9,193.1 407.1,193.2 408.4,193.3 409.7,193.2 410.9,193.1 412.1,192.8 413.4,192.4 414.5,191.9 415.6,191.3 416.7,190.7 417.7,189.9 418.7,189.1 419.5,188.1 420.3,187.1 421.0,186.1 421.6,184.9 422.1,183.8 422.5,182.6 422.7,181.3 422.9,180.1" fill="#2f54ee"/>
<polygon points="422.7,178.8 422.6,177.6 422.5,176.3 422.2,175.1 421.9,173.9 421.4,172.7 420.8,171.6 420.2,170.6 419.4,169.6 418.6,168.6 417.6,167.8 416.6,167.0 415.6,166.3 414.5,165.8 413.3,165.3 412.1,164.9 410.9,164.6 409.7,164.5 408.4,164.4 407.1,164.5 405.9,164.6 404.7,164.9 403.5,165.3 402.3,165.8 401.2,166.3 400.2,167.0 399.2,167.8 398.2,168.6 397.4,169.6 396.6,170.6 396.0,171.6 395.4,172.7 394.9,173.9 394.6,175.1 394.3,176.3 394.2,177.6 394.1,178.8 394.2,180.0 394.4,181.3 394.6,182.5 395.0,183.7 395.5,184.8 396.1,185.9 396.8,187.0 397.5,187.9 398.4,188.8 399.3,189.7 400.3,190.4 401.3,191.1 402.4,191.7 403.6,192.1 404.7,192.5 405.9,192.8 407.2,192.9 408.4,193.0 409.6,192.9 410.9,192.8 412.1,192.5 413.2,192.1 414.4,191.7 415.5,191.1 416.5,190.4 417.5,189.7 418.4,188.8 419.3,187.9 420.0,187.0 420.7,185.9 421.3,184.8 421.8,183.7 422.2,182.5 422.4,181.3 422.6,180.0" fill="#3051ee"/>
<polygon points="422.4,178.8 422.3,177.6 422.2,176.4 421.9,175.2 421.6,174.0 421.1,172.9 420.6,171.8 419.9,170.7 419.2,169.8 418.3,168.9 417.4,168.0 416.5,167.3 415.4,166.6 414.4,166.0 413.2,165.6 412.0,165.2 410.8,164.9 409.6,164.8 408.4,164.7 407.2,164.8 406.0,164.9 404.8,165.2 403.6,165.6 402.4,166.0 401.4,166.6 400.3,167.3 399.4,168.0 398.5,168.9 397.6,169.8 396.9,170.7 396.2,171.8 395.7,172.9 395.2,174.0 394.9,175.2 394.6,176.4 394.5,177.6 394.4,178.8 394.5,180.0 394.6,181.2 394.9,182.4 395.3,183.6 395.8,184.7 396.3,185.8 397.0,186.8 397.7,187.7 398.6,188.6 399.5,189.4 400.4,190.2 401.5,190.8 402.5,191.4 403.7,191.8 404.8,192.2 406.0,192.5 407.2,192.6 408.4,192.7 409.6,192.6 410.8,192.5 412.0,192.2 413.1,191.8 414.3,191.4 415.3,190.8 416.4,190.2 417.3,189.4 418.2,188.6 419.1,187.7 419.8,186.8 420.5,185.8 421.0,184.7 421.5,183.6 421.9,182.4 422.2,181.2 422.3,180.0" fill="#304eed"/>
<polygon points="422.1,178.8 422.0,177.6 421.9,176.4 421.6,175.3 421.3,174.1 420.8,173.0 420.3,171.9 419.7,170.9 418.9,170.0 418.1,169.1 417.2,168.3 416.3,167.5 415.3,166.9 414.2,166.3 413.1,165.8 412.0,165.5 410.8,165.2 409.6,165.1 408.4,165.0 407.2,165.1 406.0,165.2 404.8,165.5 403.7,165.8 402.6,166.3 401.5,166.9 400.5,167.5 399.6,168.3 398.7,169.1 397.9,170.0 397.1,170.9 396.5,171.9 396.0,173.0 395.5,174.1 395.2,175.3 394.9,176.4 394.8,177.6 394.7,178.8 394.8,180.0 394.9,181.2 395.2,182.3 395.6,183.5 396.0,184.6 396.6,185.6 397.2,186.6 398.0,187.6 398.8,188.4 399.7,189.2 400.6,189.9 401.6,190.6 402.7,191.1 403.8,191.6 404.9,191.9 406.0,192.2 407.2,192.3 408.4,192.4 409.6,192.3 410.8,192.2 411.9,191.9 413.0,191.6 414.1,191.1 415.2,190.6 416.2,189.9 417.1,189.2 418.0,188.4 418.8,187.6 419.6,186.6 420.2,185.6 420.8,184.6 421.2,183.5 421.6,182.3 421.9,181.2 422.0,180.0" fill="#314bed"/>
<polygon points="421.8,178.8 421.8,177.6 421.6,176.5 421.4,175.3 421.0,174.2 420.6,173.1 420.0,172.1 419.4,171.1 418.7,170.1 417.9,169.3 417.1,168.5 416.1,167.8 415.1,167.1 414.1,166.6 413.0,166.1 411.9,165.8 410.7,165.5 409.6,165.4 408.4,165.3 407.2,165.4 406.1,165.5 404.9,165.8 403.8,166.1 402.7,166.6 401.7,167.1 400.7,167.8 399.7,168.5 398.9,169.3 398.1,170.1 397.4,171.1 396.8,172.1 396.2,173.1 395.8,174.2 395.4,175.3 395.2,176.5 395.0,177.6 395.0,178.8 395.1,180.0 395.2,181.1 395.5,182.3 395.8,183.4 396.3,184.4 396.8,185.5 397.5,186.5 398.2,187.4 399.0,188.2 399.8,189.0 400.8,189.7 401.7,190.3 402.8,190.9 403.8,191.3 405.0,191.7 406.1,191.9 407.2,192.1 408.4,192.1 409.6,192.1 410.7,191.9 411.8,191.7 413.0,191.3 414.0,190.9 415.1,190.3 416.0,189.7 417.0,189.0 417.8,188.2 418.6,187.4 419.3,186.5 420.0,185.5 420.5,184.4 421.0,183.4 421.3,182.3 421.6,181.1 421.7,180.0" fill="#3248ec"/>
<polygon points="421.5,178.8 421.5,177.7 421.3,176.5 421.1,175.4 420.8,174.3 420.3,173.2 419.8,172.2 419.2,171.2 418.5,170.3 417.7,169.5 416.9,168.7 416.0,168.0 415.0,167.4 414.0,166.8 412.9,166.4 411.8,166.0 410.7,165.8 409.6,165.6 408.4,165.6 407.2,165.6 406.1,165.8 405.0,166.0 403.9,166.4 402.8,166.8 401.8,167.4 400.8,168.0 399.9,168.7 399.1,169.5 398.3,170.3 397.6,171.2 397.0,172.2 396.5,173.2 396.0,174.3 395.7,175.4 395.5,176.5 395.3,177.7 395.3,178.8 395.3,179.9 395.5,181.1 395.8,182.2 396.1,183.3 396.5,184.3 397.1,185.3 397.7,186.3 398.4,187.2 399.2,188.0 400.0,188.8 400.9,189.5 401.9,190.1 402.9,190.6 403.9,191.0 405.0,191.4 406.1,191.6 407.3,191.8 408.4,191.8 409.5,191.8 410.7,191.6 411.8,191.4 412.9,191.0 413.9,190.6 414.9,190.1 415.9,189.5 416.8,188.8 417.6,188.0 418.4,187.2 419.1,186.3 419.7,185.3 420.3,184.3 420.7,183.3 421.0,182.2 421.3,181.1 421.5,179.9" fill="#3246ec"/>
<polygon points="421.2,178.8 421.2,177.7 421.1,176.6 420.8,175.5 420.5,174.4 420.1,173.4 419.6,172.4 419.0,171.4 418.3,170.5 417.5,169.7 416.7,168.9 415.8,168.2 414.9,167.6 413.9,167.1 412.8,166.7 411.7,166.3 410.6,166.1 409.5,165.9 408.4,165.9 407.3,165.9 406.2,166.1 405.1,166.3 404.0,166.7 402.9,167.1 401.9,167.6 401.0,168.2 400.1,168.9 399.3,169.7 398.5,170.5 397.8,171.4 397.2,172.4 396.7,173.4 396.3,174.4 396.0,175.5 395.7,176.6 395.6,177.7 395.6,178.8 395.6,179.9 395.8,181.0 396.0,182.1 396.4,183.2 396.8,184.2 397.3,185.2 397.9,186.1 398.6,187.0 399.4,187.8 400.2,188.6 401.1,189.3 402.0,189.9 403.0,190.4 404.0,190.8 405.1,191.1 406.2,191.4 407.3,191.5 408.4,191.6 409.5,191.5 410.6,191.4 411.7,191.1 412.8,190.8 413.8,190.4 414.8,189.9 415.7,189.3 416.6,188.6 417.4,187.8 418.2,187.0 418.9,186.1 419.5,185.2 420.0,184.2 420.4,183.2 420.8,182.1 421.0,181.0 421.2,179.9" fill="#3244eb"/>
<polygon points="421.0,178.8 420.9,177.7 420.8,176.6 420.6,175.5 420.2,174.5 419.8,173.5 419.3,172.5 418.7,171.6 418.1,170.7 417.3,169.9 416.5,169.1 415.7,168.4 414.7,167.8 413.7,167.3 412.7,166.9 411.7,166.6 410.6,166.3 409.5,166.2 408.4,166.1 407.3,166.2 406.2,166.3 405.1,166.6 404.1,166.9 403.1,167.3 402.1,167.8 401.1,168.4 400.3,169.1 399.5,169.9 398.7,170.7 398.1,171.6 397.5,172.5 397.0,173.5 396.6,174.5 396.2,175.5 396.0,176.6 395.9,177.7 395.8,178.8 395.9,179.9 396.0,181.0 396.3,182.0 396.6,183.1 397.0,184.1 397.5,185.1 398.1,186.0 398.8,186.8 399.6,187.6 400.4,188.4 401.2,189.0 402.2,189.6 403.1,190.1 404.1,190.5 405.2,190.9 406.2,191.1 407.3,191.2 408.4,191.3 409.5,191.2 410.6,191.1 411.6,190.9 412.7,190.5 413.7,190.1 414.6,189.6 415.6,189.0 416.4,188.4 417.2,187.6 418.0,186.8 418.7,186.0 419.3,185.1 419.8,184.1 420.2,183.1 420.5,182.0 420.8,181.0 420.9,179.9" fill="#3242ea"/>
<polygon points="420.7,178.8 420.7,177.7 420.5,176.7 420.3,175.6 420.0,174.6 419.6,173.6 419.1,172.6 418.5,171.7 417.9,170.9 417.1,170.1 416.4,169.3 415.5,168.7 414.6,168.1 413.6,167.6 412.6,167.2 411.6,166.8 410.6,166.6 409.5,166.5 408.4,166.4 407.3,166.5 406.2,166.6 405.2,166.8 404.2,167.2 403.2,167.6 402.2,168.1 401.3,168.7 400.4,169.3 399.7,170.1 398.9,170.9 398.3,171.7 397.7,172.6 397.2,173.6 396.8,174.6 396.5,175.6 396.3,176.7 396.1,177.7 396.1,178.8 396.1,179.9 396.3,180.9 396.5,182.0 396.9,183.0 397.3,184.0 397.8,184.9 398.4,185.8 399.0,186.7 399.7,187.5 400.5,188.2 401.4,188.8 402.3,189.4 403.2,189.9 404.2,190.3 405.2,190.6 406.3,190.8 407.3,191.0 408.4,191.0 409.5,191.0 410.5,190.8 411.6,190.6 412.6,190.3 413.6,189.9 414.5,189.4 415.4,188.8 416.3,188.2 417.1,187.5 417.8,186.7 418.4,185.8 419.0,184.9 419.5,184.0 419.9,183.0 420.3,182.0 420.5,180.9 420.7,179.9" fill="#3240ea"/>
<polygon points="420.4,178.8 420.4,177.7 420.3,176.7 420.1,175.7 419.7,174.7 419.4,173.7 418.9,172.8 418.3,171.9 417.7,171.0 417.0,170.2 416.2,169.5 415.3,168.9 414.5,168.3 413.5,167.8 412.5,167.4 411.5,167.1 410.5,166.9 409.5,166.7 408.4,166.7 407.3,166.7 406.3,166.9 405.3,167.1 404.3,167.4 403.3,167.8 402.3,168.3 401.5,168.9 400.6,169.5 399.8,170.2 399.1,171.0 398.5,171.9 397.9,172.8 397.4,173.7 397.1,174.7 396.7,175.7 396.5,176.7 396.4,177.7 396.4,178.8 396.4,179.8 396.5,180.9 396.8,181.9 397.1,182.9 397.5,183.9 398.0,184.8 398.6,185.7 399.2,186.5 399.9,187.3 400.7,188.0 401.5,188.6 402.4,189.2 403.3,189.7 404.3,190.1 405.3,190.4 406.3,190.6 407.4,190.7 408.4,190.8 409.4,190.7 410.5,190.6 411.5,190.4 412.5,190.1 413.5,189.7 414.4,189.2 415.3,188.6 416.1,188.0 416.9,187.3 417.6,186.5 418.2,185.7 418.8,184.8 419.3,183.9 419.7,182.9 420.0,181.9 420.3,180.9 420.4,179.8" fill="#323ee9"/>
<polygon points="420.2,178.8 420.2,177.8 420.0,176.7 419.8,175.7 419.5,174.8 419.1,173.8 418.6,172.9 418.1,172.0 417.5,171.2 416.8,170.4 416.0,169.7 415.2,169.1 414.3,168.5 413.4,168.0 412.5,167.6 411.5,167.3 410.5,167.1 409.4,167.0 408.4,166.9 407.4,167.0 406.3,167.1 405.3,167.3 404.3,167.6 403.4,168.0 402.5,168.5 401.6,169.1 400.8,169.7 400.0,170.4 399.3,171.2 398.7,172.0 398.2,172.9 397.7,173.8 397.3,174.8 397.0,175.7 396.8,176.7 396.6,177.8 396.6,178.8 396.7,179.8 396.8,180.8 397.0,181.8 397.3,182.8 397.7,183.8 398.2,184.7 398.8,185.5 399.4,186.4 400.1,187.1 400.9,187.8 401.7,188.4 402.5,189.0 403.4,189.4 404.4,189.8 405.4,190.1 406.4,190.3 407.4,190.5 408.4,190.5 409.4,190.5 410.4,190.3 411.4,190.1 412.4,189.8 413.4,189.4 414.3,189.0 415.1,188.4 415.9,187.8 416.7,187.1 417.4,186.4 418.0,185.5 418.6,184.7 419.1,183.8 419.5,182.8 419.8,181.8 420.0,180.8 420.1,179.8" fill="#323de8"/>
<polygon points="419.9,178.8 419.9,177.8 419.8,176.8 419.6,175.8 419.3,174.8 418.9,173.9 418.4,173.0 417.9,172.2 417.3,171.3 416.6,170.6 415.9,169.9 415.1,169.3 414.2,168.7 413.3,168.3 412.4,167.9 411.4,167.6 410.4,167.4 409.4,167.2 408.4,167.2 407.4,167.2 406.4,167.4 405.4,167.6 404.4,167.9 403.5,168.3 402.6,168.7 401.7,169.3 400.9,169.9 400.2,170.6 399.5,171.3 398.9,172.2 398.4,173.0 397.9,173.9 397.5,174.8 397.2,175.8 397.0,176.8 396.9,177.8 396.9,178.8 396.9,179.8 397.0,180.8 397.3,181.8 397.6,182.7 398.0,183.7 398.4,184.6 399.0,185.4 399.6,186.2 400.3,186.9 401.0,187.6 401.8,188.2 402.7,188.7 403.5,189.2 404.5,189.6 405.4,189.9 406.4,190.1 407.4,190.2 408.4,190.3 409.4,190.2 410.4,190.1 411.4,189.9 412.3,189.6 413.3,189.2 414.1,188.7 415.0,188.2 415.8,187.6 416.5,186.9 417.2,186.2 417.8,185.4 418.4,184.6 418.8,183.7 419.2,182.7 419.5,181.8 419.8,180.8 419.9,179.8" fill="#323be7"/>
<polygon points="419.7,178.8 419.7,177.8 419.5,176.8 419.3,175.9 419.0,174.9 418.7,174.0 418.2,173.1 417.7,172.3 417.1,171.5 416.4,170.8 415.7,170.1 414.9,169.5 414.1,169.0 413.2,168.5 412.3,168.1 411.3,167.8 410.4,167.6 409.4,167.5 408.4,167.4 407.4,167.5 406.4,167.6 405.5,167.8 404.5,168.1 403.6,168.5 402.7,169.0 401.9,169.5 401.1,170.1 400.4,170.8 399.7,171.5 399.1,172.3 398.6,173.1 398.1,174.0 397.8,174.9 397.5,175.9 397.3,176.8 397.1,177.8 397.1,178.8 397.1,179.8 397.3,180.8 397.5,181.7 397.8,182.7 398.2,183.6 398.6,184.4 399.2,185.3 399.8,186.0 400.4,186.8 401.2,187.4 401.9,188.0 402.8,188.5 403.6,189.0 404.6,189.4 405.5,189.7 406.4,189.9 407.4,190.0 408.4,190.0 409.4,190.0 410.4,189.9 411.3,189.7 412.2,189.4 413.2,189.0 414.0,188.5 414.9,188.0 415.6,187.4 416.4,186.8 417.0,186.0 417.6,185.3 418.2,184.4 418.6,183.6 419.0,182.7 419.3,181.7 419.5,180.8 419.7,179.8" fill="#3239e7"/>
<polygon points="419.5,178.8 419.4,177.8 419.3,176.9 419.1,175.9 418.8,175.0 418.5,174.1 418.0,173.3 417.5,172.4 416.9,171.7 416.3,170.9 415.5,170.3 414.8,169.7 414.0,169.2 413.1,168.7 412.2,168.3 411.3,168.0 410.3,167.8 409.4,167.7 408.4,167.7 407.4,167.7 406.5,167.8 405.5,168.0 404.6,168.3 403.7,168.7 402.8,169.2 402.0,169.7 401.3,170.3 400.5,170.9 399.9,171.7 399.3,172.4 398.8,173.3 398.3,174.1 398.0,175.0 397.7,175.9 397.5,176.9 397.4,177.8 397.3,178.8 397.4,179.8 397.5,180.7 397.7,181.7 398.0,182.6 398.4,183.5 398.8,184.3 399.4,185.1 400.0,185.9 400.6,186.6 401.3,187.2 402.1,187.8 402.9,188.3 403.7,188.8 404.6,189.1 405.6,189.4 406.5,189.6 407.4,189.8 408.4,189.8 409.4,189.8 410.3,189.6 411.2,189.4 412.2,189.1 413.1,188.8 413.9,188.3 414.7,187.8 415.5,187.2 416.2,186.6 416.8,185.9 417.4,185.1 418.0,184.3 418.4,183.5 418.8,182.6 419.1,181.7 419.3,180.7 419.4,179.8" fill="#3237e6"/>
<polygon points="419.2,178.8 419.2,177.9 419.1,176.9 418.9,176.0 418.6,175.1 418.2,174.2 417.8,173.4 417.3,172.6 416.7,171.8 416.1,171.1 415.4,170.5 414.6,169.9 413.8,169.4 413.0,168.9 412.1,168.6 411.2,168.3 410.3,168.1 409.3,167.9 408.4,167.9 407.5,167.9 406.5,168.1 405.6,168.3 404.7,168.6 403.8,168.9 403.0,169.4 402.2,169.9 401.4,170.5 400.7,171.1 400.1,171.8 399.5,172.6 399.0,173.4 398.6,174.2 398.2,175.1 397.9,176.0 397.7,176.9 397.6,177.9 397.6,178.8 397.6,179.7 397.7,180.7 398.0,181.6 398.2,182.5 398.6,183.4 399.0,184.2 399.6,185.0 400.1,185.7 400.8,186.4 401.5,187.1 402.2,187.6 403.0,188.1 403.8,188.6 404.7,188.9 405.6,189.2 406.5,189.4 407.5,189.5 408.4,189.6 409.3,189.5 410.3,189.4 411.2,189.2 412.1,188.9 413.0,188.6 413.8,188.1 414.6,187.6 415.3,187.1 416.0,186.4 416.7,185.7 417.2,185.0 417.8,184.2 418.2,183.4 418.6,182.5 418.8,181.6 419.1,180.7 419.2,179.7" fill="#3135e3"/>
<polygon points="419.0,178.8 419.0,177.9 418.9,177.0 418.7,176.1 418.4,175.2 418.0,174.3 417.6,173.5 417.1,172.7 416.6,172.0 415.9,171.3 415.2,170.6 414.5,170.1 413.7,169.6 412.9,169.1 412.0,168.8 411.2,168.5 410.3,168.3 409.3,168.2 408.4,168.1 407.5,168.2 406.5,168.3 405.6,168.5 404.8,168.8 403.9,169.1 403.1,169.6 402.3,170.1 401.6,170.6 400.9,171.3 400.2,172.0 399.7,172.7 399.2,173.5 398.8,174.3 398.4,175.2 398.1,176.1 397.9,177.0 397.8,177.9 397.8,178.8 397.8,179.7 398.0,180.6 398.2,181.5 398.5,182.4 398.8,183.3 399.2,184.1 399.7,184.9 400.3,185.6 400.9,186.3 401.6,186.9 402.3,187.4 403.1,187.9 403.9,188.4 404.8,188.7 405.7,189.0 406.6,189.2 407.5,189.3 408.4,189.3 409.3,189.3 410.2,189.2 411.1,189.0 412.0,188.7 412.9,188.4 413.7,187.9 414.5,187.4 415.2,186.9 415.9,186.3 416.5,185.6 417.1,184.9 417.6,184.1 418.0,183.3 418.3,182.4 418.6,181.5 418.8,180.6 419.0,179.7" fill="#3033e0"/>
<polygon points="418.8,178.8 418.7,177.9 418.6,177.0 418.4,176.1 418.2,175.2 417.8,174.4 417.4,173.6 416.9,172.8 416.4,172.1 415.8,171.4 415.1,170.8 414.4,170.3 413.6,169.8 412.8,169.3 412.0,169.0 411.1,168.7 410.2,168.5 409.3,168.4 408.4,168.4 407.5,168.4 406.6,168.5 405.7,168.7 404.8,169.0 404.0,169.3 403.2,169.8 402.4,170.3 401.7,170.8 401.0,171.4 400.4,172.1 399.9,172.8 399.4,173.6 399.0,174.4 398.6,175.2 398.4,176.1 398.2,177.0 398.1,177.9 398.0,178.8 398.1,179.7 398.2,180.6 398.4,181.5 398.7,182.3 399.0,183.2 399.4,184.0 399.9,184.7 400.5,185.4 401.1,186.1 401.8,186.7 402.5,187.3 403.2,187.7 404.0,188.2 404.9,188.5 405.7,188.8 406.6,189.0 407.5,189.1 408.4,189.1 409.3,189.1 410.2,189.0 411.1,188.8 411.9,188.5 412.8,188.2 413.6,187.7 414.3,187.3 415.0,186.7 415.7,186.1 416.3,185.4 416.9,184.7 417.4,184.0 417.8,183.2 418.1,182.3 418.4,181.5 418.6,180.6 418.7,179.7" fill="#2f31dd"/>
<polygon points="418.6,178.8 418.5,177.9 418.4,177.0 418.2,176.2 418.0,175.3 417.6,174.5 417.2,173.7 416.8,173.0 416.2,172.2 415.6,171.6 415.0,171.0 414.3,170.4 413.5,170.0 412.7,169.5 411.9,169.2 411.0,168.9 410.2,168.7 409.3,168.6 408.4,168.6 407.5,168.6 406.6,168.7 405.8,168.9 404.9,169.2 404.1,169.5 403.3,170.0 402.5,170.4 401.8,171.0 401.2,171.6 400.6,172.2 400.0,173.0 399.6,173.7 399.2,174.5 398.8,175.3 398.6,176.2 398.4,177.0 398.3,177.9 398.2,178.8 398.3,179.7 398.4,180.6 398.6,181.4 398.9,182.3 399.2,183.1 399.6,183.9 400.1,184.6 400.6,185.3 401.2,186.0 401.9,186.6 402.6,187.1 403.3,187.6 404.1,188.0 404.9,188.3 405.8,188.6 406.6,188.8 407.5,188.9 408.4,188.9 409.3,188.9 410.2,188.8 411.0,188.6 411.9,188.3 412.7,188.0 413.5,187.6 414.2,187.1 414.9,186.6 415.6,186.0 416.2,185.3 416.7,184.6 417.2,183.9 417.6,183.1 417.9,182.3 418.2,181.4 418.4,180.6 418.5,179.7" fill="#2e2fda"/>
<polygon points="418.3,178.8 418.3,177.9 418.2,177.1 418.0,176.2 417.8,175.4 417.4,174.6 417.0,173.8 416.6,173.1 416.0,172.4 415.5,171.7 414.8,171.1 414.1,170.6 413.4,170.1 412.6,169.7 411.8,169.4 411.0,169.1 410.1,168.9 409.3,168.8 408.4,168.8 407.5,168.8 406.7,168.9 405.8,169.1 405.0,169.4 404.2,169.7 403.4,170.1 402.7,170.6 402.0,171.1 401.3,171.7 400.8,172.4 400.2,173.1 399.8,173.8 399.4,174.6 399.0,175.4 398.8,176.2 398.6,177.1 398.5,177.9 398.5,178.8 398.5,179.7 398.6,180.5 398.8,181.4 399.1,182.2 399.4,183.0 399.8,183.8 400.3,184.5 400.8,185.2 401.4,185.8 402.0,186.4 402.7,186.9 403.4,187.4 404.2,187.8 405.0,188.1 405.8,188.4 406.7,188.5 407.5,188.7 408.4,188.7 409.3,188.7 410.1,188.5 411.0,188.4 411.8,188.1 412.6,187.8 413.4,187.4 414.1,186.9 414.8,186.4 415.4,185.8 416.0,185.2 416.5,184.5 417.0,183.8 417.4,183.0 417.7,182.2 418.0,181.4 418.2,180.5 418.3,179.7" fill="#2d2dd7"/>
<polygon points="418.1,178.8 418.1,178.0 418.0,177.1 417.8,176.3 417.6,175.5 417.2,174.7 416.9,173.9 416.4,173.2 415.9,172.5 415.3,171.9 414.7,171.3 414.0,170.8 413.3,170.3 412.5,169.9 411.7,169.6 410.9,169.3 410.1,169.2 409.3,169.0 408.4,169.0 407.5,169.0 406.7,169.2 405.9,169.3 405.1,169.6 404.3,169.9 403.5,170.3 402.8,170.8 402.1,171.3 401.5,171.9 400.9,172.5 400.4,173.2 399.9,173.9 399.6,174.7 399.2,175.5 399.0,176.3 398.8,177.1 398.7,178.0 398.7,178.8 398.7,179.6 398.8,180.5 399.0,181.3 399.3,182.1 399.6,182.9 400.0,183.7 400.4,184.4 401.0,185.0 401.5,185.7 402.2,186.2 402.8,186.7 403.6,187.2 404.3,187.6 405.1,187.9 405.9,188.2 406.7,188.3 407.6,188.5 408.4,188.5 409.2,188.5 410.1,188.3 410.9,188.2 411.7,187.9 412.5,187.6 413.2,187.2 414.0,186.7 414.6,186.2 415.3,185.7 415.8,185.0 416.4,184.4 416.8,183.7 417.2,182.9 417.5,182.1 417.8,181.3 418.0,180.5 418.1,179.6" fill="#2c2cd4"/>
<polygon points="417.9,178.8 417.9,178.0 417.8,177.1 417.6,176.3 417.4,175.5 417.1,174.8 416.7,174.0 416.2,173.3 415.7,172.7 415.2,172.0 414.6,171.5 413.9,171.0 413.2,170.5 412.4,170.1 411.7,169.8 410.9,169.5 410.1,169.4 409.2,169.3 408.4,169.2 407.6,169.3 406.7,169.4 405.9,169.5 405.1,169.8 404.4,170.1 403.6,170.5 402.9,171.0 402.2,171.5 401.6,172.0 401.1,172.7 400.6,173.3 400.1,174.0 399.7,174.8 399.4,175.5 399.2,176.3 399.0,177.1 398.9,178.0 398.9,178.8 398.9,179.6 399.0,180.5 399.2,181.3 399.5,182.1 399.8,182.8 400.2,183.6 400.6,184.3 401.1,184.9 401.7,185.5 402.3,186.1 403.0,186.6 403.7,187.0 404.4,187.4 405.2,187.7 405.9,188.0 406.8,188.1 407.6,188.2 408.4,188.3 409.2,188.2 410.0,188.1 410.9,188.0 411.6,187.7 412.4,187.4 413.1,187.0 413.8,186.6 414.5,186.1 415.1,185.5 415.7,184.9 416.2,184.3 416.6,183.6 417.0,182.8 417.3,182.1 417.6,181.3 417.8,180.5 417.9,179.6" fill="#2c2cd1"/>
<polygon points="417.7,178.8 417.7,178.0 417.6,177.2 417.4,176.4 417.2,175.6 416.9,174.8 416.5,174.1 416.1,173.4 415.6,172.8 415.0,172.2 414.4,171.6 413.8,171.1 413.1,170.7 412.4,170.3 411.6,170.0 410.8,169.7 410.0,169.6 409.2,169.5 408.4,169.4 407.6,169.5 406.8,169.6 406.0,169.7 405.2,170.0 404.4,170.3 403.7,170.7 403.0,171.1 402.4,171.6 401.8,172.2 401.2,172.8 400.7,173.4 400.3,174.1 399.9,174.8 399.6,175.6 399.4,176.4 399.2,177.2 399.1,178.0 399.1,178.8 399.1,179.6 399.2,180.4 399.4,181.2 399.6,182.0 400.0,182.7 400.3,183.5 400.8,184.1 401.3,184.8 401.8,185.4 402.4,185.9 403.1,186.4 403.8,186.8 404.5,187.2 405.2,187.5 406.0,187.8 406.8,187.9 407.6,188.1 408.4,188.1 409.2,188.1 410.0,187.9 410.8,187.8 411.6,187.5 412.3,187.2 413.0,186.8 413.7,186.4 414.4,185.9 415.0,185.4 415.5,184.8 416.0,184.1 416.5,183.5 416.8,182.7 417.2,182.0 417.4,181.2 417.6,180.4 417.7,179.6" fill="#2b2bce"/>
<polygon points="417.5,178.8 417.5,178.0 417.4,177.2 417.2,176.4 417.0,175.7 416.7,174.9 416.3,174.2 415.9,173.5 415.4,172.9 414.9,172.3 414.3,171.8 413.7,171.3 413.0,170.9 412.3,170.5 411.5,170.2 410.8,169.9 410.0,169.8 409.2,169.7 408.4,169.6 407.6,169.7 406.8,169.8 406.0,169.9 405.3,170.2 404.5,170.5 403.8,170.9 403.1,171.3 402.5,171.8 401.9,172.3 401.4,172.9 400.9,173.5 400.5,174.2 400.1,174.9 399.8,175.7 399.6,176.4 399.4,177.2 399.3,178.0 399.3,178.8 399.3,179.6 399.4,180.4 399.6,181.2 399.8,181.9 400.1,182.7 400.5,183.4 400.9,184.0 401.4,184.7 402.0,185.2 402.5,185.8 403.2,186.3 403.9,186.7 404.6,187.0 405.3,187.3 406.0,187.6 406.8,187.8 407.6,187.9 408.4,187.9 409.2,187.9 410.0,187.8 410.8,187.6 411.5,187.3 412.2,187.0 412.9,186.7 413.6,186.3 414.3,185.8 414.8,185.2 415.4,184.7 415.9,184.0 416.3,183.4 416.7,182.7 417.0,181.9 417.2,181.2 417.4,180.4 417.5,179.6" fill="#2b2bcb"/>
<polygon points="417.3,178.8 417.3,178.0 417.2,177.2 417.1,176.5 416.8,175.7 416.5,175.0 416.2,174.3 415.7,173.7 415.3,173.0 414.7,172.5 414.2,171.9 413.6,171.4 412.9,171.0 412.2,170.7 411.5,170.4 410.7,170.1 410.0,169.9 409.2,169.8 408.4,169.8 407.6,169.8 406.8,169.9 406.1,170.1 405.3,170.4 404.6,170.7 403.9,171.0 403.2,171.4 402.6,171.9 402.1,172.5 401.5,173.0 401.1,173.7 400.6,174.3 400.3,175.0 400.0,175.7 399.7,176.5 399.6,177.2 399.5,178.0 399.5,178.8 399.5,179.6 399.6,180.4 399.8,181.1 400.0,181.9 400.3,182.6 400.7,183.3 401.1,183.9 401.6,184.5 402.1,185.1 402.7,185.6 403.3,186.1 403.9,186.5 404.6,186.9 405.4,187.2 406.1,187.4 406.9,187.6 407.6,187.7 408.4,187.7 409.2,187.7 409.9,187.6 410.7,187.4 411.4,187.2 412.2,186.9 412.9,186.5 413.5,186.1 414.1,185.6 414.7,185.1 415.2,184.5 415.7,183.9 416.1,183.3 416.5,182.6 416.8,181.9 417.0,181.1 417.2,180.4 417.3,179.6" fill="#2a2ac8"/>
<polygon points="417.2,178.8 417.1,178.0 417.0,177.3 416.9,176.5 416.6,175.8 416.4,175.1 416.0,174.4 415.6,173.8 415.1,173.2 414.6,172.6 414.0,172.1 413.4,171.6 412.8,171.2 412.1,170.8 411.4,170.5 410.7,170.3 409.9,170.1 409.2,170.0 408.4,170.0 407.6,170.0 406.9,170.1 406.1,170.3 405.4,170.5 404.7,170.8 404.0,171.2 403.4,171.6 402.8,172.1 402.2,172.6 401.7,173.2 401.2,173.8 400.8,174.4 400.4,175.1 400.2,175.8 399.9,176.5 399.8,177.3 399.7,178.0 399.6,178.8 399.7,179.6 399.8,180.3 400.0,181.1 400.2,181.8 400.5,182.5 400.8,183.2 401.2,183.8 401.7,184.4 402.2,185.0 402.8,185.5 403.4,185.9 404.0,186.4 404.7,186.7 405.4,187.0 406.1,187.2 406.9,187.4 407.6,187.5 408.4,187.5 409.2,187.5 409.9,187.4 410.7,187.2 411.4,187.0 412.1,186.7 412.8,186.4 413.4,185.9 414.0,185.5 414.6,185.0 415.1,184.4 415.6,183.8 416.0,183.2 416.3,182.5 416.6,181.8 416.8,181.1 417.0,180.3 417.1,179.6" fill="#2929c5"/>
<polygon points="417.0,178.8 416.9,178.1 416.8,177.3 416.7,176.6 416.5,175.9 416.2,175.2 415.8,174.5 415.4,173.9 415.0,173.3 414.5,172.7 413.9,172.2 413.3,171.8 412.7,171.3 412.0,171.0 411.3,170.7 410.6,170.5 409.9,170.3 409.2,170.2 408.4,170.2 407.6,170.2 406.9,170.3 406.2,170.5 405.5,170.7 404.8,171.0 404.1,171.3 403.5,171.8 402.9,172.2 402.3,172.7 401.8,173.3 401.4,173.9 401.0,174.5 400.6,175.2 400.3,175.9 400.1,176.6 400.0,177.3 399.9,178.1 399.8,178.8 399.9,179.5 400.0,180.3 400.1,181.0 400.4,181.7 400.6,182.4 401.0,183.1 401.4,183.7 401.9,184.3 402.4,184.8 402.9,185.3 403.5,185.8 404.1,186.2 404.8,186.5 405.5,186.8 406.2,187.0 406.9,187.2 407.7,187.3 408.4,187.3 409.1,187.3 409.9,187.2 410.6,187.0 411.3,186.8 412.0,186.5 412.7,186.2 413.3,185.8 413.9,185.3 414.4,184.8 414.9,184.3 415.4,183.7 415.8,183.1 416.2,182.4 416.4,181.7 416.7,181.0 416.8,180.3 416.9,179.5" fill="#2929c2"/>
<polygon points="416.8,178.8 416.8,178.1 416.7,177.3 416.5,176.6 416.3,175.9 416.0,175.2 415.7,174.6 415.3,174.0 414.8,173.4 414.4,172.8 413.8,172.3 413.2,171.9 412.6,171.5 412.0,171.2 411.3,170.9 410.6,170.7 409.9,170.5 409.1,170.4 408.4,170.4 407.7,170.4 406.9,170.5 406.2,170.7 405.5,170.9 404.8,171.2 404.2,171.5 403.6,171.9 403.0,172.3 402.4,172.8 402.0,173.4 401.5,174.0 401.1,174.6 400.8,175.2 400.5,175.9 400.3,176.6 400.1,177.3 400.0,178.1 400.0,178.8 400.0,179.5 400.1,180.3 400.3,181.0 400.5,181.7 400.8,182.3 401.1,183.0 401.5,183.6 402.0,184.2 402.5,184.7 403.0,185.2 403.6,185.6 404.2,186.0 404.9,186.4 405.5,186.7 406.2,186.9 406.9,187.0 407.7,187.1 408.4,187.2 409.1,187.1 409.9,187.0 410.6,186.9 411.3,186.7 411.9,186.4 412.6,186.0 413.2,185.6 413.8,185.2 414.3,184.7 414.8,184.2 415.3,183.6 415.7,183.0 416.0,182.3 416.3,181.7 416.5,181.0 416.7,180.3 416.8,179.5" fill="#2828bf"/>
<polygon points="416.6,178.8 416.6,178.1 416.5,177.4 416.3,176.7 416.1,176.0 415.9,175.3 415.5,174.7 415.1,174.1 414.7,173.5 414.2,173.0 413.7,172.5 413.1,172.0 412.5,171.7 411.9,171.3 411.2,171.0 410.5,170.8 409.8,170.7 409.1,170.6 408.4,170.5 407.7,170.6 407.0,170.7 406.3,170.8 405.6,171.0 404.9,171.3 404.3,171.7 403.7,172.0 403.1,172.5 402.6,173.0 402.1,173.5 401.7,174.1 401.3,174.7 400.9,175.3 400.7,176.0 400.5,176.7 400.3,177.4 400.2,178.1 400.2,178.8 400.2,179.5 400.3,180.2 400.5,180.9 400.7,181.6 401.0,182.3 401.3,182.9 401.7,183.5 402.1,184.1 402.6,184.6 403.1,185.1 403.7,185.5 404.3,185.9 404.9,186.2 405.6,186.5 406.3,186.7 407.0,186.9 407.7,186.9 408.4,187.0 409.1,186.9 409.8,186.9 410.5,186.7 411.2,186.5 411.9,186.2 412.5,185.9 413.1,185.5 413.7,185.1 414.2,184.6 414.7,184.1 415.1,183.5 415.5,182.9 415.8,182.3 416.1,181.6 416.3,180.9 416.5,180.2 416.6,179.5" fill="#2828bb"/>
<polygon points="416.4,178.8 416.4,178.1 416.3,177.4 416.2,176.7 416.0,176.0 415.7,175.4 415.4,174.8 415.0,174.2 414.6,173.6 414.1,173.1 413.6,172.6 413.0,172.2 412.4,171.8 411.8,171.5 411.2,171.2 410.5,171.0 409.8,170.8 409.1,170.8 408.4,170.7 407.7,170.8 407.0,170.8 406.3,171.0 405.6,171.2 405.0,171.5 404.4,171.8 403.8,172.2 403.2,172.6 402.7,173.1 402.2,173.6 401.8,174.2 401.4,174.8 401.1,175.4 400.8,176.0 400.6,176.7 400.5,177.4 400.4,178.1 400.4,178.8 400.4,179.5 400.5,180.2 400.6,180.9 400.9,181.5 401.1,182.2 401.5,182.8 401.8,183.4 402.3,184.0 402.7,184.5 403.2,184.9 403.8,185.4 404.4,185.7 405.0,186.1 405.7,186.3 406.3,186.5 407.0,186.7 407.7,186.8 408.4,186.8 409.1,186.8 409.8,186.7 410.5,186.5 411.1,186.3 411.8,186.1 412.4,185.7 413.0,185.4 413.6,184.9 414.1,184.5 414.5,184.0 415.0,183.4 415.3,182.8 415.7,182.2 415.9,181.5 416.2,180.9 416.3,180.2 416.4,179.5" fill="#2727b7"/>
<polygon points="416.3,178.8 416.2,178.1 416.2,177.4 416.0,176.8 415.8,176.1 415.5,175.5 415.2,174.9 414.9,174.3 414.4,173.7 414.0,173.2 413.5,172.7 412.9,172.3 412.4,172.0 411.7,171.6 411.1,171.4 410.4,171.2 409.8,171.0 409.1,170.9 408.4,170.9 407.7,170.9 407.0,171.0 406.4,171.2 405.7,171.4 405.1,171.6 404.4,172.0 403.9,172.3 403.3,172.7 402.8,173.2 402.4,173.7 401.9,174.3 401.6,174.9 401.3,175.5 401.0,176.1 400.8,176.8 400.6,177.4 400.6,178.1 400.5,178.8 400.6,179.5 400.7,180.2 400.8,180.8 401.0,181.5 401.3,182.1 401.6,182.7 402.0,183.3 402.4,183.8 402.8,184.4 403.4,184.8 403.9,185.2 404.5,185.6 405.1,185.9 405.7,186.2 406.4,186.4 407.0,186.5 407.7,186.6 408.4,186.6 409.1,186.6 409.8,186.5 410.4,186.4 411.1,186.2 411.7,185.9 412.3,185.6 412.9,185.2 413.4,184.8 414.0,184.4 414.4,183.8 414.8,183.3 415.2,182.7 415.5,182.1 415.8,181.5 416.0,180.8 416.1,180.2 416.2,179.5" fill="#2626b2"/>
<polygon points="416.1,178.8 416.1,178.1 416.0,177.5 415.9,176.8 415.7,176.2 415.4,175.5 415.1,174.9 414.7,174.4 414.3,173.8 413.9,173.3 413.4,172.9 412.8,172.5 412.3,172.1 411.7,171.8 411.0,171.5 410.4,171.3 409.7,171.2 409.1,171.1 408.4,171.1 407.7,171.1 407.1,171.2 406.4,171.3 405.8,171.5 405.1,171.8 404.5,172.1 404.0,172.5 403.4,172.9 402.9,173.3 402.5,173.8 402.1,174.4 401.7,174.9 401.4,175.5 401.1,176.2 400.9,176.8 400.8,177.5 400.7,178.1 400.7,178.8 400.7,179.5 400.8,180.1 401.0,180.8 401.2,181.4 401.4,182.1 401.7,182.6 402.1,183.2 402.5,183.7 403.0,184.2 403.5,184.7 404.0,185.1 404.6,185.5 405.2,185.8 405.8,186.0 406.4,186.2 407.1,186.4 407.7,186.4 408.4,186.5 409.1,186.4 409.7,186.4 410.4,186.2 411.0,186.0 411.6,185.8 412.2,185.5 412.8,185.1 413.3,184.7 413.8,184.2 414.3,183.7 414.7,183.2 415.1,182.6 415.4,182.1 415.6,181.4 415.8,180.8 416.0,180.1 416.1,179.5" fill="#2626ae"/>
<polygon points="415.9,178.8 415.9,178.1 415.8,177.5 415.7,176.8 415.5,176.2 415.3,175.6 414.9,175.0 414.6,174.5 414.2,173.9 413.8,173.4 413.3,173.0 412.7,172.6 412.2,172.2 411.6,171.9 411.0,171.7 410.4,171.5 409.7,171.3 409.1,171.3 408.4,171.2 407.7,171.3 407.1,171.3 406.4,171.5 405.8,171.7 405.2,171.9 404.6,172.2 404.1,172.6 403.5,173.0 403.0,173.4 402.6,173.9 402.2,174.5 401.9,175.0 401.5,175.6 401.3,176.2 401.1,176.8 401.0,177.5 400.9,178.1 400.9,178.8 400.9,179.5 401.0,180.1 401.1,180.8 401.3,181.4 401.6,182.0 401.9,182.6 402.2,183.1 402.6,183.6 403.1,184.1 403.6,184.6 404.1,185.0 404.6,185.3 405.2,185.6 405.8,185.9 406.5,186.1 407.1,186.2 407.7,186.3 408.4,186.3 409.1,186.3 409.7,186.2 410.3,186.1 411.0,185.9 411.6,185.6 412.2,185.3 412.7,185.0 413.2,184.6 413.7,184.1 414.2,183.6 414.6,183.1 414.9,182.6 415.2,182.0 415.5,181.4 415.7,180.8 415.8,180.1 415.9,179.5" fill="#2525aa"/>
<polygon points="415.8,178.8 415.8,178.2 415.7,177.5 415.5,176.9 415.4,176.3 415.1,175.7 414.8,175.1 414.5,174.6 414.1,174.0 413.6,173.6 413.2,173.1 412.7,172.7 412.1,172.4 411.5,172.1 410.9,171.8 410.3,171.6 409.7,171.5 409.0,171.4 408.4,171.4 407.8,171.4 407.1,171.5 406.5,171.6 405.9,171.8 405.3,172.1 404.7,172.4 404.1,172.7 403.6,173.1 403.2,173.6 402.7,174.0 402.3,174.6 402.0,175.1 401.7,175.7 401.4,176.3 401.3,176.9 401.1,177.5 401.0,178.2 401.0,178.8 401.0,179.4 401.1,180.1 401.3,180.7 401.5,181.3 401.7,181.9 402.0,182.5 402.4,183.0 402.8,183.5 403.2,184.0 403.7,184.4 404.2,184.8 404.7,185.2 405.3,185.5 405.9,185.7 406.5,185.9 407.1,186.0 407.8,186.1 408.4,186.2 409.0,186.1 409.7,186.0 410.3,185.9 410.9,185.7 411.5,185.5 412.1,185.2 412.6,184.8 413.1,184.4 413.6,184.0 414.0,183.5 414.4,183.0 414.8,182.5 415.1,181.9 415.3,181.3 415.5,180.7 415.7,180.1 415.8,179.4" fill="#2525a6"/>
<polygon points="415.6,178.8 415.6,178.2 415.5,177.5 415.4,176.9 415.2,176.3 415.0,175.7 414.7,175.2 414.3,174.6 414.0,174.1 413.5,173.7 413.1,173.2 412.6,172.9 412.0,172.5 411.5,172.2 410.9,172.0 410.3,171.8 409.7,171.7 409.0,171.6 408.4,171.5 407.8,171.6 407.1,171.7 406.5,171.8 405.9,172.0 405.3,172.2 404.8,172.5 404.2,172.9 403.7,173.2 403.3,173.7 402.8,174.1 402.5,174.6 402.1,175.2 401.8,175.7 401.6,176.3 401.4,176.9 401.3,177.5 401.2,178.2 401.2,178.8 401.2,179.4 401.3,180.1 401.4,180.7 401.6,181.3 401.9,181.9 402.2,182.4 402.5,182.9 402.9,183.4 403.3,183.9 403.8,184.3 404.3,184.7 404.8,185.0 405.4,185.3 405.9,185.6 406.5,185.8 407.1,185.9 407.8,186.0 408.4,186.0 409.0,186.0 409.7,185.9 410.3,185.8 410.9,185.6 411.4,185.3 412.0,185.0 412.5,184.7 413.0,184.3 413.5,183.9 413.9,183.4 414.3,182.9 414.6,182.4 414.9,181.9 415.2,181.3 415.4,180.7 415.5,180.1 415.6,179.4" fill="#2424a1"/>
<polygon points="415.5,178.8 415.5,178.2 415.4,177.6 415.2,177.0 415.1,176.4 414.8,175.8 414.5,175.3 414.2,174.7 413.8,174.2 413.4,173.8 413.0,173.4 412.5,173.0 412.0,172.6 411.4,172.4 410.8,172.1 410.2,171.9 409.6,171.8 409.0,171.7 408.4,171.7 407.8,171.7 407.2,171.8 406.6,171.9 406.0,172.1 405.4,172.4 404.8,172.6 404.3,173.0 403.8,173.4 403.4,173.8 403.0,174.2 402.6,174.7 402.3,175.3 402.0,175.8 401.7,176.4 401.6,177.0 401.4,177.6 401.3,178.2 401.3,178.8 401.4,179.4 401.4,180.0 401.6,180.6 401.8,181.2 402.0,181.8 402.3,182.3 402.6,182.9 403.0,183.3 403.4,183.8 403.9,184.2 404.4,184.6 404.9,184.9 405.4,185.2 406.0,185.4 406.6,185.6 407.2,185.7 407.8,185.8 408.4,185.9 409.0,185.8 409.6,185.7 410.2,185.6 410.8,185.4 411.4,185.2 411.9,184.9 412.4,184.6 412.9,184.2 413.4,183.8 413.8,183.3 414.2,182.9 414.5,182.3 414.8,181.8 415.0,181.2 415.2,180.6 415.4,180.0 415.4,179.4" fill="#23239d"/>
<polygon points="415.3,178.8 415.3,178.2 415.2,177.6 415.1,177.0 414.9,176.4 414.7,175.9 414.4,175.3 414.1,174.8 413.7,174.3 413.3,173.9 412.9,173.5 412.4,173.1 411.9,172.8 411.3,172.5 410.8,172.3 410.2,172.1 409.6,171.9 409.0,171.9 408.4,171.8 407.8,171.9 407.2,171.9 406.6,172.1 406.0,172.3 405.5,172.5 404.9,172.8 404.4,173.1 403.9,173.5 403.5,173.9 403.1,174.3 402.7,174.8 402.4,175.3 402.1,175.9 401.9,176.4 401.7,177.0 401.6,177.6 401.5,178.2 401.5,178.8 401.5,179.4 401.6,180.0 401.7,180.6 401.9,181.2 402.1,181.7 402.4,182.3 402.7,182.8 403.1,183.2 403.5,183.7 404.0,184.1 404.4,184.5 404.9,184.8 405.5,185.1 406.0,185.3 406.6,185.5 407.2,185.6 407.8,185.7 408.4,185.7 409.0,185.7 409.6,185.6 410.2,185.5 410.8,185.3 411.3,185.1 411.9,184.8 412.4,184.5 412.8,184.1 413.3,183.7 413.7,183.2 414.1,182.8 414.4,182.3 414.7,181.7 414.9,181.2 415.1,180.6 415.2,180.0 415.3,179.4" fill="#222299"/>
<polygon points="415.2,178.8 415.2,178.2 415.1,177.6 415.0,177.0 414.8,176.5 414.6,175.9 414.3,175.4 414.0,174.9 413.6,174.4 413.2,174.0 412.8,173.6 412.3,173.2 411.8,172.9 411.3,172.6 410.7,172.4 410.2,172.2 409.6,172.1 409.0,172.0 408.4,172.0 407.8,172.0 407.2,172.1 406.6,172.2 406.1,172.4 405.5,172.6 405.0,172.9 404.5,173.2 404.0,173.6 403.6,174.0 403.2,174.4 402.8,174.9 402.5,175.4 402.2,175.9 402.0,176.5 401.8,177.0 401.7,177.6 401.6,178.2 401.6,178.8 401.6,179.4 401.7,180.0 401.9,180.6 402.0,181.1 402.3,181.7 402.5,182.2 402.9,182.7 403.2,183.2 403.6,183.6 404.1,184.0 404.5,184.3 405.0,184.7 405.5,184.9 406.1,185.2 406.7,185.3 407.2,185.5 407.8,185.5 408.4,185.6 409.0,185.5 409.6,185.5 410.1,185.3 410.7,185.2 411.3,184.9 411.8,184.7 412.3,184.3 412.7,184.0 413.2,183.6 413.6,183.2 413.9,182.7 414.3,182.2 414.5,181.7 414.8,181.1 414.9,180.6 415.1,180.0 415.2,179.4" fill="#212194"/>
<polygon points="415.0,178.8 415.0,178.2 414.9,177.6 414.8,177.1 414.6,176.5 414.4,176.0 414.2,175.5 413.9,175.0 413.5,174.5 413.1,174.1 412.7,173.7 412.2,173.3 411.7,173.0 411.2,172.8 410.7,172.5 410.1,172.4 409.6,172.2 409.0,172.2 408.4,172.1 407.8,172.2 407.2,172.2 406.7,172.4 406.1,172.5 405.6,172.8 405.1,173.0 404.6,173.3 404.1,173.7 403.7,174.1 403.3,174.5 402.9,175.0 402.6,175.5 402.4,176.0 402.2,176.5 402.0,177.1 401.9,177.6 401.8,178.2 401.8,178.8 401.8,179.4 401.9,180.0 402.0,180.5 402.2,181.1 402.4,181.6 402.7,182.1 403.0,182.6 403.3,183.1 403.7,183.5 404.1,183.9 404.6,184.2 405.1,184.5 405.6,184.8 406.1,185.0 406.7,185.2 407.3,185.3 407.8,185.4 408.4,185.4 409.0,185.4 409.5,185.3 410.1,185.2 410.7,185.0 411.2,184.8 411.7,184.5 412.2,184.2 412.7,183.9 413.1,183.5 413.5,183.1 413.8,182.6 414.1,182.1 414.4,181.6 414.6,181.1 414.8,180.5 414.9,180.0 415.0,179.4" fill="#202090"/>
<polygon points="414.9,178.8 414.9,178.2 414.8,177.7 414.7,177.1 414.5,176.6 414.3,176.0 414.0,175.5 413.7,175.1 413.4,174.6 413.0,174.2 412.6,173.8 412.1,173.5 411.7,173.2 411.2,172.9 410.6,172.7 410.1,172.5 409.5,172.4 409.0,172.3 408.4,172.3 407.8,172.3 407.3,172.4 406.7,172.5 406.2,172.7 405.6,172.9 405.1,173.2 404.7,173.5 404.2,173.8 403.8,174.2 403.4,174.6 403.1,175.1 402.8,175.5 402.5,176.0 402.3,176.6 402.1,177.1 402.0,177.7 401.9,178.2 401.9,178.8 401.9,179.4 402.0,179.9 402.1,180.5 402.3,181.0 402.5,181.5 402.8,182.0 403.1,182.5 403.4,183.0 403.8,183.4 404.2,183.8 404.7,184.1 405.2,184.4 405.7,184.7 406.2,184.9 406.7,185.1 407.3,185.2 407.8,185.3 408.4,185.3 409.0,185.3 409.5,185.2 410.1,185.1 410.6,184.9 411.1,184.7 411.6,184.4 412.1,184.1 412.6,183.8 413.0,183.4 413.4,183.0 413.7,182.5 414.0,182.0 414.3,181.5 414.5,181.0 414.7,180.5 414.8,179.9 414.9,179.4" fill="#1f1f8b"/>
<polygon points="414.8,178.8 414.7,178.2 414.7,177.7 414.6,177.2 414.4,176.6 414.2,176.1 413.9,175.6 413.6,175.1 413.3,174.7 412.9,174.3 412.5,173.9 412.1,173.6 411.6,173.3 411.1,173.0 410.6,172.8 410.1,172.6 409.5,172.5 409.0,172.4 408.4,172.4 407.8,172.4 407.3,172.5 406.7,172.6 406.2,172.8 405.7,173.0 405.2,173.3 404.7,173.6 404.3,173.9 403.9,174.3 403.5,174.7 403.2,175.1 402.9,175.6 402.6,176.1 402.4,176.6 402.2,177.2 402.1,177.7 402.1,178.2 402.0,178.8 402.1,179.4 402.1,179.9 402.3,180.4 402.4,181.0 402.6,181.5 402.9,182.0 403.2,182.4 403.5,182.9 403.9,183.3 404.3,183.7 404.8,184.0 405.2,184.3 405.7,184.6 406.2,184.8 406.8,184.9 407.3,185.0 407.8,185.1 408.4,185.1 409.0,185.1 409.5,185.0 410.0,184.9 410.6,184.8 411.1,184.6 411.6,184.3 412.0,184.0 412.5,183.7 412.9,183.3 413.3,182.9 413.6,182.4 413.9,182.0 414.2,181.5 414.4,181.0 414.5,180.4 414.7,179.9 414.7,179.4" fill="#1e1e87"/>
</g>
<g clip-path="url(#pc)" fill="none" stroke="#46206e" stroke-width="0.9" stroke-opacity="0.5">
<path d="M601.0 10.0C599.1 11.8 595.0 15.9 589.6 20.9C584.2 25.9 575.9 33.5 568.8 40.0C561.7 46.5 554.0 53.5 547.0 60.0C540.0 66.5 532.8 73.5 527.0 79.0C521.2 84.5 515.5 89.5 512.0 93.0C508.4 96.5 509.2 96.0 505.7 100.0C502.1 104.0 495.1 111.8 490.7 117.0C486.2 122.2 482.3 127.0 479.0 131.0C475.7 135.0 473.2 137.8 471.0 141.0C468.8 144.2 467.6 146.8 466.0 150.0C464.4 153.2 462.4 157.2 461.2 160.2C459.9 163.2 459.2 165.4 458.5 168.0C457.8 170.6 457.3 173.5 457.0 176.0C456.7 178.5 456.7 180.5 456.8 183.0C456.9 185.5 457.0 188.2 457.5 191.0C458.0 193.8 458.1 195.2 459.8 199.5C461.5 203.8 464.1 210.2 467.9 216.9C471.7 223.7 478.2 233.5 482.8 240.0C487.4 246.5 491.1 250.1 495.5 255.7C499.9 261.3 504.7 267.5 509.3 273.4C513.9 279.3 518.4 285.4 523.0 291.1C527.6 296.8 532.2 302.2 536.8 307.8C541.4 313.4 545.4 318.5 550.5 325.0C555.6 331.5 563.9 342.0 567.5 346.6C571.1 351.2 571.2 351.5 572.0 352.5"/>
<path d="M215.8 10.0C217.7 11.8 221.8 15.9 227.2 20.9C232.6 25.9 240.9 33.5 248.0 40.0C255.1 46.5 262.8 53.5 269.8 60.0C276.8 66.5 284.0 73.5 289.8 79.0C295.6 84.5 301.2 89.5 304.8 93.0C308.3 96.5 307.5 96.0 311.1 100.0C314.6 104.0 321.6 111.8 326.1 117.0C330.5 122.2 334.5 127.0 337.8 131.0C341.1 135.0 343.6 137.8 345.8 141.0C348.0 144.2 349.2 146.8 350.8 150.0C352.4 153.2 354.3 157.2 355.6 160.2C356.8 163.2 357.6 165.4 358.3 168.0C359.0 170.6 359.5 173.5 359.8 176.0C360.1 178.5 360.1 180.5 360.0 183.0C359.9 185.5 359.8 188.2 359.3 191.0C358.8 193.8 358.7 195.2 357.0 199.5C355.3 203.8 352.7 210.2 348.9 216.9C345.1 223.7 338.6 233.5 334.0 240.0C329.4 246.5 325.7 250.1 321.3 255.7C316.9 261.3 312.1 267.5 307.5 273.4C302.9 279.3 298.4 285.4 293.8 291.1C289.2 296.8 284.6 302.2 280.0 307.8C275.4 313.4 271.4 318.5 266.3 325.0C261.2 331.5 252.9 342.0 249.3 346.6C245.7 351.2 245.5 351.5 244.8 352.5"/>
<path d="M597.0 42.0C595.8 43.6 593.8 46.8 589.6 51.5C585.4 56.2 577.1 64.8 572.0 70.5C566.9 76.2 563.0 81.1 559.0 86.0C555.0 90.9 551.5 95.3 548.0 100.0C544.5 104.7 541.2 109.2 538.0 114.0C534.8 118.8 531.8 123.4 529.0 129.0C526.2 134.6 523.2 141.5 521.0 147.5C518.8 153.5 517.1 159.6 516.0 165.2C514.9 170.8 514.5 175.7 514.4 181.0C514.3 186.3 514.6 191.7 515.2 197.0C515.9 202.3 516.8 206.8 518.3 213.0C519.8 219.2 522.0 227.3 524.5 234.1C527.0 240.9 530.3 247.6 533.5 254.0C536.7 260.4 540.5 267.0 543.5 272.5C546.5 278.0 548.1 281.2 551.5 286.9C554.9 292.6 559.7 299.9 563.8 306.5C567.9 313.1 572.0 319.8 576.1 326.2C580.2 332.6 585.6 340.3 588.4 344.6C591.2 348.9 592.2 350.8 593.0 352.0"/>
<path d="M219.8 42.0C221.0 43.6 223.0 46.8 227.2 51.5C231.4 56.2 239.7 64.8 244.8 70.5C249.9 76.2 253.8 81.1 257.8 86.0C261.8 90.9 265.3 95.3 268.8 100.0C272.3 104.7 275.6 109.2 278.8 114.0C282.0 118.8 285.0 123.4 287.8 129.0C290.6 134.6 293.6 141.5 295.8 147.5C298.0 153.5 299.7 159.6 300.8 165.2C301.9 170.8 302.3 175.7 302.4 181.0C302.5 186.3 302.2 191.7 301.6 197.0C300.9 202.3 300.1 206.8 298.5 213.0C296.9 219.2 294.8 227.3 292.3 234.1C289.8 240.9 286.5 247.6 283.3 254.0C280.1 260.4 276.3 267.0 273.3 272.5C270.3 278.0 268.7 281.2 265.3 286.9C261.9 292.6 257.1 299.9 253.0 306.5C248.9 313.1 244.8 319.8 240.7 326.2C236.6 332.6 231.2 340.3 228.4 344.6C225.6 348.9 224.6 350.8 223.8 352.0"/>
<path d="M595.0 80.0C593.7 82.0 590.7 87.2 587.4 92.2C584.1 97.2 579.1 103.6 575.2 109.9C571.3 116.2 567.3 122.8 564.2 129.8C561.1 136.8 558.2 145.4 556.4 152.0C554.5 158.6 553.9 164.6 553.1 169.6C552.3 174.6 551.9 178.3 551.6 182.0C551.3 185.7 551.2 188.5 551.3 192.0C551.4 195.5 551.5 198.4 552.0 203.0C552.5 207.6 553.1 213.6 554.0 219.3C554.9 225.0 556.2 231.1 557.5 237.0C558.8 242.9 560.5 250.0 562.0 255.0C563.5 260.0 564.4 262.3 566.3 267.2C568.2 272.1 571.1 279.1 573.6 284.4C576.1 289.7 578.3 294.0 581.0 299.1C583.7 304.2 587.3 310.8 589.6 315.1C591.9 319.4 594.1 323.4 595.0 325.0"/>
<path d="M221.8 80.0C223.1 82.0 226.1 87.2 229.4 92.2C232.7 97.2 237.7 103.6 241.6 109.9C245.5 116.2 249.5 122.8 252.6 129.8C255.7 136.8 258.5 145.4 260.4 152.0C262.2 158.6 262.9 164.6 263.7 169.6C264.5 174.6 264.9 178.3 265.2 182.0C265.5 185.7 265.6 188.5 265.5 192.0C265.4 195.5 265.2 198.4 264.8 203.0C264.3 207.6 263.7 213.6 262.8 219.3C261.9 225.0 260.6 231.1 259.3 237.0C258.0 242.9 256.3 250.0 254.8 255.0C253.3 260.0 252.4 262.3 250.5 267.2C248.6 272.1 245.6 279.1 243.2 284.4C240.7 289.7 238.5 294.0 235.8 299.1C233.1 304.2 229.5 310.8 227.2 315.1C224.9 319.4 222.7 323.4 221.8 325.0"/>
<path d="M593.0 131.0C592.4 132.6 591.0 136.2 589.6 140.5C588.2 144.8 586.1 151.0 584.7 156.5C583.3 162.0 581.8 168.8 581.0 173.7C580.2 178.6 580.2 181.7 580.1 186.0C580.0 190.3 580.1 194.1 580.5 199.7C580.9 205.2 581.4 212.4 582.2 219.3C583.0 226.2 584.2 233.8 585.4 241.4C586.6 249.0 588.7 259.5 589.6 264.8C590.5 270.1 590.8 271.6 591.0 273.0"/>
<path d="M223.8 131.0C224.4 132.6 225.8 136.2 227.2 140.5C228.6 144.8 230.7 151.0 232.1 156.5C233.5 162.0 235.0 168.8 235.8 173.7C236.6 178.6 236.6 181.7 236.7 186.0C236.8 190.3 236.6 194.1 236.3 199.7C235.9 205.2 235.4 212.4 234.6 219.3C233.8 226.2 232.6 233.8 231.4 241.4C230.2 249.0 228.1 259.5 227.2 264.8C226.3 270.1 226.0 271.6 225.8 273.0"/>
<path d="M226.8 -5.0C228.9 -3.6 236.0 0.9 239.5 3.2C243.0 5.5 242.6 5.0 248.1 8.6C253.6 12.2 264.4 19.0 272.7 24.6C281.0 30.2 289.5 36.5 297.8 42.5C306.1 48.5 314.5 54.9 322.7 60.5C330.9 66.1 339.0 71.5 347.2 76.2C355.4 80.9 364.9 85.4 371.8 88.5C378.6 91.6 382.2 93.0 388.3 94.6C394.4 96.1 401.7 97.8 408.4 97.8C415.1 97.8 422.4 96.1 428.5 94.6C434.6 93.0 438.1 91.6 445.0 88.5C451.9 85.4 461.4 80.9 469.6 76.2C477.8 71.5 485.9 66.1 494.1 60.5C502.3 54.9 510.7 48.5 519.0 42.5C527.3 36.5 535.8 30.2 544.1 24.6C552.4 19.0 563.2 12.2 568.7 8.6C574.2 5.0 573.8 5.5 577.3 3.2C580.8 0.9 587.9 -3.6 590.0 -5.0"/>
<path d="M266.8 -4.0C269.1 -2.8 275.2 0.6 280.4 3.2C285.6 5.8 290.8 7.9 297.8 11.7C304.8 15.5 314.0 21.6 322.2 25.8C330.4 30.0 338.9 33.7 347.2 36.9C355.5 40.1 364.9 42.8 371.8 44.8C378.6 46.8 382.2 47.5 388.3 48.6C394.4 49.7 401.7 51.1 408.4 51.1C415.1 51.1 422.4 49.7 428.5 48.6C434.6 47.5 438.1 46.8 445.0 44.8C451.9 42.8 461.3 40.1 469.6 36.9C477.9 33.7 486.4 30.0 494.6 25.8C502.8 21.6 512.0 15.5 519.0 11.7C526.0 7.9 531.2 5.8 536.4 3.2C541.6 0.6 547.7 -2.8 550.0 -4.0"/>
<path d="M321.8 -1.0C324.4 -0.3 332.3 2.0 337.4 3.2C342.4 4.4 346.4 4.9 352.1 6.1C357.8 7.3 365.8 8.9 371.8 10.3C377.8 11.7 382.2 13.5 388.3 14.7C394.4 15.8 401.7 17.2 408.4 17.2C415.1 17.2 422.4 15.8 428.5 14.7C434.6 13.5 439.0 11.7 445.0 10.3C451.0 8.9 459.0 7.3 464.7 6.1C470.4 4.9 474.3 4.4 479.4 3.2C484.4 2.0 492.4 -0.3 495.0 -1.0"/>
<path d="M267.8 352.0C268.6 351.1 269.0 350.5 272.7 346.6C276.4 342.7 284.1 334.2 289.9 328.6C295.7 323.0 302.1 317.7 307.3 313.0C312.5 308.3 316.5 304.4 321.3 300.5C326.0 296.6 330.5 292.9 335.8 289.3C341.0 285.7 347.8 282.0 352.8 279.0C357.8 276.0 361.2 273.9 365.9 271.5C370.6 269.1 376.2 266.7 380.8 264.8C385.3 262.9 388.6 261.4 393.2 260.3C397.8 259.2 403.3 258.4 408.4 258.4C413.5 258.4 419.0 259.2 423.6 260.3C428.2 261.4 431.4 262.9 436.0 264.8C440.6 266.7 446.2 269.1 450.9 271.5C455.6 273.9 459.0 276.0 464.0 279.0C469.0 282.0 475.8 285.7 481.0 289.3C486.2 292.9 490.8 296.6 495.5 300.5C500.2 304.4 504.3 308.3 509.5 313.0C514.7 317.7 521.1 323.0 526.9 328.6C532.7 334.2 540.4 342.7 544.1 346.6C547.8 350.5 548.2 351.1 549.0 352.0"/>
<path d="M293.8 352.0C295.0 351.1 298.3 348.5 300.9 346.6C303.5 344.8 306.0 343.5 309.5 340.9C313.0 338.3 318.0 334.0 321.8 331.0C325.6 328.0 327.4 326.1 332.5 323.0C337.6 319.9 345.6 315.4 352.2 312.7C358.7 309.9 365.4 308.4 371.8 306.5C378.2 304.6 384.6 302.8 390.7 301.6C396.8 300.4 402.5 299.1 408.4 299.1C414.3 299.1 420.0 300.4 426.1 301.6C432.2 302.8 438.6 304.6 445.0 306.5C451.4 308.4 458.1 309.9 464.6 312.7C471.2 315.4 479.2 319.9 484.3 323.0C489.4 326.1 491.2 328.0 495.0 331.0C498.8 334.0 503.8 338.3 507.3 340.9C510.8 343.5 513.3 344.8 515.9 346.6C518.5 348.5 521.8 351.1 523.0 352.0"/>
<path d="M328.8 352.0C330.6 351.1 334.8 348.7 339.4 346.6C343.9 344.5 350.7 341.2 356.1 339.3C361.5 337.4 366.0 336.4 371.8 335.0C377.6 333.6 384.6 331.7 390.7 330.6C396.8 329.5 402.5 328.6 408.4 328.6C414.3 328.6 420.0 329.5 426.1 330.6C432.2 331.7 439.2 333.6 445.0 335.0C450.8 336.4 455.3 337.4 460.7 339.3C466.1 341.2 472.8 344.5 477.4 346.6C481.9 348.7 486.2 351.1 488.0 352.0"/>
</g>
<path d="M589.5 3.5H247.5V346.5H589.5" fill="none" stroke="#3c3c10" stroke-width="1"/>
<path d="M589.5 3.5V346.5" fill="none" stroke="#55553a" stroke-opacity="0.55" stroke-width="1"/>
<path d="M247.5 343.4h3.6M589.5 343.4h-3.6M247.5 314.4h3.6M589.5 314.4h-3.6M247.5 285.4h3.6M589.5 285.4h-3.6M247.5 256.4h3.6M589.5 256.4h-3.6M247.5 227.4h3.6M589.5 227.4h-3.6M247.5 198.4h3.6M589.5 198.4h-3.6M247.5 169.4h3.6M589.5 169.4h-3.6M247.5 140.4h3.6M589.5 140.4h-3.6M247.5 111.5h3.6M589.5 111.5h-3.6M247.5 82.5h3.6M589.5 82.5h-3.6M247.5 53.5h3.6M589.5 53.5h-3.6M247.5 24.4h3.6M589.5 24.4h-3.6M292.5 346.5v-3.6M292.5 3.5v3.6M350.4 346.5v-3.6M350.4 3.5v3.6M408.4 346.5v-3.6M408.4 3.5v3.6M466.4 346.5v-3.6M466.4 3.5v3.6M524.3 346.5v-3.6M524.3 3.5v3.6M582.3 346.5v-3.6M582.3 3.5v3.6" stroke="#1a1a1a" stroke-width="1" fill="none"/>
<g font-family='"Liberation Sans", sans-serif' font-size="13" fill="#1a1a1a" stroke="#1a1a1a" stroke-width="0.2">
<text x="245" y="347.3" text-anchor="end">62</text>
<text x="245" y="318.3" text-anchor="end">63</text>
<text x="245" y="289.3" text-anchor="end">64</text>
<text x="245" y="260.3" text-anchor="end">65</text>
<text x="245" y="231.3" text-anchor="end">66</text>
<text x="245" y="202.3" text-anchor="end">67</text>
<text x="245" y="173.3" text-anchor="end">68</text>
<text x="245" y="144.3" text-anchor="end">69</text>
<text x="245" y="115.4" text-anchor="end">70</text>
<text x="245" y="86.4" text-anchor="end">71</text>
<text x="245" y="57.4" text-anchor="end">72</text>
<text x="245" y="28.3" text-anchor="end">73</text>
<text x="292.8" y="362" text-anchor="middle">-4</text>
<text x="350.7" y="362" text-anchor="middle">-2</text>
<text x="408.4" y="362" text-anchor="middle">0</text>
<text x="466.4" y="362" text-anchor="middle">2</text>
<text x="524.3" y="362" text-anchor="middle">4</text>
</g>
<g font-family='"Liberation Sans", sans-serif' fill="#000">
<text x="422" y="401" font-size="14.5" text-anchor="middle">X (µm)</text>
<text transform="translate(210.4 195) rotate(-90)" font-size="14.5" text-anchor="middle">Z (µm)</text>
<text transform="translate(681.7 181) rotate(-90)" font-size="15.3" text-anchor="middle">Pseudopotential (a.u.)</text>
<text x="204.6" y="21" font-size="19" font-weight="bold" stroke="#000" stroke-width="0.35">b)</text>
</g>
<linearGradient id="cb" x1="0" y1="0" x2="0" y2="1"><stop offset="0.0000" stop-color="#800a0c"/><stop offset="0.0250" stop-color="#9e0c0b"/><stop offset="0.0500" stop-color="#b90f0a"/><stop offset="0.0750" stop-color="#d3120a"/><stop offset="0.1000" stop-color="#e01a0a"/><stop offset="0.1250" stop-color="#e8240a"/><stop offset="0.1500" stop-color="#eb2f0a"/><stop offset="0.1750" stop-color="#ef4406"/><stop offset="0.2000" stop-color="#f05a05"/><stop offset="0.2250" stop-color="#f07205"/><stop offset="0.2500" stop-color="#f08905"/><stop offset="0.2750" stop-color="#ef9f07"/><stop offset="0.3000" stop-color="#eeb30b"/><stop offset="0.3250" stop-color="#ebc40e"/><stop offset="0.3500" stop-color="#e6da0f"/><stop offset="0.3750" stop-color="#dcee12"/><stop offset="0.4000" stop-color="#cbf81c"/><stop offset="0.4250" stop-color="#b6fc36"/><stop offset="0.4500" stop-color="#9ffd54"/><stop offset="0.4750" stop-color="#89fe73"/><stop offset="0.5000" stop-color="#74fd8d"/><stop offset="0.5250" stop-color="#62fca4"/><stop offset="0.5500" stop-color="#53fab8"/><stop offset="0.5750" stop-color="#44f6c8"/><stop offset="0.6000" stop-color="#38efd5"/><stop offset="0.6250" stop-color="#2de6e1"/><stop offset="0.6500" stop-color="#2adceb"/><stop offset="0.6750" stop-color="#29ccf2"/><stop offset="0.7000" stop-color="#2ab6f5"/><stop offset="0.7250" stop-color="#29a0f5"/><stop offset="0.7500" stop-color="#288bf4"/><stop offset="0.7750" stop-color="#2877f2"/><stop offset="0.8000" stop-color="#2c66f1"/><stop offset="0.8250" stop-color="#2f55ee"/><stop offset="0.8500" stop-color="#3245ec"/><stop offset="0.8750" stop-color="#323be7"/><stop offset="0.9000" stop-color="#2e30db"/><stop offset="0.9250" stop-color="#2a2aca"/><stop offset="0.9500" stop-color="#2727b7"/><stop offset="0.9750" stop-color="#2424a0"/><stop offset="1.0000" stop-color="#1e1e87"/></linearGradient>
<rect x="602.2" y="51.0" width="8.8" height="271.6" fill="url(#cb)"/>
<rect x="602.6" y="51.4" width="8.0" height="270.8" fill="none" stroke="#101020" stroke-opacity="0.35" stroke-width="0.8"/>
<path d="M602.2 321.5h1.5M611.0 321.5h-1.5M602.2 318.3h1.5M611.0 318.3h-1.5M602.2 315.4h1.5M611.0 315.4h-1.5M602.2 312.8h2.2M611.0 312.8h-2.2M602.2 295.8h1.5M611.0 295.8h-1.5M602.2 285.9h1.5M611.0 285.9h-1.5M602.2 278.8h1.5M611.0 278.8h-1.5M602.2 273.4h1.5M611.0 273.4h-1.5M602.2 268.9h1.5M611.0 268.9h-1.5M602.2 265.1h1.5M611.0 265.1h-1.5M602.2 261.9h1.5M611.0 261.9h-1.5M602.2 259.0h1.5M611.0 259.0h-1.5M602.2 256.4h2.2M611.0 256.4h-2.2M602.2 239.4h1.5M611.0 239.4h-1.5M602.2 229.5h1.5M611.0 229.5h-1.5M602.2 222.4h1.5M611.0 222.4h-1.5M602.2 217.0h1.5M611.0 217.0h-1.5M602.2 212.5h1.5M611.0 212.5h-1.5M602.2 208.7h1.5M611.0 208.7h-1.5M602.2 205.5h1.5M611.0 205.5h-1.5M602.2 202.6h1.5M611.0 202.6h-1.5M602.2 200.0h2.2M611.0 200.0h-2.2M602.2 183.0h1.5M611.0 183.0h-1.5M602.2 173.1h1.5M611.0 173.1h-1.5M602.2 166.0h1.5M611.0 166.0h-1.5M602.2 160.6h1.5M611.0 160.6h-1.5M602.2 156.1h1.5M611.0 156.1h-1.5M602.2 152.3h1.5M611.0 152.3h-1.5M602.2 149.1h1.5M611.0 149.1h-1.5M602.2 146.2h1.5M611.0 146.2h-1.5M602.2 143.6h2.2M611.0 143.6h-2.2M602.2 126.6h1.5M611.0 126.6h-1.5M602.2 116.7h1.5M611.0 116.7h-1.5M602.2 109.6h1.5M611.0 109.6h-1.5M602.2 104.2h1.5M611.0 104.2h-1.5M602.2 99.7h1.5M611.0 99.7h-1.5M602.2 95.9h1.5M611.0 95.9h-1.5M602.2 92.7h1.5M611.0 92.7h-1.5M602.2 89.8h1.5M611.0 89.8h-1.5M602.2 87.2h2.2M611.0 87.2h-2.2M602.2 70.2h1.5M611.0 70.2h-1.5M602.2 60.3h1.5M611.0 60.3h-1.5M602.2 53.3h1.5M611.0 53.3h-1.5" stroke="#222" stroke-width="0.7" stroke-opacity="0.8" fill="none"/>
<g font-family='"Liberation Sans", sans-serif' fill="#1a1a1a" stroke="#1a1a1a" stroke-width="0.2">
<text x="616.1" y="92.2" font-size="13">10</text>
<text x="631.4" y="85.7" font-size="9.6">3</text>
<text x="616.1" y="148.6" font-size="13">10</text>
<text x="631.4" y="142.1" font-size="9.6">2</text>
<text x="616.1" y="205.0" font-size="13">10</text>
<text x="631.4" y="198.5" font-size="9.6">1</text>
<text x="616.1" y="261.4" font-size="13">10</text>
<text x="631.4" y="254.9" font-size="9.6">0</text>
<text x="616.1" y="317.8" font-size="13">10</text>
<text x="631.4" y="311.3" font-size="9.6">-1</text>
</g>
</svg>
</body></html>
